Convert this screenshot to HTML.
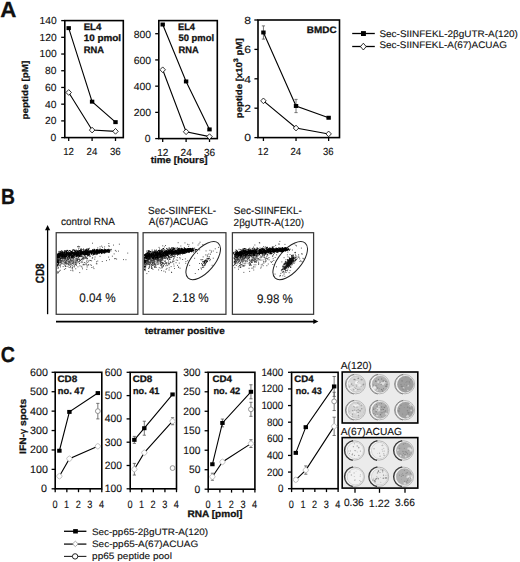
<!DOCTYPE html>
<html><head><meta charset="utf-8"><style>
html,body{margin:0;padding:0;background:#fff;}
svg{display:block;}
text{stroke:#111;stroke-width:0.12px;}
text[font-weight=bold]{stroke-width:0.28px;}
</style></head><body>
<svg width="520" height="562" viewBox="0 0 520 562" font-family="&quot;Liberation Sans&quot;, sans-serif" fill="#000" text-rendering="geometricPrecision">
<text transform="translate(0.14,16.60) scale(1.0244,1)" font-size="21.800" font-weight="bold" fill="#111">A</text>
<rect x="64.80" y="20.60" width="58.50" height="117.00" fill="none" stroke="#000" stroke-width="1.6"/>
<line x1="61.20" y1="137.60" x2="64.80" y2="137.60" stroke="#000" stroke-width="1.3"/>
<text transform="translate(50.62,140.99) scale(0.9999,1)" font-size="10.285" fill="#111">0</text>
<line x1="61.20" y1="120.89" x2="64.80" y2="120.89" stroke="#000" stroke-width="1.3"/>
<text transform="translate(45.06,124.28) scale(0.9999,1)" font-size="10.285" fill="#111">20</text>
<line x1="61.20" y1="104.17" x2="64.80" y2="104.17" stroke="#000" stroke-width="1.3"/>
<text transform="translate(45.06,107.57) scale(0.9999,1)" font-size="10.285" fill="#111">40</text>
<line x1="61.20" y1="87.46" x2="64.80" y2="87.46" stroke="#000" stroke-width="1.3"/>
<text transform="translate(45.06,90.85) scale(0.9999,1)" font-size="10.285" fill="#111">60</text>
<line x1="61.20" y1="70.74" x2="64.80" y2="70.74" stroke="#000" stroke-width="1.3"/>
<text transform="translate(45.06,74.14) scale(0.9999,1)" font-size="10.285" fill="#111">80</text>
<line x1="61.20" y1="54.03" x2="64.80" y2="54.03" stroke="#000" stroke-width="1.3"/>
<text transform="translate(39.50,57.42) scale(0.9999,1)" font-size="10.285" fill="#111">100</text>
<line x1="61.20" y1="37.31" x2="64.80" y2="37.31" stroke="#000" stroke-width="1.3"/>
<text transform="translate(39.50,40.71) scale(0.9999,1)" font-size="10.285" fill="#111">120</text>
<line x1="61.20" y1="20.60" x2="64.80" y2="20.60" stroke="#000" stroke-width="1.3"/>
<text transform="translate(39.50,23.99) scale(0.9999,1)" font-size="10.285" fill="#111">140</text>
<line x1="68.70" y1="137.60" x2="68.70" y2="141.00" stroke="#000" stroke-width="1.3"/>
<text transform="translate(63.14,154.98) scale(0.9457,1)" font-size="10.285" fill="#111">12</text>
<line x1="92.10" y1="137.60" x2="92.10" y2="141.00" stroke="#000" stroke-width="1.3"/>
<text transform="translate(86.54,154.98) scale(0.9457,1)" font-size="10.285" fill="#111">24</text>
<line x1="115.50" y1="137.60" x2="115.50" y2="141.00" stroke="#000" stroke-width="1.3"/>
<text transform="translate(109.94,154.98) scale(0.9457,1)" font-size="10.285" fill="#111">36</text>
<path d="M68.70,28.12 L92.10,101.66 L115.50,122.14" fill="none" stroke="#000" stroke-width="1.1"/>
<rect x="66.50" y="26.14" width="4.40" height="3.96" fill="#000"/>
<rect x="89.90" y="99.68" width="4.40" height="3.96" fill="#000"/>
<rect x="113.30" y="120.16" width="4.40" height="3.96" fill="#000"/>
<path d="M68.70,92.47 L92.10,130.08 L115.50,131.33" fill="none" stroke="#000" stroke-width="1.1"/>
<path d="M68.70,89.61 L71.45,92.47 L68.70,95.33 L65.95,92.47 Z" fill="#fff" stroke="#000" stroke-width="0.8"/>
<path d="M92.10,127.22 L94.85,130.08 L92.10,132.94 L89.35,130.08 Z" fill="#fff" stroke="#000" stroke-width="0.8"/>
<path d="M115.50,128.47 L118.25,131.33 L115.50,134.19 L112.75,131.33 Z" fill="#fff" stroke="#000" stroke-width="0.8"/>
<text transform="translate(83.66,29.88) scale(1.0262,1)" font-size="9.416" font-weight="bold" fill="#111">EL4</text>
<text transform="translate(83.68,41.10) scale(1.0530,1)" font-size="9.416" font-weight="bold" fill="#111">10 pmol</text>
<text transform="translate(83.70,53.19) scale(0.9942,1)" font-size="9.416" font-weight="bold" fill="#111">RNA</text>
<text transform="translate(28.29,119.59) rotate(-90) scale(1.1424,1)" font-size="8.685" font-weight="bold" fill="#111">peptide [pM]</text>
<rect x="158.80" y="20.60" width="58.50" height="118.00" fill="none" stroke="#000" stroke-width="1.6"/>
<line x1="155.20" y1="138.60" x2="158.80" y2="138.60" stroke="#000" stroke-width="1.3"/>
<text transform="translate(144.87,142.38) scale(1.0170,1)" font-size="10.285" fill="#111">0</text>
<line x1="155.20" y1="112.38" x2="158.80" y2="112.38" stroke="#000" stroke-width="1.3"/>
<text transform="translate(133.75,116.16) scale(1.0170,1)" font-size="10.285" fill="#111">200</text>
<line x1="155.20" y1="86.16" x2="158.80" y2="86.16" stroke="#000" stroke-width="1.3"/>
<text transform="translate(133.75,89.94) scale(1.0170,1)" font-size="10.285" fill="#111">400</text>
<line x1="155.20" y1="59.93" x2="158.80" y2="59.93" stroke="#000" stroke-width="1.3"/>
<text transform="translate(133.75,63.72) scale(1.0170,1)" font-size="10.285" fill="#111">600</text>
<line x1="155.20" y1="33.71" x2="158.80" y2="33.71" stroke="#000" stroke-width="1.3"/>
<text transform="translate(133.75,37.50) scale(1.0170,1)" font-size="10.285" fill="#111">800</text>
<line x1="162.70" y1="138.60" x2="162.70" y2="142.00" stroke="#000" stroke-width="1.3"/>
<text transform="translate(157.14,155.61) scale(0.9807,1)" font-size="10.285" fill="#111">12</text>
<line x1="186.10" y1="138.60" x2="186.10" y2="142.00" stroke="#000" stroke-width="1.3"/>
<text transform="translate(180.54,155.61) scale(0.9807,1)" font-size="10.285" fill="#111">24</text>
<line x1="209.50" y1="138.60" x2="209.50" y2="142.00" stroke="#000" stroke-width="1.3"/>
<text transform="translate(203.94,155.61) scale(0.9807,1)" font-size="10.285" fill="#111">36</text>
<path d="M162.70,24.53 L186.10,81.44 L209.50,129.42" fill="none" stroke="#000" stroke-width="1.1"/>
<rect x="160.50" y="22.55" width="4.40" height="3.96" fill="#000"/>
<rect x="183.90" y="79.46" width="4.40" height="3.96" fill="#000"/>
<rect x="207.30" y="127.44" width="4.40" height="3.96" fill="#000"/>
<path d="M162.70,69.77 L186.10,131.78 L209.50,136.63" fill="none" stroke="#000" stroke-width="1.1"/>
<path d="M162.70,66.91 L165.45,69.77 L162.70,72.63 L159.95,69.77 Z" fill="#fff" stroke="#000" stroke-width="0.8"/>
<path d="M186.10,128.92 L188.85,131.78 L186.10,134.64 L183.35,131.78 Z" fill="#fff" stroke="#000" stroke-width="0.8"/>
<path d="M209.50,133.77 L212.25,136.63 L209.50,139.49 L206.75,136.63 Z" fill="#fff" stroke="#000" stroke-width="0.8"/>
<text transform="translate(177.97,29.87) scale(0.9880,1)" font-size="9.416" font-weight="bold" fill="#111">EL4</text>
<text transform="translate(178.51,40.98) scale(1.0000,1)" font-size="9.416" font-weight="bold" fill="#111">50 pmol</text>
<text transform="translate(178.50,53.28) scale(0.9859,1)" font-size="9.416" font-weight="bold" fill="#111">RNA</text>
<text transform="translate(150.76,163.21) scale(1.0624,1)" font-size="9.275" font-weight="bold" fill="#111">time [hours]</text>
<rect x="258.00" y="20.00" width="81.50" height="117.60" fill="none" stroke="#000" stroke-width="1.6"/>
<line x1="254.40" y1="137.60" x2="258.00" y2="137.60" stroke="#000" stroke-width="1.3"/>
<text transform="translate(244.34,141.46) scale(1.1842,1)" font-size="10.285" fill="#111">0</text>
<line x1="254.40" y1="108.20" x2="258.00" y2="108.20" stroke="#000" stroke-width="1.3"/>
<text transform="translate(244.34,112.06) scale(1.1842,1)" font-size="10.285" fill="#111">2</text>
<line x1="254.40" y1="78.80" x2="258.00" y2="78.80" stroke="#000" stroke-width="1.3"/>
<text transform="translate(244.34,82.66) scale(1.1842,1)" font-size="10.285" fill="#111">4</text>
<line x1="254.40" y1="49.40" x2="258.00" y2="49.40" stroke="#000" stroke-width="1.3"/>
<text transform="translate(244.34,53.26) scale(1.1842,1)" font-size="10.285" fill="#111">6</text>
<line x1="254.40" y1="20.00" x2="258.00" y2="20.00" stroke="#000" stroke-width="1.3"/>
<text transform="translate(244.34,23.86) scale(1.1842,1)" font-size="10.285" fill="#111">8</text>
<line x1="263.43" y1="137.60" x2="263.43" y2="141.00" stroke="#000" stroke-width="1.3"/>
<text transform="translate(257.87,154.93) scale(0.9281,1)" font-size="10.285" fill="#111">12</text>
<line x1="296.03" y1="137.60" x2="296.03" y2="141.00" stroke="#000" stroke-width="1.3"/>
<text transform="translate(290.47,154.93) scale(0.9281,1)" font-size="10.285" fill="#111">24</text>
<line x1="328.63" y1="137.60" x2="328.63" y2="141.00" stroke="#000" stroke-width="1.3"/>
<text transform="translate(323.07,154.93) scale(0.9281,1)" font-size="10.285" fill="#111">36</text>
<line x1="263.43" y1="25.88" x2="263.43" y2="39.11" stroke="#555" stroke-width="0.8"/>
<line x1="261.83" y1="25.88" x2="265.03" y2="25.88" stroke="#555" stroke-width="0.8"/>
<line x1="261.83" y1="39.11" x2="265.03" y2="39.11" stroke="#555" stroke-width="0.8"/>
<line x1="296.03" y1="99.38" x2="296.03" y2="112.61" stroke="#555" stroke-width="0.8"/>
<line x1="294.43" y1="99.38" x2="297.63" y2="99.38" stroke="#555" stroke-width="0.8"/>
<line x1="294.43" y1="112.61" x2="297.63" y2="112.61" stroke="#555" stroke-width="0.8"/>
<path d="M263.43,32.49 L296.03,106.00 L328.63,117.75" fill="none" stroke="#000" stroke-width="1.1"/>
<rect x="261.23" y="30.51" width="4.40" height="3.96" fill="#000"/>
<rect x="293.83" y="104.02" width="4.40" height="3.96" fill="#000"/>
<rect x="326.43" y="115.77" width="4.40" height="3.96" fill="#000"/>
<path d="M263.43,100.85 L296.03,128.04 L328.63,133.92" fill="none" stroke="#000" stroke-width="1.1"/>
<path d="M263.43,97.99 L266.18,100.85 L263.43,103.71 L260.68,100.85 Z" fill="#fff" stroke="#000" stroke-width="0.8"/>
<path d="M296.03,125.18 L298.78,128.04 L296.03,130.91 L293.28,128.04 Z" fill="#fff" stroke="#000" stroke-width="0.8"/>
<path d="M328.63,131.06 L331.38,133.92 L328.63,136.78 L325.88,133.92 Z" fill="#fff" stroke="#000" stroke-width="0.8"/>
<text transform="translate(306.77,32.59) scale(1.0561,1)" font-size="9.416" font-weight="bold" fill="#111">BMDC</text>
<text transform="translate(241.87,118.18) rotate(-90) scale(1.1076,1)" font-size="8.685" font-weight="bold" fill="#111">peptide [x10<tspan font-size="6.5" dy="-3.6">3</tspan><tspan dy="3.6"> pM]</tspan></text>
<line x1="352.20" y1="33.50" x2="374.80" y2="33.50" stroke="#000" stroke-width="1.3"/>
<rect x="361.00" y="31.10" width="4.90" height="4.90" fill="#000"/>
<line x1="352.20" y1="46.50" x2="374.80" y2="46.50" stroke="#000" stroke-width="1.3"/>
<path d="M363.35,43.20 L366.20,46.60 L363.35,50.00 L360.50,46.60 Z" fill="#fff" stroke="#000" stroke-width="0.8"/>
<text transform="translate(379.42,37.16) scale(1.0478,1)" font-size="9.500" fill="#111">Sec-SIINFEKL-2βgUTR-A(120)</text>
<text transform="translate(379.43,48.47) scale(1.0451,1)" font-size="9.500" fill="#111">Sec-SIINFEKL-A(67)ACUAG</text>
<text transform="translate(0.92,203.59) scale(0.8871,1)" font-size="21.800" font-weight="bold" fill="#111">B</text>
<rect x="56.20" y="232.7" width="81.65" height="81.6" fill="none" stroke="#3a3a3a" stroke-width="1.25"/>
<rect x="143.10" y="232.7" width="82.85" height="81.6" fill="none" stroke="#3a3a3a" stroke-width="1.25"/>
<rect x="232.40" y="232.7" width="81.20" height="81.6" fill="none" stroke="#3a3a3a" stroke-width="1.25"/>
<line x1="47.60" y1="229.00" x2="47.60" y2="314.20" stroke="#000" stroke-width="1.3"/>
<path d="M47.6,225 L50.2,230.2 L45.0,230.2 Z" fill="#000"/>
<line x1="56.00" y1="321.60" x2="314.00" y2="321.60" stroke="#000" stroke-width="1.6"/>
<path d="M318.4,321.6 L313.3,319.1 L313.3,324.1 Z" fill="#000"/>
<text transform="translate(43.51,283.22) rotate(-90) scale(0.8242,1)" font-size="11.984" font-weight="bold" fill="#111">CD8</text>
<text transform="translate(144.67,333.72) scale(1.0398,1)" font-size="9.568" font-weight="bold" fill="#111">tetramer positive</text>
<text transform="translate(60.88,225.17) scale(0.9662,1)" font-size="10.369" fill="#111">control RNA</text>
<text transform="translate(148.01,214.38) scale(0.9613,1)" font-size="10.369" fill="#111">Sec-SIINFEKL-</text>
<text transform="translate(148.78,225.40) scale(0.9554,1)" font-size="10.369" fill="#111">A(67)ACUAG</text>
<text transform="translate(233.78,214.45) scale(0.9603,1)" font-size="10.369" fill="#111">Sec-SIINFEKL-</text>
<text transform="translate(233.60,225.61) scale(0.9616,1)" font-size="10.369" fill="#111">2βgUTR-A(120)</text>
<text transform="translate(79.17,302.33) scale(0.9345,1)" font-size="12.518" fill="#111">0.04 %</text>
<text transform="translate(172.44,302.14) scale(0.9322,1)" font-size="12.518" fill="#111">2.18 %</text>
<text transform="translate(256.90,302.55) scale(0.9234,1)" font-size="12.518" fill="#111">9.98 %</text>
<ellipse cx="203.2" cy="260.6" rx="23.1" ry="11.3" transform="rotate(-49.5 203.2 260.6)" fill="none" stroke="#222" stroke-width="1"/>
<ellipse cx="290.2" cy="260.6" rx="23.1" ry="11.3" transform="rotate(-49.5 290.2 260.6)" fill="none" stroke="#222" stroke-width="1"/>
<path d="M65.7 260.5h0.9M82.9 264.3h0.9M67.9 256.7h0.9M60.5 261.3h0.9M99.6 256.3h0.9M72.5 262.4h0.9M71.8 268.5h0.9M62.7 266.6h0.9M67.1 257.7h0.9M60.1 262.7h0.9M83.5 257.9h0.9M61.3 262.0h0.9M84.3 264.7h0.9M63.9 269.4h0.9M64.0 257.5h0.9M72.1 258.2h0.9M95.9 263.7h0.9M86.1 257.5h0.9M78.2 261.9h0.9M74.8 261.6h0.9M67.4 258.9h0.9M72.7 262.8h0.9M63.4 261.4h0.9M67.7 262.6h0.9M77.1 259.9h0.9M68.5 258.6h0.9M65.2 268.6h0.9M59.4 259.5h0.9M82.3 259.9h0.9M59.0 260.3h0.9M67.3 263.6h0.9M63.5 259.1h0.9M79.1 256.7h0.9M71.7 265.6h0.9M71.4 260.8h0.9M62.7 257.3h0.9M78.8 259.6h0.9M83.0 257.3h0.9M58.2 262.4h0.9M75.3 268.8h0.9M80.7 256.3h0.9M72.9 257.0h0.9M73.3 262.2h0.9M68.6 256.4h0.9M80.1 260.5h0.9M73.1 258.7h0.9M77.6 258.2h0.9M77.3 259.1h0.9M59.6 261.5h0.9M65.2 263.5h0.9M84.6 258.5h0.9M65.2 266.5h0.9M84.7 257.0h0.9M58.5 259.1h0.9M64.2 257.0h0.9M69.8 258.9h0.9M60.0 262.2h0.9M86.6 256.3h0.9M58.7 256.6h0.9M59.7 260.0h0.9M66.8 258.4h0.9M96.1 261.8h0.9M94.6 257.0h0.9M69.7 264.0h0.9M74.1 266.0h0.9M81.2 256.4h0.9M69.9 261.7h0.9M63.8 263.2h0.9M82.5 258.2h0.9M68.6 257.0h0.9M61.4 261.9h0.9M67.6 261.3h0.9M86.6 265.7h0.9M74.2 262.9h0.9M82.6 264.9h0.9M57.7 264.0h0.9M60.5 256.5h0.9M68.6 263.2h0.9M67.7 260.3h0.9M84.8 256.4h0.9M65.5 262.0h0.9M76.9 260.5h0.9M81.7 259.0h0.9M75.9 264.2h0.9M88.2 261.2h0.9M86.7 267.0h0.9M62.7 260.7h0.9M87.1 258.4h0.9M61.9 258.8h0.9M77.5 261.8h0.9M68.8 261.3h0.9M72.5 270.9h0.9M62.1 259.0h0.9M60.5 263.1h0.9M66.1 260.8h0.9M77.5 266.8h0.9M71.1 257.7h0.9M78.9 263.3h0.9M77.2 259.5h0.9M91.4 267.5h0.9M58.9 260.1h0.9M68.1 259.5h0.9M79.2 261.3h0.9M70.1 259.6h0.9M71.4 256.9h0.9M78.4 259.2h0.9M60.7 258.3h0.9M63.4 257.5h0.9M59.8 270.3h0.9M68.8 262.5h0.9M73.8 267.0h0.9M65.3 259.5h0.9M57.7 257.3h0.9M87.9 264.6h0.9M67.5 266.3h0.9M88.8 260.3h0.9M64.4 264.4h0.9M67.2 258.7h0.9M86.7 260.0h0.9M72.2 270.0h0.9M87.7 265.1h0.9M67.5 263.6h0.9M69.5 257.8h0.9M58.7 258.7h0.9M68.0 256.6h0.9M75.3 260.3h0.9M69.5 265.3h0.9M82.7 258.8h0.9M79.5 260.4h0.9M91.2 260.8h0.9M61.7 260.0h0.9M73.4 259.4h0.9M69.2 258.7h0.9M83.5 259.0h0.9M68.6 258.2h0.9M59.5 256.5h0.9M79.3 272.6h0.9M85.1 257.2h0.9M81.4 261.4h0.9M70.4 259.4h0.9M85.6 262.9h0.9M82.1 268.8h0.9M75.8 262.6h0.9M65.8 261.1h0.9M83.0 258.7h0.9M63.4 256.4h0.9M62.4 260.5h0.9M71.2 263.9h0.9M63.0 258.4h0.9M65.8 262.8h0.9M61.7 263.7h0.9M65.4 259.2h0.9M60.4 260.8h0.9M91.8 258.2h0.9M59.1 259.9h0.9M82.3 262.3h0.9M72.3 259.8h0.9M86.3 269.4h0.9M71.6 257.3h0.9M63.3 261.9h0.9M64.3 260.8h0.9M79.1 263.6h0.9M69.8 264.1h0.9M61.4 256.3h0.9M93.5 268.6h0.9M68.9 256.5h0.9M62.2 257.8h0.9M63.9 259.0h0.9M70.2 258.9h0.9M68.5 264.1h0.9M59.1 258.1h0.9M72.9 264.2h0.9M67.4 259.4h0.9M68.3 259.4h0.9M82.6 257.0h0.9M77.4 261.9h0.9M90.1 260.5h0.9M58.6 260.6h0.9M61.3 262.9h0.9M75.7 260.0h0.9M65.2 261.7h0.9M60.0 260.5h0.9M59.4 256.3h0.9M62.8 258.5h0.9M68.8 261.5h0.9M68.7 267.5h0.9M64.6 265.9h0.9M62.8 257.9h0.9M81.9 258.3h0.9M58.5 263.1h0.9M86.2 261.2h0.9M81.1 259.4h0.9M92.2 257.7h0.9M72.2 257.0h0.9M71.0 256.8h0.9M59.0 271.2h0.9M58.9 256.4h0.9M59.8 258.3h0.9M58.7 256.8h0.9M75.1 262.3h0.9M78.0 256.6h0.9M75.5 259.2h0.9M60.0 266.9h0.9M84.1 262.6h0.9M76.4 259.8h0.9M57.6 256.4h0.9M57.6 263.9h0.9M67.8 258.8h0.9M66.1 264.1h0.9M61.6 256.7h0.9M80.7 262.6h0.9M64.9 262.5h0.9M67.5 261.7h0.9M65.1 256.5h0.9M64.7 262.2h0.9M62.2 257.7h0.9M70.4 267.6h0.9M60.6 257.1h0.9M59.5 256.6h0.9M65.5 266.3h0.9M94.3 259.2h0.9M70.4 270.4h0.9M70.9 258.9h0.9M65.9 263.4h0.9M60.3 259.9h0.9M62.9 264.1h0.9M74.0 257.7h0.9M70.1 260.4h0.9M70.2 266.5h0.9M72.6 260.7h0.9M73.8 260.2h0.9M89.8 264.8h0.9M67.0 258.5h0.9M64.7 262.8h0.9M77.1 260.5h0.9M76.2 258.7h0.9M72.0 267.5h0.9M58.6 261.5h0.9M106.1 260.6h0.9M58.0 263.0h0.9M75.0 264.5h0.9M74.7 264.2h0.9M81.9 258.3h0.9M91.1 265.3h0.9M75.6 256.7h0.9M80.9 259.6h0.9M76.1 265.3h0.9M65.2 258.4h0.9M79.5 265.8h0.9M67.2 259.6h0.9M68.0 257.4h0.9M60.3 259.4h0.9M64.7 265.3h0.9M68.6 265.1h0.9M70.3 260.8h0.9M63.4 256.6h0.9M71.0 261.2h0.9M58.4 257.6h0.9M73.6 257.3h0.9M85.3 257.9h0.9M92.9 267.0h0.9M76.4 263.1h0.9M71.8 256.5h0.9M69.4 262.5h0.9M73.5 261.4h0.9M69.9 262.9h0.9M67.6 264.3h0.9M63.2 258.1h0.9M76.6 256.7h0.9M60.8 260.9h0.9M78.0 257.4h0.9M59.9 258.1h0.9M70.7 257.5h0.9M61.2 258.0h0.9M72.7 256.7h0.9M64.3 258.9h0.9M60.4 264.6h0.9M63.7 258.5h0.9M96.5 263.8h0.9M88.8 256.6h0.9M66.2 260.3h0.9M59.4 259.5h0.9M57.9 263.8h0.9M61.4 263.3h0.9M60.3 260.6h0.9M65.3 258.3h0.9M59.5 264.8h0.9M69.0 260.9h0.9M63.4 259.0h0.9M57.9 256.4h0.9M75.4 258.6h0.9M61.6 258.6h0.9M77.4 259.3h0.9M69.2 257.3h0.9M60.1 259.4h0.9M59.5 265.4h0.9M76.2 261.0h0.9M72.5 258.2h0.9M65.8 262.8h0.9M63.2 258.3h0.9M57.9 264.4h0.9M61.8 257.8h0.9M87.1 258.4h0.9M65.4 261.1h0.9M68.8 257.8h0.9M72.1 263.4h0.9M78.7 259.5h0.9M72.5 260.6h0.9M63.8 262.7h0.9M60.6 261.2h0.9M75.7 257.0h0.9M72.6 266.2h0.9M65.5 262.9h0.9M61.0 260.6h0.9M71.2 260.4h0.9M80.8 266.3h0.9M59.4 257.8h0.9M61.4 257.9h0.9M72.6 263.2h0.9M81.6 267.2h0.9M60.9 257.7h0.9M74.3 257.3h0.9M78.1 257.4h0.9M84.4 257.8h0.9M85.7 264.1h0.9M71.8 261.3h0.9M72.5 256.6h0.9M59.5 265.7h0.9M75.3 263.8h0.9M58.2 263.5h0.9M65.9 260.0h0.9M75.9 261.0h0.9M70.8 262.8h0.9M71.6 256.4h0.9M79.2 261.2h0.9M71.0 257.1h0.9M62.2 261.2h0.9M80.4 256.7h0.9M77.3 256.7h0.9M69.9 257.1h0.9M66.6 256.8h0.9M57.6 258.4h0.9M59.9 262.6h0.9M63.6 257.2h0.9M76.5 258.5h0.9M68.1 261.8h0.9M73.0 261.9h0.9M62.8 256.3h0.9M74.4 265.0h0.9M81.9 256.7h0.9M70.6 264.7h0.9M57.9 257.5h0.9M79.3 259.0h0.9M68.6 256.9h0.9M77.3 259.3h0.9M67.2 258.1h0.9M86.1 258.6h0.9M97.3 261.1h0.9M72.7 258.7h0.9M83.3 257.2h0.9M64.1 260.3h0.9M61.9 257.1h0.9M68.1 264.6h0.9M74.9 262.8h0.9M66.7 260.3h0.9M72.5 263.6h0.9M87.3 262.4h0.9M59.3 262.2h0.9M89.9 256.3h0.9M79.7 260.2h0.9M73.6 257.7h0.9M58.1 257.3h0.9M101.8 261.5h0.9M58.7 257.5h0.9M70.8 258.1h0.9M85.7 264.2h0.9M83.4 264.7h0.9M65.5 258.0h0.9M113.0 245.1h0.9M104.2 246.9h0.9M108.4 243.5h0.9M108.1 245.9h0.9M78.0 249.0h0.9M102.0 247.3h0.9M78.6 248.0h0.9M101.2 246.1h0.9M78.0 246.3h0.9M79.2 246.6h0.9M77.5 246.8h0.9M97.3 247.9h0.9M77.3 246.6h0.9M89.0 248.3h0.9M92.0 243.2h0.9M118.9 244.2h0.9M109.0 246.2h0.9M99.6 246.8h0.9M114.0 258.7h0.9M127.3 253.1h0.9M118.1 251.1h0.9M109.0 259.7h0.9M108.2 257.1h0.9M114.9 250.4h0.9M115.8 251.3h0.9M111.1 249.4h0.9M125.5 259.7h0.9M113.7 253.9h0.9M123.0 259.6h0.9M111.9 256.2h0.9M116.2 259.1h0.9M115.2 258.6h0.9" stroke="#3a3a3a" stroke-width="0.9" fill="none"/>
<path d="M64.4 255.7h0.9M82.4 253.2h0.9M87.2 253.9h0.9M59.2 253.4h0.9M65.4 258.1h0.9M102.2 251.4h0.9M61.5 257.2h0.9M64.5 253.2h0.9M103.1 252.0h0.9M88.1 253.0h0.9M76.2 253.2h0.9M106.8 250.3h0.9M90.0 250.9h0.9M71.7 257.1h0.9M64.9 256.6h0.9M95.8 251.8h0.9M90.4 252.5h0.9M83.0 251.7h0.9M97.1 249.4h0.9M84.7 249.8h0.9M104.6 250.4h0.9M68.2 254.0h0.9M84.9 250.8h0.9M81.6 254.3h0.9M75.4 254.5h0.9M86.7 252.8h0.9M69.7 251.0h0.9M96.5 251.4h0.9M99.4 251.3h0.9M64.4 252.4h0.9M80.8 249.3h0.9M71.8 257.3h0.9M62.1 255.8h0.9M100.8 250.8h0.9M79.1 256.0h0.9M65.4 256.4h0.9M90.5 252.8h0.9M68.1 254.6h0.9M101.0 252.0h0.9M68.8 256.7h0.9M59.5 255.1h0.9M68.0 253.8h0.9M75.1 254.6h0.9M80.9 249.1h0.9M101.2 251.3h0.9M91.6 251.5h0.9M74.8 253.6h0.9M58.6 254.8h0.9M66.0 255.0h0.9M105.3 250.9h0.9M80.5 253.2h0.9M108.8 250.7h0.9M60.6 255.7h0.9M59.5 254.2h0.9M98.5 252.6h0.9M86.5 249.9h0.9M73.3 254.1h0.9M73.7 254.5h0.9M62.4 252.6h0.9M66.6 253.6h0.9M59.0 257.2h0.9M98.1 251.3h0.9M80.8 251.6h0.9M64.4 250.7h0.9M93.5 252.4h0.9M106.5 250.9h0.9M61.0 255.9h0.9M87.0 255.7h0.9M100.7 251.2h0.9M59.1 255.3h0.9M96.6 250.8h0.9M108.3 250.8h0.9M62.6 254.7h0.9M58.7 256.3h0.9M72.5 254.8h0.9M93.0 250.9h0.9M82.1 252.1h0.9M98.8 253.0h0.9M68.8 252.5h0.9M73.6 255.1h0.9M70.8 256.8h0.9M104.5 251.4h0.9M106.7 251.0h0.9M74.8 256.0h0.9M79.4 253.8h0.9M73.6 253.7h0.9M93.9 251.6h0.9M59.9 256.9h0.9M61.3 256.0h0.9M77.9 256.0h0.9M70.2 253.5h0.9M98.4 251.1h0.9M93.7 251.3h0.9M84.5 253.2h0.9M89.9 251.2h0.9M91.4 253.4h0.9M95.5 252.2h0.9M102.2 250.2h0.9M65.5 250.5h0.9M88.3 249.6h0.9M65.2 257.0h0.9M79.7 253.1h0.9M95.7 251.9h0.9M100.7 250.8h0.9M94.5 252.3h0.9M59.6 251.9h0.9M75.7 250.0h0.9M66.2 251.6h0.9M105.4 250.9h0.9M65.2 255.7h0.9M70.2 254.9h0.9M75.6 253.3h0.9M61.0 252.8h0.9M99.6 252.2h0.9M88.8 251.9h0.9M66.0 254.4h0.9M82.3 252.8h0.9M61.9 254.0h0.9M87.6 251.3h0.9M69.5 253.1h0.9M59.8 252.9h0.9M63.7 255.0h0.9M85.0 252.4h0.9M88.8 253.9h0.9M74.1 250.5h0.9M89.1 254.1h0.9M75.4 253.4h0.9M64.5 254.3h0.9M73.6 252.3h0.9M77.4 251.9h0.9M101.5 249.7h0.9M63.8 256.1h0.9M62.3 254.4h0.9M85.3 253.8h0.9M103.8 251.7h0.9M101.3 250.7h0.9M91.7 251.7h0.9M61.3 254.3h0.9M96.6 252.9h0.9M91.0 252.3h0.9M65.2 254.8h0.9M80.7 254.3h0.9M60.3 254.8h0.9M96.4 254.1h0.9M92.6 250.7h0.9M96.6 253.2h0.9M94.5 253.6h0.9M71.3 251.9h0.9M95.9 252.8h0.9M70.4 254.5h0.9M64.9 256.0h0.9M77.2 251.3h0.9M82.3 253.3h0.9M72.2 252.1h0.9M87.4 251.9h0.9M87.2 254.7h0.9M69.9 253.8h0.9M88.1 248.9h0.9M109.8 249.7h0.9M93.3 250.4h0.9M72.4 255.6h0.9M96.3 250.8h0.9M78.4 250.6h0.9M84.9 254.5h0.9M90.5 252.5h0.9M83.3 253.4h0.9M70.8 252.6h0.9M104.6 252.1h0.9M62.8 254.5h0.9M74.1 250.2h0.9M84.7 250.8h0.9M59.2 253.7h0.9M65.7 254.2h0.9M96.3 252.6h0.9M95.6 250.8h0.9M88.8 251.4h0.9M101.0 253.5h0.9M94.3 251.9h0.9M72.8 252.9h0.9M89.2 252.3h0.9M109.4 249.8h0.9M94.0 252.6h0.9M76.9 255.1h0.9M65.7 253.5h0.9M99.9 252.4h0.9M91.3 251.7h0.9M93.8 252.3h0.9M85.2 251.5h0.9M95.6 250.7h0.9M79.9 250.6h0.9M85.5 253.0h0.9M61.0 254.4h0.9M85.0 252.3h0.9M97.0 250.2h0.9M92.0 250.4h0.9M96.5 250.9h0.9M82.2 253.7h0.9M106.1 251.0h0.9M63.4 253.5h0.9M99.8 251.6h0.9M76.3 256.6h0.9M62.5 254.9h0.9M88.0 255.5h0.9M80.3 253.9h0.9M79.0 255.5h0.9M98.7 250.8h0.9M64.9 256.5h0.9M87.9 250.6h0.9M78.3 253.7h0.9M83.7 252.2h0.9M82.4 249.6h0.9M64.7 252.2h0.9M83.0 254.8h0.9M99.2 251.9h0.9M66.6 256.6h0.9M106.1 251.0h0.9M61.3 251.0h0.9M80.5 253.5h0.9M104.3 250.4h0.9M60.1 254.1h0.9M105.1 250.5h0.9M84.1 251.5h0.9M107.0 250.0h0.9M78.5 255.4h0.9M68.3 255.0h0.9M92.4 251.1h0.9M84.3 252.0h0.9M72.3 255.6h0.9M70.7 254.7h0.9M99.4 251.6h0.9M94.8 250.2h0.9M79.4 252.4h0.9M77.9 251.3h0.9M93.5 249.3h0.9M104.2 251.7h0.9M61.9 254.2h0.9M66.0 253.7h0.9M105.8 250.0h0.9M82.8 254.1h0.9M61.5 258.3h0.9M60.6 255.9h0.9M68.9 255.8h0.9M77.0 251.2h0.9M93.6 252.1h0.9M87.5 252.8h0.9M59.3 257.5h0.9M60.1 255.0h0.9M80.1 251.5h0.9M99.8 251.2h0.9M101.6 250.7h0.9M76.0 256.0h0.9M100.4 252.0h0.9M102.3 251.4h0.9M78.0 253.6h0.9M93.9 253.0h0.9M76.0 252.6h0.9M65.7 252.9h0.9M85.9 249.6h0.9M62.3 256.7h0.9M90.0 253.0h0.9M96.8 252.4h0.9M101.6 251.2h0.9M79.9 256.0h0.9M63.9 252.9h0.9M101.1 252.4h0.9M99.6 250.4h0.9M104.0 250.5h0.9M86.8 250.6h0.9M90.5 252.3h0.9M76.4 252.9h0.9M67.1 255.0h0.9M72.5 252.8h0.9M108.2 249.7h0.9M74.1 254.7h0.9M91.3 253.9h0.9M82.5 254.1h0.9M80.0 253.0h0.9M104.0 251.3h0.9M66.3 251.4h0.9M81.8 252.4h0.9M66.0 256.4h0.9M102.6 251.5h0.9M81.9 251.5h0.9M74.4 255.1h0.9M66.4 254.1h0.9M106.5 251.4h0.9M77.6 250.9h0.9M64.4 253.6h0.9M59.4 255.5h0.9M77.2 253.9h0.9M86.3 253.4h0.9M83.3 252.8h0.9M100.9 251.0h0.9M101.5 251.6h0.9M102.6 251.9h0.9M96.3 249.7h0.9M81.3 252.4h0.9M83.5 252.4h0.9M77.5 253.6h0.9M77.6 255.1h0.9M59.9 252.8h0.9M96.3 252.3h0.9M70.2 251.0h0.9M59.3 253.8h0.9M80.8 252.1h0.9M92.6 251.6h0.9M107.4 250.3h0.9M75.9 252.6h0.9M89.8 251.7h0.9M66.1 253.9h0.9M58.3 252.1h0.9M86.7 250.3h0.9M83.8 252.0h0.9M99.4 251.9h0.9M78.4 255.0h0.9M95.7 254.6h0.9M58.6 255.2h0.9M59.2 253.7h0.9M87.0 252.7h0.9M105.6 251.3h0.9M61.3 255.1h0.9M64.4 252.7h0.9M76.5 253.3h0.9M74.7 253.5h0.9M85.4 250.3h0.9M100.4 250.0h0.9M76.0 255.6h0.9M67.2 250.4h0.9M110.4 250.9h0.9M57.7 254.7h0.9M76.9 255.8h0.9M73.7 254.8h0.9M77.1 251.9h0.9M106.3 251.8h0.9M108.5 250.3h0.9M108.8 252.4h0.9M94.0 254.0h0.9M103.6 250.9h0.9M75.5 254.9h0.9M89.7 252.5h0.9M79.7 251.6h0.9M68.7 256.0h0.9M100.4 251.7h0.9M93.9 253.0h0.9M102.9 252.0h0.9M97.3 253.2h0.9M101.7 252.1h0.9M64.4 254.4h0.9M58.5 255.2h0.9M67.9 254.9h0.9M78.2 253.1h0.9M91.2 251.8h0.9M79.5 256.4h0.9M83.0 253.7h0.9M94.6 254.3h0.9M61.5 253.6h0.9M90.7 252.1h0.9M60.3 254.2h0.9M70.4 253.3h0.9M92.8 251.6h0.9M90.9 252.0h0.9M77.9 252.6h0.9M72.6 257.0h0.9M97.6 252.3h0.9M71.6 252.6h0.9M59.4 254.2h0.9M70.3 255.3h0.9M106.7 251.2h0.9M96.8 250.9h0.9M64.1 256.2h0.9M104.3 249.7h0.9M68.6 253.4h0.9M73.2 256.8h0.9M86.4 248.9h0.9M73.3 253.4h0.9M76.7 255.2h0.9M63.2 254.4h0.9M77.1 252.0h0.9M59.1 253.6h0.9M108.3 249.2h0.9M101.4 249.9h0.9M71.9 254.0h0.9M71.5 252.9h0.9M90.8 252.1h0.9M100.2 251.1h0.9M72.7 254.3h0.9M76.5 250.6h0.9M92.4 251.6h0.9M96.0 251.3h0.9M87.7 252.0h0.9M66.9 252.8h0.9M67.0 250.6h0.9M94.4 252.6h0.9M92.0 253.2h0.9M100.8 253.6h0.9M95.4 252.6h0.9M78.7 256.1h0.9M64.7 255.6h0.9M100.5 250.9h0.9M107.4 251.2h0.9M86.0 250.7h0.9M90.9 252.5h0.9M76.9 253.2h0.9M74.9 251.8h0.9M85.9 254.5h0.9M81.6 254.9h0.9M92.1 252.7h0.9M102.6 251.8h0.9M98.5 253.3h0.9M77.1 253.2h0.9M76.3 251.1h0.9M102.2 250.2h0.9M77.4 254.6h0.9M96.4 251.9h0.9M62.6 252.3h0.9M80.1 255.4h0.9M83.2 253.2h0.9M96.8 253.6h0.9M99.9 252.5h0.9M65.6 253.7h0.9M106.3 250.9h0.9M88.4 251.3h0.9M65.6 253.0h0.9M97.9 251.2h0.9M84.9 253.5h0.9M103.8 252.2h0.9M67.3 252.8h0.9M83.6 254.0h0.9M74.0 253.8h0.9M89.1 252.0h0.9M87.5 254.2h0.9M83.0 252.3h0.9M74.1 256.1h0.9M82.6 252.4h0.9M76.3 251.9h0.9M100.5 252.1h0.9M80.6 250.6h0.9M81.2 251.1h0.9M70.9 253.7h0.9M70.6 254.1h0.9M105.6 250.6h0.9M73.5 250.3h0.9M99.5 249.9h0.9M86.8 253.4h0.9M104.6 251.4h0.9M66.2 252.7h0.9M102.8 251.3h0.9M95.1 252.1h0.9M85.6 254.3h0.9M92.1 251.0h0.9M92.8 254.0h0.9M80.0 252.7h0.9M106.8 252.0h0.9M69.4 255.8h0.9M58.8 253.5h0.9M90.6 251.8h0.9M81.2 253.6h0.9M101.2 252.3h0.9M71.1 251.6h0.9M97.2 251.0h0.9M104.9 251.4h0.9M100.8 251.8h0.9M103.9 250.1h0.9M66.0 253.0h0.9M66.3 255.2h0.9M69.4 252.4h0.9M75.8 254.0h0.9M63.8 256.2h0.9M65.5 254.6h0.9M58.7 251.4h0.9M102.5 252.2h0.9M75.8 255.6h0.9M88.3 254.6h0.9M80.2 254.6h0.9M93.7 249.7h0.9M96.6 253.4h0.9M76.8 254.1h0.9M84.1 254.4h0.9M62.8 254.5h0.9M72.2 253.5h0.9M69.1 253.8h0.9M73.3 256.6h0.9M74.0 254.2h0.9M85.9 252.3h0.9M74.4 251.5h0.9M74.2 254.6h0.9M97.8 251.6h0.9M58.3 255.4h0.9M57.9 256.8h0.9M60.8 256.2h0.9M107.0 250.8h0.9M88.7 252.7h0.9M93.0 252.1h0.9M103.6 251.6h0.9M68.9 255.4h0.9M101.9 251.3h0.9M70.1 252.6h0.9M83.3 254.3h0.9M90.9 253.5h0.9M96.2 250.4h0.9M108.2 251.1h0.9M81.3 252.4h0.9M60.1 251.4h0.9M72.3 253.8h0.9M104.6 251.7h0.9M101.2 250.5h0.9M86.2 251.5h0.9M95.7 253.0h0.9M101.0 250.1h0.9M106.3 250.1h0.9M104.6 250.6h0.9M80.0 254.3h0.9M65.9 255.6h0.9M83.8 252.0h0.9M86.8 252.1h0.9M91.4 252.3h0.9M90.4 251.7h0.9M59.9 253.6h0.9M88.9 250.7h0.9M101.9 251.8h0.9M90.3 251.9h0.9M104.4 252.9h0.9M82.9 254.0h0.9M96.8 250.7h0.9M65.0 254.6h0.9M100.7 251.6h0.9M79.4 253.9h0.9M99.9 251.8h0.9M73.9 254.5h0.9M88.2 252.2h0.9M98.5 252.2h0.9M92.3 255.1h0.9M88.0 251.8h0.9M104.2 250.6h0.9M62.4 256.0h0.9M63.1 256.8h0.9M84.8 254.1h0.9M103.4 252.1h0.9M91.1 252.1h0.9M73.3 253.4h0.9M63.4 255.8h0.9M80.0 254.3h0.9M81.5 255.9h0.9M80.9 255.8h0.9M88.0 249.6h0.9M71.5 255.3h0.9M107.9 250.3h0.9M72.3 250.2h0.9M63.3 255.4h0.9M75.2 253.3h0.9M102.6 250.8h0.9M66.0 252.3h0.9M71.8 252.1h0.9M102.2 250.9h0.9M75.2 251.0h0.9M98.3 251.4h0.9M60.1 255.2h0.9M100.4 251.1h0.9M69.8 254.6h0.9M67.0 254.2h0.9M93.7 250.3h0.9M105.0 250.0h0.9M103.6 251.1h0.9M94.2 253.1h0.9M101.6 251.3h0.9M104.9 250.4h0.9M84.9 253.0h0.9M65.2 251.4h0.9M98.6 250.3h0.9M77.5 252.7h0.9M73.5 253.6h0.9M82.4 252.4h0.9M59.6 254.6h0.9M58.7 253.2h0.9M71.1 253.0h0.9M86.9 252.9h0.9M94.0 249.4h0.9M103.5 249.9h0.9M97.2 251.1h0.9M102.8 252.4h0.9M88.8 253.4h0.9M108.4 252.0h0.9M86.5 254.7h0.9M62.0 254.0h0.9M61.0 254.8h0.9M94.5 250.3h0.9M68.1 256.3h0.9M95.9 252.6h0.9M80.7 254.1h0.9M58.0 256.2h0.9M85.3 253.4h0.9M79.7 253.5h0.9M61.6 255.3h0.9M71.0 256.1h0.9M73.2 252.4h0.9M75.1 251.8h0.9M92.0 252.0h0.9M106.4 251.7h0.9M108.6 251.0h0.9M87.4 252.1h0.9M103.1 251.8h0.9M63.7 254.8h0.9M61.9 251.7h0.9M67.6 252.5h0.9M69.0 250.5h0.9M66.1 254.0h0.9M61.7 254.1h0.9M68.5 255.0h0.9M69.1 257.8h0.9M81.4 252.0h0.9M89.3 252.3h0.9M75.9 252.9h0.9M66.4 250.4h0.9M62.7 253.5h0.9M107.4 250.2h0.9M66.5 254.9h0.9M81.5 251.6h0.9M99.6 249.9h0.9M92.5 252.8h0.9M68.1 254.1h0.9M59.6 253.6h0.9M61.3 253.6h0.9M79.4 252.7h0.9M75.9 255.0h0.9M90.9 254.2h0.9M62.1 252.6h0.9M70.7 256.1h0.9M91.1 252.2h0.9M85.6 253.2h0.9M107.3 251.6h0.9M101.0 250.2h0.9M63.7 256.1h0.9M67.8 252.0h0.9M85.5 251.9h0.9M105.7 250.1h0.9M104.6 252.3h0.9M104.5 252.3h0.9M86.5 253.8h0.9M94.5 252.5h0.9M91.6 251.3h0.9M64.6 257.5h0.9M87.2 254.7h0.9M73.1 255.4h0.9M106.2 250.7h0.9M65.8 253.9h0.9M58.1 255.0h0.9M98.8 252.9h0.9M92.5 250.7h0.9M94.1 252.0h0.9M72.3 256.8h0.9M78.5 254.8h0.9M66.8 257.4h0.9M87.2 253.2h0.9M98.2 252.0h0.9M95.4 253.5h0.9M102.5 251.7h0.9M70.9 254.6h0.9M108.1 250.4h0.9M64.3 252.1h0.9M84.1 255.3h0.9M63.5 254.0h0.9M84.3 251.6h0.9M84.4 254.2h0.9M75.1 252.1h0.9M107.5 249.8h0.9M92.2 251.3h0.9M81.5 253.0h0.9M78.0 253.9h0.9M63.6 255.6h0.9M72.0 255.6h0.9M98.5 251.4h0.9M104.2 251.3h0.9M76.4 253.4h0.9M99.6 250.7h0.9M99.7 251.8h0.9M68.9 254.9h0.9M71.6 257.2h0.9M91.5 253.0h0.9M73.2 252.6h0.9M103.5 251.6h0.9M76.0 253.2h0.9M93.1 254.1h0.9M92.1 249.7h0.9M68.7 253.1h0.9M99.4 250.7h0.9M74.2 254.0h0.9M63.5 254.5h0.9M60.4 252.4h0.9M80.1 250.0h0.9M88.6 252.7h0.9M71.5 256.6h0.9M98.3 253.2h0.9M71.3 253.3h0.9M98.5 252.0h0.9M59.5 253.7h0.9M71.1 251.5h0.9M66.0 256.6h0.9M79.9 254.4h0.9M75.3 253.1h0.9M77.4 252.8h0.9M98.7 252.5h0.9M86.1 253.2h0.9M87.3 252.0h0.9M77.2 254.0h0.9M96.7 251.7h0.9M82.5 252.3h0.9M93.9 251.0h0.9M101.6 252.1h0.9M105.5 250.5h0.9M79.3 251.3h0.9M71.1 257.2h0.9M101.5 252.5h0.9M94.7 252.5h0.9M96.3 251.6h0.9M69.0 254.6h0.9M79.4 250.8h0.9M100.2 251.3h0.9M70.2 254.6h0.9M97.0 251.4h0.9M84.2 253.6h0.9M68.9 252.9h0.9M76.5 253.9h0.9M61.8 252.3h0.9M90.5 252.2h0.9M93.0 251.2h0.9M59.3 253.0h0.9M72.9 253.2h0.9M94.9 251.9h0.9M68.0 253.3h0.9M84.1 254.3h0.9M96.6 250.8h0.9M85.7 254.2h0.9M64.1 255.9h0.9M101.4 250.6h0.9M93.9 253.8h0.9M85.4 250.5h0.9M74.4 254.6h0.9M86.3 252.7h0.9M77.3 254.8h0.9M63.9 252.1h0.9M64.1 252.7h0.9M60.1 253.7h0.9M66.5 254.5h0.9M70.2 254.2h0.9M88.7 252.4h0.9M86.2 252.2h0.9M86.6 251.5h0.9M97.4 250.0h0.9M62.7 254.1h0.9M77.1 254.3h0.9M61.9 256.5h0.9M78.6 252.4h0.9M61.9 256.6h0.9M61.2 252.7h0.9M63.2 256.0h0.9M77.2 251.6h0.9M94.7 252.1h0.9M72.0 252.2h0.9M93.7 250.6h0.9M69.6 253.2h0.9M108.6 251.9h0.9M81.0 252.0h0.9M61.7 255.9h0.9M80.0 253.4h0.9M86.3 253.1h0.9M97.5 251.9h0.9M60.7 255.9h0.9M96.3 250.2h0.9M85.7 252.7h0.9M86.1 253.2h0.9M60.4 254.0h0.9M106.3 251.1h0.9M71.8 252.2h0.9M84.6 253.9h0.9M84.2 251.6h0.9M101.4 250.9h0.9M87.1 253.7h0.9M105.1 251.7h0.9M69.6 253.2h0.9M90.0 251.3h0.9M86.0 254.2h0.9M83.0 249.0h0.9M88.4 254.4h0.9M84.8 254.8h0.9M74.6 251.8h0.9M89.0 254.1h0.9M62.1 255.4h0.9M81.4 253.8h0.9M80.2 249.2h0.9M68.6 253.4h0.9M85.6 252.3h0.9M90.3 251.6h0.9M64.2 254.0h0.9M72.7 253.3h0.9M61.0 251.1h0.9M87.0 252.2h0.9M62.0 253.7h0.9M69.4 254.0h0.9M79.9 252.3h0.9M80.1 253.1h0.9M59.5 255.5h0.9M103.1 252.6h0.9M108.6 250.2h0.9M87.5 255.0h0.9M69.1 253.7h0.9M86.9 251.1h0.9M75.4 251.1h0.9M73.8 255.2h0.9M81.2 250.5h0.9M86.4 254.0h0.9M87.0 253.0h0.9M91.2 251.3h0.9M71.3 252.8h0.9M62.5 255.5h0.9M70.6 254.3h0.9M74.1 255.0h0.9M87.4 252.5h0.9M109.1 250.4h0.9M73.4 254.7h0.9M62.9 252.7h0.9M86.9 253.8h0.9M63.5 254.8h0.9M83.2 251.0h0.9M91.2 250.7h0.9M88.2 251.9h0.9M66.0 251.4h0.9M75.6 256.0h0.9M102.8 251.9h0.9M62.5 253.0h0.9M90.7 252.0h0.9M79.4 256.1h0.9M87.7 253.1h0.9M77.4 251.6h0.9M64.2 251.0h0.9M85.3 250.0h0.9M58.0 257.0h0.9M99.3 251.7h0.9M96.3 250.1h0.9M76.4 254.7h0.9M107.5 250.5h0.9M83.7 251.7h0.9M104.6 250.5h0.9M60.0 254.2h0.9M72.7 256.7h0.9M78.0 251.7h0.9M105.9 250.5h0.9M93.1 253.7h0.9M78.8 255.8h0.9M58.3 253.6h0.9M89.3 255.4h0.9M78.0 255.2h0.9M63.8 252.1h0.9M88.5 255.1h0.9M79.8 250.6h0.9M73.2 255.0h0.9M71.4 251.9h0.9M83.4 249.9h0.9M70.3 255.5h0.9M77.3 254.1h0.9M102.9 251.0h0.9M81.3 253.3h0.9M70.6 253.8h0.9M83.4 252.4h0.9M101.7 250.1h0.9M99.4 252.0h0.9M90.7 252.2h0.9M100.9 251.0h0.9M94.4 251.1h0.9M90.8 251.7h0.9M79.0 250.6h0.9M65.5 254.0h0.9M93.2 250.6h0.9M88.7 254.3h0.9M104.0 250.1h0.9M107.4 250.4h0.9M99.9 251.3h0.9M68.9 255.5h0.9M103.1 251.4h0.9M105.3 250.8h0.9M60.2 258.5h0.9M74.0 253.7h0.9M105.4 251.1h0.9M104.1 252.9h0.9M90.4 250.9h0.9M64.7 256.2h0.9M58.0 255.9h0.9M107.3 249.8h0.9M103.0 250.5h0.9M96.6 252.6h0.9M79.0 250.7h0.9M94.6 251.6h0.9M101.0 252.2h0.9M72.9 253.4h0.9M99.8 251.6h0.9M71.4 252.8h0.9M74.2 252.6h0.9M60.1 254.0h0.9M66.0 253.8h0.9M84.8 253.7h0.9M59.0 255.2h0.9M84.5 255.9h0.9M66.5 255.3h0.9M94.0 252.2h0.9M64.4 258.4h0.9M68.3 254.0h0.9M71.4 252.5h0.9M86.3 252.8h0.9M96.7 250.3h0.9M94.2 252.5h0.9M93.6 253.7h0.9M90.9 253.1h0.9M84.4 252.1h0.9M74.9 253.4h0.9M67.0 255.2h0.9M99.3 252.7h0.9M78.1 252.6h0.9M89.4 251.7h0.9M106.3 251.7h0.9M75.8 253.9h0.9M108.7 251.1h0.9M75.5 254.4h0.9M93.3 250.9h0.9M74.8 253.4h0.9M106.6 251.6h0.9M106.2 250.7h0.9M76.9 253.1h0.9M78.1 253.8h0.9M105.8 251.1h0.9M105.5 252.6h0.9M91.7 250.9h0.9M100.1 251.4h0.9M96.9 254.0h0.9M59.4 255.1h0.9M81.8 253.6h0.9M75.0 251.1h0.9M85.8 254.2h0.9M62.1 256.2h0.9M93.1 253.1h0.9M78.5 253.0h0.9M102.9 251.4h0.9M58.7 255.0h0.9M78.5 254.8h0.9M81.8 253.0h0.9M105.6 251.4h0.9M94.3 250.1h0.9M67.1 253.8h0.9M73.2 249.7h0.9M93.4 251.7h0.9M78.6 254.6h0.9M71.1 253.5h0.9M102.3 253.3h0.9M98.3 250.3h0.9M75.5 253.0h0.9M84.7 251.2h0.9M102.3 250.6h0.9M68.8 253.4h0.9M101.4 249.7h0.9M100.2 250.3h0.9M93.0 254.7h0.9M91.1 251.8h0.9M91.0 253.4h0.9M84.5 250.7h0.9M86.3 252.4h0.9M67.9 255.2h0.9M85.3 252.4h0.9M90.5 251.4h0.9M81.7 252.7h0.9M90.8 252.2h0.9M80.4 254.5h0.9M96.5 253.1h0.9M92.7 250.2h0.9M62.4 251.3h0.9M94.9 251.5h0.9M72.1 253.9h0.9M62.0 256.0h0.9M64.1 256.4h0.9M74.0 252.5h0.9M108.2 252.4h0.9M74.3 254.1h0.9M68.2 251.2h0.9M94.9 253.0h0.9M76.4 254.0h0.9M99.7 251.6h0.9M70.2 251.3h0.9M91.3 251.7h0.9M75.6 253.8h0.9M98.6 251.3h0.9M109.0 251.3h0.9M90.7 254.0h0.9M62.6 257.3h0.9M94.1 253.5h0.9M75.5 253.3h0.9M93.6 254.2h0.9M98.4 251.8h0.9M64.1 256.1h0.9M58.5 254.7h0.9M94.4 250.0h0.9M104.1 249.0h0.9M101.0 251.4h0.9M79.3 252.0h0.9M97.9 251.5h0.9M59.0 256.5h0.9M60.8 252.4h0.9M86.2 249.8h0.9M83.7 253.2h0.9M97.5 252.0h0.9M69.6 253.6h0.9M80.6 252.2h0.9M105.0 249.5h0.9M73.0 253.6h0.9M77.9 252.1h0.9M87.4 253.1h0.9M105.3 251.6h0.9M67.1 253.4h0.9M91.3 252.7h0.9M78.3 253.6h0.9M77.7 254.6h0.9M70.8 256.7h0.9M80.8 254.2h0.9M85.9 253.7h0.9M77.3 254.8h0.9M82.7 252.2h0.9M88.8 252.3h0.9M98.7 251.8h0.9M85.3 254.7h0.9M76.8 255.7h0.9M103.7 253.0h0.9M66.6 252.5h0.9M60.1 254.9h0.9M101.3 249.5h0.9M71.2 253.0h0.9M65.6 251.7h0.9M77.0 255.5h0.9M74.9 254.9h0.9M75.5 251.7h0.9M98.7 251.8h0.9M72.4 255.1h0.9M64.6 257.5h0.9M68.8 255.6h0.9M103.2 251.1h0.9M79.0 253.1h0.9M75.8 254.6h0.9M95.3 252.1h0.9M102.6 250.6h0.9M82.9 250.9h0.9M97.0 252.8h0.9M71.1 252.7h0.9M75.3 253.1h0.9M86.0 253.9h0.9M69.8 254.0h0.9M71.7 255.9h0.9M67.4 252.4h0.9M71.0 255.3h0.9M98.2 250.0h0.9M96.1 249.8h0.9M63.7 252.9h0.9M75.2 253.8h0.9M92.8 251.0h0.9M99.1 249.9h0.9M85.2 254.6h0.9M93.0 250.6h0.9M69.8 253.9h0.9M108.3 251.0h0.9M97.3 251.0h0.9M78.0 254.0h0.9M69.7 255.2h0.9M59.5 254.9h0.9M88.5 254.0h0.9M88.6 251.5h0.9M57.7 253.5h0.9M106.5 251.0h0.9M102.7 250.2h0.9M59.3 255.7h0.9M64.9 254.4h0.9M60.8 254.1h0.9M79.4 254.2h0.9M76.9 254.4h0.9M99.6 248.8h0.9M61.2 254.3h0.9M68.0 254.5h0.9M102.7 251.5h0.9M58.7 254.2h0.9M70.9 252.0h0.9M77.4 253.6h0.9M106.9 251.3h0.9M72.2 250.2h0.9M87.2 250.1h0.9M87.8 251.5h0.9M87.5 248.9h0.9M89.5 251.4h0.9M87.8 253.7h0.9M59.6 253.3h0.9M89.6 252.5h0.9M86.3 251.2h0.9M68.9 254.9h0.9M78.6 254.4h0.9M106.9 251.8h0.9M99.5 251.4h0.9M71.8 255.7h0.9M66.1 255.1h0.9M58.1 262.7h0.9M57.6 257.6h0.9M57.7 260.0h0.9M57.3 262.5h0.9M57.4 255.9h0.9M57.2 262.2h0.9M58.0 255.3h0.9M57.1 257.4h0.9M57.2 259.8h0.9M57.4 265.4h0.9M57.6 256.9h0.9M58.7 262.7h0.9M57.0 264.7h0.9M57.1 255.1h0.9M57.2 266.1h0.9M57.7 253.9h0.9M57.6 260.5h0.9M58.1 272.1h0.9M57.3 254.6h0.9M57.2 256.3h0.9M58.4 257.2h0.9M57.0 256.8h0.9M57.5 257.6h0.9M57.1 261.5h0.9M57.4 273.1h0.9M57.4 256.3h0.9M57.1 259.7h0.9M57.2 260.6h0.9M57.4 262.1h0.9M57.7 259.1h0.9M57.0 256.5h0.9M57.1 257.3h0.9M57.3 255.4h0.9M57.3 265.3h0.9M57.3 261.8h0.9M57.4 261.2h0.9M57.5 258.2h0.9M57.4 255.6h0.9M57.3 262.6h0.9M57.1 258.0h0.9M57.5 254.7h0.9M57.9 262.0h0.9M57.2 257.9h0.9M57.6 268.3h0.9M57.1 254.7h0.9M57.8 264.0h0.9M57.2 262.2h0.9M58.5 254.0h0.9M58.1 260.0h0.9M57.9 254.0h0.9M57.7 260.2h0.9M57.7 256.2h0.9M57.5 261.2h0.9M57.9 261.3h0.9M57.7 256.6h0.9M57.8 267.3h0.9M57.1 257.5h0.9M57.1 254.4h0.9M57.8 257.2h0.9M57.2 255.2h0.9M57.2 257.3h0.9M57.5 254.7h0.9M57.2 262.4h0.9M57.8 257.1h0.9M57.4 265.2h0.9M57.1 254.6h0.9M57.9 263.2h0.9M57.3 262.6h0.9M57.8 254.3h0.9M57.2 272.0h0.9" stroke="#000" stroke-width="0.9" fill="none"/>
<path d="" stroke="#111" stroke-width="0.9" fill="none"/>
<path d="M149.8 257.5h0.9M147.6 259.4h0.9M178.8 263.1h0.9M149.6 257.1h0.9M154.0 263.4h0.9M147.2 259.2h0.9M160.7 258.2h0.9M151.0 266.8h0.9M157.3 258.4h0.9M150.5 262.4h0.9M146.6 262.3h0.9M149.3 258.7h0.9M184.9 258.9h0.9M164.1 258.2h0.9M153.6 264.2h0.9M151.1 268.4h0.9M146.8 260.7h0.9M149.3 259.5h0.9M165.6 262.9h0.9M145.5 261.3h0.9M157.7 257.6h0.9M173.2 258.3h0.9M175.6 262.7h0.9M147.0 261.1h0.9M148.2 261.5h0.9M162.3 262.3h0.9M160.3 262.9h0.9M150.1 263.0h0.9M163.5 258.4h0.9M158.3 259.0h0.9M159.2 260.4h0.9M145.8 261.6h0.9M173.6 261.1h0.9M146.4 273.6h0.9M160.5 262.9h0.9M166.8 265.6h0.9M156.2 259.0h0.9M157.0 260.9h0.9M165.2 263.4h0.9M189.2 265.4h0.9M157.9 258.2h0.9M152.7 258.7h0.9M150.3 260.0h0.9M154.1 257.7h0.9M152.9 265.7h0.9M153.7 260.6h0.9M151.6 261.3h0.9M148.6 267.2h0.9M144.7 266.8h0.9M162.0 263.6h0.9M153.4 264.3h0.9M151.9 262.5h0.9M162.7 257.5h0.9M169.2 257.9h0.9M161.1 267.0h0.9M165.4 257.2h0.9M149.9 259.0h0.9M164.3 261.4h0.9M161.1 270.6h0.9M154.5 264.0h0.9M172.7 261.5h0.9M157.9 260.6h0.9M177.2 260.3h0.9M154.6 259.0h0.9M171.2 272.5h0.9M153.5 257.5h0.9M147.7 258.7h0.9M145.9 261.6h0.9M146.3 263.6h0.9M160.6 264.1h0.9M171.0 257.3h0.9M148.8 264.7h0.9M166.5 268.4h0.9M153.4 262.5h0.9M182.2 259.5h0.9M161.0 264.5h0.9M163.1 266.1h0.9M151.4 259.6h0.9M157.1 260.3h0.9M160.0 261.0h0.9M170.7 266.6h0.9M147.8 261.7h0.9M150.5 265.2h0.9M185.5 261.5h0.9M150.0 258.6h0.9M167.8 262.3h0.9M172.2 261.1h0.9M148.3 271.5h0.9M152.5 258.5h0.9M147.8 262.9h0.9M146.3 258.8h0.9M157.9 260.4h0.9M145.7 257.1h0.9M144.8 259.1h0.9M185.3 263.3h0.9M146.5 261.7h0.9M162.8 265.8h0.9M152.5 257.8h0.9M148.9 259.0h0.9M179.7 258.8h0.9M145.8 258.2h0.9M146.7 263.8h0.9M146.2 258.6h0.9M161.7 259.7h0.9M149.7 263.9h0.9M148.4 259.9h0.9M157.3 260.3h0.9M148.7 262.5h0.9M166.7 258.4h0.9M155.2 258.6h0.9M169.2 259.0h0.9M149.2 265.2h0.9M187.3 260.7h0.9M157.9 262.0h0.9M161.3 257.8h0.9M144.8 257.9h0.9M151.5 264.4h0.9M163.2 263.2h0.9M158.1 258.4h0.9M144.6 258.2h0.9M147.1 257.2h0.9M148.1 264.5h0.9M161.7 259.2h0.9M147.2 260.4h0.9M163.4 271.1h0.9M154.3 263.9h0.9M147.5 258.3h0.9M151.1 260.3h0.9M153.6 260.4h0.9M157.0 257.2h0.9M154.6 267.5h0.9M160.7 257.2h0.9M172.2 262.1h0.9M158.2 269.9h0.9M146.3 262.7h0.9M154.0 259.9h0.9M179.4 257.5h0.9M168.1 260.9h0.9M159.1 257.5h0.9M161.4 257.5h0.9M152.3 260.5h0.9M161.6 257.6h0.9M146.5 264.0h0.9M151.1 260.6h0.9M147.6 257.4h0.9M161.4 262.5h0.9M149.0 259.8h0.9M156.6 259.6h0.9M150.0 257.9h0.9M160.5 257.6h0.9M158.6 257.1h0.9M165.0 272.0h0.9M153.8 262.8h0.9M168.8 267.8h0.9M152.1 257.3h0.9M144.7 264.9h0.9M150.2 260.3h0.9M173.6 266.1h0.9M145.3 259.0h0.9M158.1 259.3h0.9M145.1 261.8h0.9M151.9 263.7h0.9M161.5 265.1h0.9M146.2 261.2h0.9M152.0 268.1h0.9M146.8 262.1h0.9M168.5 264.0h0.9M157.1 262.8h0.9M150.0 259.0h0.9M157.3 257.0h0.9M150.9 266.4h0.9M166.9 259.4h0.9M146.6 261.6h0.9M145.3 267.2h0.9M152.3 263.2h0.9M161.2 265.8h0.9M154.9 259.4h0.9M164.1 263.9h0.9M160.3 265.4h0.9M169.9 262.4h0.9M159.0 261.0h0.9M146.7 262.9h0.9M152.1 260.1h0.9M153.5 257.7h0.9M151.3 261.2h0.9M150.0 260.9h0.9M148.1 261.1h0.9M151.4 265.1h0.9M149.2 262.1h0.9M149.0 266.4h0.9M151.2 268.5h0.9M149.7 258.8h0.9M169.8 261.9h0.9M165.5 258.6h0.9M148.8 257.6h0.9M153.9 261.7h0.9M151.5 261.9h0.9M162.0 263.9h0.9M163.7 264.3h0.9M147.3 258.5h0.9M161.3 260.6h0.9M154.7 266.0h0.9M147.4 261.6h0.9M151.9 263.2h0.9M149.8 259.2h0.9M148.9 258.8h0.9M168.4 259.0h0.9M168.3 257.6h0.9M147.5 257.7h0.9M172.9 259.7h0.9M146.6 261.7h0.9M173.9 257.9h0.9M163.6 258.0h0.9M147.5 260.1h0.9M162.0 262.9h0.9M146.5 258.6h0.9M157.9 260.6h0.9M158.8 267.7h0.9M167.1 258.1h0.9M149.6 258.4h0.9M148.1 263.4h0.9M149.2 257.4h0.9M153.6 264.2h0.9M148.2 268.5h0.9M162.0 259.9h0.9M162.3 266.6h0.9M154.8 266.8h0.9M152.5 269.4h0.9M153.6 261.6h0.9M156.7 260.3h0.9M152.1 258.2h0.9M146.4 264.3h0.9M160.6 260.0h0.9M160.0 257.0h0.9M146.8 261.6h0.9M160.6 260.1h0.9M151.9 265.2h0.9M165.9 263.9h0.9M160.3 260.7h0.9M161.0 257.7h0.9M161.2 260.1h0.9M167.2 258.6h0.9M146.4 263.2h0.9M152.7 260.4h0.9M162.3 263.1h0.9M169.4 257.7h0.9M146.7 260.6h0.9M152.3 263.5h0.9M159.5 259.1h0.9M157.1 260.0h0.9M149.2 262.4h0.9M150.9 267.4h0.9M157.3 259.1h0.9M161.3 262.5h0.9M170.6 262.6h0.9M159.7 263.8h0.9M169.0 259.5h0.9M161.5 259.2h0.9M150.5 257.6h0.9M154.5 259.1h0.9M175.8 260.0h0.9M154.7 261.7h0.9M153.5 262.3h0.9M160.3 261.7h0.9M177.1 265.4h0.9M160.5 268.2h0.9M157.0 259.1h0.9M146.8 260.4h0.9M155.1 257.5h0.9M148.5 258.9h0.9M163.0 263.3h0.9M145.8 261.7h0.9M164.5 261.0h0.9M150.3 263.8h0.9M148.4 257.4h0.9M153.5 258.9h0.9M150.4 262.4h0.9M158.0 264.1h0.9M168.6 270.0h0.9M154.2 266.6h0.9M165.4 262.6h0.9M159.9 259.0h0.9M151.9 258.3h0.9M146.7 264.8h0.9M160.3 260.9h0.9M157.6 263.7h0.9M149.1 264.5h0.9M160.0 259.7h0.9M147.4 258.5h0.9M151.1 264.6h0.9M148.0 262.6h0.9M165.0 258.6h0.9M149.0 267.7h0.9M156.9 260.6h0.9M169.7 259.4h0.9M155.0 259.9h0.9M155.8 262.3h0.9M171.0 272.2h0.9M166.2 257.5h0.9M155.0 259.0h0.9M158.8 261.9h0.9M178.1 267.3h0.9M165.7 269.4h0.9M146.5 259.9h0.9M154.6 265.2h0.9M171.1 257.3h0.9M178.2 267.1h0.9M151.2 260.0h0.9M160.9 264.7h0.9M152.0 262.3h0.9M159.9 262.6h0.9M155.0 259.2h0.9M149.0 263.8h0.9M158.8 259.9h0.9M146.5 259.1h0.9M167.2 258.7h0.9M144.7 260.5h0.9M146.8 259.9h0.9M161.7 262.7h0.9M149.7 261.8h0.9M168.0 263.6h0.9M151.7 262.0h0.9M156.8 264.5h0.9M160.6 261.4h0.9M154.4 264.5h0.9M151.6 260.1h0.9M159.9 263.6h0.9M153.3 261.6h0.9M145.6 257.4h0.9M147.0 258.5h0.9M160.0 261.4h0.9M156.5 257.5h0.9M154.2 267.3h0.9M163.0 265.5h0.9M169.2 263.5h0.9M155.3 258.5h0.9M160.2 259.1h0.9M154.4 257.5h0.9M148.5 257.3h0.9M157.2 261.6h0.9M159.5 259.5h0.9M149.8 261.3h0.9M146.0 261.0h0.9M168.5 264.8h0.9M168.0 257.4h0.9M155.9 267.3h0.9M176.8 257.6h0.9M170.3 257.3h0.9M166.5 265.0h0.9M152.0 265.3h0.9M155.6 265.0h0.9M173.3 264.0h0.9M144.8 266.7h0.9M165.1 261.1h0.9M179.6 268.2h0.9M162.7 260.1h0.9M155.0 264.8h0.9M161.3 258.6h0.9M157.5 262.0h0.9M157.7 258.5h0.9M158.7 258.1h0.9M166.2 263.0h0.9M146.5 260.7h0.9M153.8 258.1h0.9M149.6 262.8h0.9M147.5 259.0h0.9M162.0 267.7h0.9M174.0 268.5h0.9M166.4 263.1h0.9M165.3 265.8h0.9M148.3 262.0h0.9M158.2 259.4h0.9M153.2 259.9h0.9M156.2 261.0h0.9M153.0 262.8h0.9M155.6 263.4h0.9M147.2 263.9h0.9M144.6 257.6h0.9M155.6 258.3h0.9M187.0 244.3h0.9M184.5 242.9h0.9M168.8 248.0h0.9M177.7 242.7h0.9M165.1 245.5h0.9M163.9 246.9h0.9M162.3 245.8h0.9M202.4 244.6h0.9M192.3 243.0h0.9M166.5 248.4h0.9M180.4 246.0h0.9M158.6 247.4h0.9M188.5 244.7h0.9M171.7 247.5h0.9M197.6 245.1h0.9M188.2 246.4h0.9M199.6 242.2h0.9M198.6 243.8h0.9M209.5 250.3h0.9M211.1 251.1h0.9M194.6 250.9h0.9M207.4 258.7h0.9M192.8 248.6h0.9M193.5 249.5h0.9M194.7 250.7h0.9M205.3 254.9h0.9M205.6 250.9h0.9M200.4 259.7h0.9M197.1 253.3h0.9M194.2 258.3h0.9M193.2 252.2h0.9M199.2 249.8h0.9M208.3 254.0h0.9M206.8 255.0h0.9M212.8 251.0h0.9M209.3 260.7h0.9M201.1 269.1h0.9M202.3 259.5h0.9M211.7 265.3h0.9M203.9 261.7h0.9M202.4 267.5h0.9M214.8 248.8h0.9M199.0 263.5h0.9M207.7 259.6h0.9M201.3 259.8h0.9M202.7 256.9h0.9M218.1 247.4h0.9M216.4 252.4h0.9M204.4 262.3h0.9M210.8 252.3h0.9M204.7 260.7h0.9M212.8 258.2h0.9M202.5 261.3h0.9M194.8 273.5h0.9M202.3 267.5h0.9" stroke="#3a3a3a" stroke-width="0.9" fill="none"/>
<path d="M166.3 253.6h0.9M156.9 255.6h0.9M163.0 256.0h0.9M169.2 253.9h0.9M189.4 249.9h0.9M158.3 250.6h0.9M178.2 250.2h0.9M156.9 252.7h0.9M173.7 253.5h0.9M178.1 253.7h0.9M144.7 256.1h0.9M177.8 253.2h0.9M183.9 247.9h0.9M185.4 250.9h0.9M184.1 249.3h0.9M162.6 255.7h0.9M151.9 257.8h0.9M160.8 256.4h0.9M184.4 251.7h0.9M175.6 253.9h0.9M168.1 256.7h0.9M145.0 255.0h0.9M148.3 258.9h0.9M170.3 252.0h0.9M184.0 249.1h0.9M172.7 253.5h0.9M161.6 255.5h0.9M144.9 256.7h0.9M154.8 253.4h0.9M172.9 253.5h0.9M158.6 253.8h0.9M169.5 257.3h0.9M146.7 256.6h0.9M191.7 250.4h0.9M166.1 252.2h0.9M145.8 257.2h0.9M181.8 253.4h0.9M180.4 250.3h0.9M150.4 254.6h0.9M173.4 248.8h0.9M183.5 250.8h0.9M168.4 256.3h0.9M178.9 249.7h0.9M150.7 254.5h0.9M147.7 254.2h0.9M156.0 254.0h0.9M179.5 250.2h0.9M158.4 253.5h0.9M182.8 249.5h0.9M148.0 256.1h0.9M167.1 255.1h0.9M165.0 255.0h0.9M181.4 248.6h0.9M175.3 254.3h0.9M178.5 252.7h0.9M172.6 254.5h0.9M152.4 253.2h0.9M179.2 250.5h0.9M177.5 252.8h0.9M178.0 254.4h0.9M166.1 251.2h0.9M164.5 254.0h0.9M151.9 256.1h0.9M181.6 250.6h0.9M165.0 254.1h0.9M187.6 249.8h0.9M157.6 257.2h0.9M167.1 249.7h0.9M161.2 254.5h0.9M172.6 251.4h0.9M188.1 250.2h0.9M155.4 252.7h0.9M162.7 248.6h0.9M158.7 257.5h0.9M149.4 257.0h0.9M146.5 256.7h0.9M189.2 250.1h0.9M160.3 254.7h0.9M176.9 251.3h0.9M191.6 250.1h0.9M174.0 254.7h0.9M157.3 253.1h0.9M175.3 250.5h0.9M186.1 252.5h0.9M166.0 252.2h0.9M184.9 250.9h0.9M183.6 250.7h0.9M179.7 252.3h0.9M176.4 252.9h0.9M187.8 250.4h0.9M167.9 251.0h0.9M186.1 249.5h0.9M149.1 255.7h0.9M177.0 254.8h0.9M150.5 251.6h0.9M162.1 253.6h0.9M171.6 253.4h0.9M190.0 249.6h0.9M175.8 252.3h0.9M153.4 254.7h0.9M149.1 257.2h0.9M151.7 258.7h0.9M173.0 251.7h0.9M153.4 255.6h0.9M185.9 251.0h0.9M175.7 252.2h0.9M159.0 254.2h0.9M173.6 248.3h0.9M148.3 255.8h0.9M172.4 250.4h0.9M152.2 254.1h0.9M173.7 253.0h0.9M158.0 255.5h0.9M170.2 251.8h0.9M190.5 249.7h0.9M155.2 254.0h0.9M147.6 253.5h0.9M151.6 258.4h0.9M182.5 253.2h0.9M187.4 250.1h0.9M192.6 251.3h0.9M148.9 257.1h0.9M192.8 249.2h0.9M160.6 255.9h0.9M153.1 256.4h0.9M178.6 251.7h0.9M183.7 249.0h0.9M169.3 251.5h0.9M171.1 248.0h0.9M187.2 250.3h0.9M144.8 255.4h0.9M183.4 249.5h0.9M186.5 249.1h0.9M194.9 251.1h0.9M170.1 249.6h0.9M184.8 251.5h0.9M167.7 253.2h0.9M191.3 251.0h0.9M167.8 249.6h0.9M146.9 255.9h0.9M146.2 258.3h0.9M168.7 252.5h0.9M171.8 249.7h0.9M148.2 251.5h0.9M179.3 250.3h0.9M152.0 257.2h0.9M154.9 258.0h0.9M166.8 253.2h0.9M179.8 252.6h0.9M167.3 255.1h0.9M185.2 251.3h0.9M179.1 250.1h0.9M170.6 254.0h0.9M183.9 249.6h0.9M161.0 254.1h0.9M171.3 254.0h0.9M174.2 254.1h0.9M149.2 255.2h0.9M157.2 256.9h0.9M188.7 251.4h0.9M159.2 256.2h0.9M185.6 250.5h0.9M147.2 256.4h0.9M156.6 254.5h0.9M155.8 254.7h0.9M144.7 257.5h0.9M177.7 253.4h0.9M155.9 254.6h0.9M171.6 253.9h0.9M149.4 256.0h0.9M171.1 252.9h0.9M167.6 251.0h0.9M166.6 254.0h0.9M180.4 251.1h0.9M161.2 254.5h0.9M177.3 253.4h0.9M181.2 252.2h0.9M156.3 256.1h0.9M158.8 253.1h0.9M172.8 249.3h0.9M153.5 254.1h0.9M144.9 256.0h0.9M172.6 252.7h0.9M176.8 254.0h0.9M150.0 256.0h0.9M170.9 255.4h0.9M166.7 252.3h0.9M168.3 250.7h0.9M186.8 251.3h0.9M146.9 253.5h0.9M191.7 248.8h0.9M148.8 254.4h0.9M173.1 252.9h0.9M183.6 252.2h0.9M169.5 252.8h0.9M146.3 257.7h0.9M168.0 252.9h0.9M150.1 251.9h0.9M149.0 253.2h0.9M159.1 250.5h0.9M183.1 250.6h0.9M176.4 248.3h0.9M188.8 248.9h0.9M189.9 249.4h0.9M153.7 256.8h0.9M161.8 254.9h0.9M191.6 249.7h0.9M163.4 254.0h0.9M172.4 251.9h0.9M174.7 256.1h0.9M188.2 248.7h0.9M162.4 249.3h0.9M149.0 251.5h0.9M183.7 249.1h0.9M153.2 254.1h0.9M160.0 256.0h0.9M151.7 254.5h0.9M177.0 251.2h0.9M184.5 250.5h0.9M154.8 255.0h0.9M171.3 250.6h0.9M145.9 257.0h0.9M176.0 251.7h0.9M151.8 255.5h0.9M159.5 255.1h0.9M170.2 253.6h0.9M166.1 254.7h0.9M179.8 250.0h0.9M146.4 256.6h0.9M154.8 251.2h0.9M154.3 250.1h0.9M191.9 249.7h0.9M192.6 250.3h0.9M188.0 250.6h0.9M187.9 250.5h0.9M153.7 256.5h0.9M154.6 250.8h0.9M158.3 252.9h0.9M171.8 251.8h0.9M182.4 249.8h0.9M168.2 253.4h0.9M146.6 256.8h0.9M175.8 252.3h0.9M173.1 252.3h0.9M162.4 258.5h0.9M169.4 252.7h0.9M156.2 254.4h0.9M158.9 256.6h0.9M171.7 255.8h0.9M162.1 251.6h0.9M160.8 251.6h0.9M151.7 257.8h0.9M189.6 250.8h0.9M168.6 254.4h0.9M183.7 250.4h0.9M171.9 253.5h0.9M148.4 252.6h0.9M146.5 253.4h0.9M153.2 258.1h0.9M162.0 250.9h0.9M153.0 254.5h0.9M161.2 255.1h0.9M185.9 250.8h0.9M145.5 253.7h0.9M148.4 254.2h0.9M177.1 252.5h0.9M178.0 250.8h0.9M157.0 257.8h0.9M148.4 255.1h0.9M160.6 257.7h0.9M176.4 251.7h0.9M157.8 256.8h0.9M168.2 253.7h0.9M165.0 253.3h0.9M184.9 249.1h0.9M190.8 250.4h0.9M161.0 253.9h0.9M163.1 254.2h0.9M150.8 253.9h0.9M180.7 249.8h0.9M153.9 252.6h0.9M191.9 249.9h0.9M160.0 255.8h0.9M175.0 251.2h0.9M169.0 250.4h0.9M145.1 254.2h0.9M171.4 250.1h0.9M178.4 248.8h0.9M178.0 250.8h0.9M154.6 253.1h0.9M148.5 254.6h0.9M162.2 257.5h0.9M154.9 256.5h0.9M187.7 251.5h0.9M191.0 250.0h0.9M159.2 254.5h0.9M181.9 249.9h0.9M172.3 248.9h0.9M146.8 252.4h0.9M155.1 253.7h0.9M157.0 255.2h0.9M185.9 252.7h0.9M174.0 251.8h0.9M153.8 251.4h0.9M183.0 250.3h0.9M162.9 254.5h0.9M189.1 249.1h0.9M170.2 251.5h0.9M145.3 256.8h0.9M163.6 253.6h0.9M175.3 252.5h0.9M164.9 253.3h0.9M174.9 251.8h0.9M149.3 258.1h0.9M145.4 257.6h0.9M149.3 255.8h0.9M173.9 253.0h0.9M155.4 254.4h0.9M181.7 250.9h0.9M180.5 251.7h0.9M151.0 255.5h0.9M147.6 260.3h0.9M175.2 252.3h0.9M176.6 252.4h0.9M184.7 253.1h0.9M161.2 251.8h0.9M146.0 256.0h0.9M179.0 253.3h0.9M172.1 252.7h0.9M187.5 250.2h0.9M159.1 252.3h0.9M145.2 256.0h0.9M147.5 254.2h0.9M184.6 251.9h0.9M161.3 255.0h0.9M148.4 254.9h0.9M190.5 250.9h0.9M173.9 250.3h0.9M161.6 251.9h0.9M178.4 252.7h0.9M172.6 252.8h0.9M155.8 252.1h0.9M172.6 250.9h0.9M163.2 253.0h0.9M175.3 250.8h0.9M156.4 254.9h0.9M159.0 253.9h0.9M152.9 255.9h0.9M151.2 255.0h0.9M163.5 254.2h0.9M172.8 251.4h0.9M171.6 253.1h0.9M153.9 255.5h0.9M162.9 255.1h0.9M165.1 254.0h0.9M155.2 253.8h0.9M173.1 252.1h0.9M160.7 256.6h0.9M149.6 254.8h0.9M175.9 251.9h0.9M153.1 258.2h0.9M190.6 250.5h0.9M179.7 252.3h0.9M150.9 253.3h0.9M191.7 249.3h0.9M171.8 252.9h0.9M157.5 258.8h0.9M150.3 251.6h0.9M163.6 249.9h0.9M155.8 255.7h0.9M162.7 254.1h0.9M151.5 253.0h0.9M163.4 255.4h0.9M186.1 250.6h0.9M145.1 255.0h0.9M171.0 252.3h0.9M164.2 252.2h0.9M182.9 251.3h0.9M179.6 250.3h0.9M165.7 250.8h0.9M156.9 252.8h0.9M187.1 250.7h0.9M181.8 252.5h0.9M184.5 249.9h0.9M149.0 253.3h0.9M163.1 254.1h0.9M166.4 255.3h0.9M158.7 253.3h0.9M155.4 257.7h0.9M160.1 252.3h0.9M153.0 257.8h0.9M187.6 250.9h0.9M185.3 248.7h0.9M173.2 253.1h0.9M171.0 252.0h0.9M189.1 249.9h0.9M167.8 251.4h0.9M179.3 251.4h0.9M146.3 254.5h0.9M164.5 253.6h0.9M190.5 250.8h0.9M148.9 258.2h0.9M182.8 252.3h0.9M178.0 252.9h0.9M161.4 254.7h0.9M150.7 254.8h0.9M180.8 249.6h0.9M161.3 255.9h0.9M180.1 250.6h0.9M172.5 252.6h0.9M192.3 248.9h0.9M190.0 250.3h0.9M187.8 251.4h0.9M156.2 254.2h0.9M184.0 251.8h0.9M190.3 249.9h0.9M176.4 252.0h0.9M188.8 249.7h0.9M146.4 251.1h0.9M157.5 255.0h0.9M177.7 252.3h0.9M180.4 252.0h0.9M156.6 258.0h0.9M190.1 250.7h0.9M183.5 251.4h0.9M188.4 249.6h0.9M188.3 252.2h0.9M154.8 251.8h0.9M162.5 252.8h0.9M164.7 252.3h0.9M167.2 255.1h0.9M183.5 251.2h0.9M192.3 250.4h0.9M158.6 250.4h0.9M195.2 249.6h0.9M180.4 252.7h0.9M172.5 251.3h0.9M186.4 249.2h0.9M188.7 250.3h0.9M178.6 250.6h0.9M184.7 250.6h0.9M149.0 256.1h0.9M171.4 250.6h0.9M145.9 255.8h0.9M157.6 257.2h0.9M174.1 251.6h0.9M176.0 251.5h0.9M182.2 250.3h0.9M182.6 251.4h0.9M157.6 255.4h0.9M165.3 251.4h0.9M179.7 251.5h0.9M154.7 258.2h0.9M184.4 248.8h0.9M146.3 257.8h0.9M162.4 255.6h0.9M146.8 252.7h0.9M158.1 250.7h0.9M189.8 249.6h0.9M188.8 251.2h0.9M164.6 252.0h0.9M156.0 254.6h0.9M160.0 254.2h0.9M182.6 250.8h0.9M154.0 259.0h0.9M179.6 251.7h0.9M159.3 251.5h0.9M156.6 255.0h0.9M185.1 251.3h0.9M155.2 252.3h0.9M187.0 250.5h0.9M165.3 252.0h0.9M189.3 249.0h0.9M177.9 250.1h0.9M182.4 252.0h0.9M169.8 252.3h0.9M188.2 248.7h0.9M177.2 252.8h0.9M165.1 252.6h0.9M147.6 250.9h0.9M153.9 252.5h0.9M183.8 247.9h0.9M187.0 249.7h0.9M146.3 260.5h0.9M163.9 257.7h0.9M165.5 253.8h0.9M152.5 253.1h0.9M146.4 253.4h0.9M183.6 249.9h0.9M182.2 251.3h0.9M184.6 252.1h0.9M158.8 254.2h0.9M184.7 252.1h0.9M188.4 250.0h0.9M180.8 248.2h0.9M161.0 254.5h0.9M162.3 255.8h0.9M167.9 254.1h0.9M185.8 251.7h0.9M167.8 251.0h0.9M189.6 249.8h0.9M147.8 255.7h0.9M189.5 250.3h0.9M154.9 255.9h0.9M166.7 255.1h0.9M166.8 252.2h0.9M154.1 252.5h0.9M148.9 254.5h0.9M173.7 251.8h0.9M156.3 253.5h0.9M175.0 250.3h0.9M170.9 254.2h0.9M183.9 251.9h0.9M157.2 256.5h0.9M188.3 250.9h0.9M189.8 250.4h0.9M167.6 252.0h0.9M161.1 253.0h0.9M154.8 255.3h0.9M170.9 248.9h0.9M153.6 255.3h0.9M161.4 249.5h0.9M147.9 259.3h0.9M175.2 253.0h0.9M172.3 251.1h0.9M175.7 251.8h0.9M182.8 250.3h0.9M170.0 255.7h0.9M162.1 256.1h0.9M156.7 254.6h0.9M168.8 251.8h0.9M165.1 254.6h0.9M165.1 253.9h0.9M157.4 254.3h0.9M154.2 253.7h0.9M180.7 249.0h0.9M188.4 249.0h0.9M175.2 250.7h0.9M172.4 249.3h0.9M153.0 252.9h0.9M165.4 257.0h0.9M187.0 250.4h0.9M187.9 250.9h0.9M148.4 254.3h0.9M182.7 252.6h0.9M155.1 254.9h0.9M187.2 251.1h0.9M155.5 257.0h0.9M179.7 252.0h0.9M187.7 252.0h0.9M147.0 253.9h0.9M145.3 255.3h0.9M169.3 253.7h0.9M164.8 253.2h0.9M187.0 250.8h0.9M191.3 251.7h0.9M145.7 255.3h0.9M183.9 251.1h0.9M172.3 251.4h0.9M168.5 251.2h0.9M173.6 248.7h0.9M185.4 251.1h0.9M157.2 257.4h0.9M156.7 254.5h0.9M189.0 251.1h0.9M168.6 250.2h0.9M146.4 255.4h0.9M179.2 251.2h0.9M170.7 254.0h0.9M147.0 255.8h0.9M162.3 254.9h0.9M172.0 255.2h0.9M183.7 249.5h0.9M174.9 251.8h0.9M173.9 252.8h0.9M178.6 250.5h0.9M164.3 254.2h0.9M181.4 248.7h0.9M177.7 250.0h0.9M149.4 254.9h0.9M177.7 248.7h0.9M184.9 253.0h0.9M187.1 252.1h0.9M165.3 255.9h0.9M150.7 257.0h0.9M170.8 254.3h0.9M149.6 254.8h0.9M171.1 252.0h0.9M178.7 248.3h0.9M172.0 254.1h0.9M190.2 249.9h0.9M178.7 248.4h0.9M166.9 251.3h0.9M157.0 255.4h0.9M180.4 248.9h0.9M168.2 251.8h0.9M192.4 248.3h0.9M162.9 252.5h0.9M185.4 250.5h0.9M163.2 248.5h0.9M172.2 250.8h0.9M173.7 252.9h0.9M169.1 251.9h0.9M191.2 251.1h0.9M157.5 256.1h0.9M189.8 250.9h0.9M152.3 252.3h0.9M164.6 251.3h0.9M176.7 252.2h0.9M152.2 256.0h0.9M164.3 252.2h0.9M173.5 251.7h0.9M154.6 252.5h0.9M174.2 251.2h0.9M174.4 252.7h0.9M155.7 257.6h0.9M184.9 251.2h0.9M187.4 251.1h0.9M186.5 250.5h0.9M155.6 255.6h0.9M160.0 256.0h0.9M169.8 250.8h0.9M181.5 252.4h0.9M145.9 257.0h0.9M156.7 256.6h0.9M174.5 252.8h0.9M155.6 253.1h0.9M191.6 249.7h0.9M189.4 250.0h0.9M172.6 247.9h0.9M176.2 250.4h0.9M149.1 254.1h0.9M158.8 252.9h0.9M150.7 253.1h0.9M156.6 252.0h0.9M191.6 249.8h0.9M150.3 253.9h0.9M179.5 253.2h0.9M157.8 254.1h0.9M185.0 250.5h0.9M145.2 257.5h0.9M159.8 253.7h0.9M159.0 254.0h0.9M163.5 255.9h0.9M171.3 254.2h0.9M168.0 252.4h0.9M161.0 250.9h0.9M196.0 249.5h0.9M177.0 252.5h0.9M189.6 248.7h0.9M176.4 251.2h0.9M168.0 252.7h0.9M156.1 251.2h0.9M178.9 253.2h0.9M169.6 252.1h0.9M173.8 249.3h0.9M148.5 253.4h0.9M166.0 254.0h0.9M191.8 251.1h0.9M163.9 254.0h0.9M162.2 254.0h0.9M151.2 254.7h0.9M167.7 256.1h0.9M179.9 253.1h0.9M171.5 249.3h0.9M159.3 254.1h0.9M154.0 255.9h0.9M162.2 253.2h0.9M159.6 254.9h0.9M153.9 256.1h0.9M163.9 251.5h0.9M161.5 256.5h0.9M169.3 253.0h0.9M182.2 252.4h0.9M161.5 254.3h0.9M175.5 251.7h0.9M153.0 257.7h0.9M156.1 255.3h0.9M183.5 252.7h0.9M178.6 252.4h0.9M177.2 255.2h0.9M181.8 250.0h0.9M184.9 250.7h0.9M190.9 249.4h0.9M177.8 249.8h0.9M186.5 250.6h0.9M157.5 251.1h0.9M166.8 252.8h0.9M191.0 251.0h0.9M149.9 256.4h0.9M163.2 252.4h0.9M160.7 253.3h0.9M173.6 253.4h0.9M163.7 256.7h0.9M152.3 254.4h0.9M167.7 253.2h0.9M160.3 254.9h0.9M179.5 251.1h0.9M191.0 250.3h0.9M187.6 250.5h0.9M188.0 251.4h0.9M171.1 251.3h0.9M157.1 254.5h0.9M170.6 253.2h0.9M158.8 252.5h0.9M168.7 252.1h0.9M179.2 251.3h0.9M177.6 249.3h0.9M166.0 252.1h0.9M159.1 251.6h0.9M189.8 249.6h0.9M183.5 250.0h0.9M182.3 250.3h0.9M172.5 253.5h0.9M181.3 252.8h0.9M154.0 256.5h0.9M174.8 250.5h0.9M158.5 254.8h0.9M181.8 249.3h0.9M163.4 254.6h0.9M167.0 254.5h0.9M161.8 252.9h0.9M164.6 253.4h0.9M184.0 251.7h0.9M188.3 250.8h0.9M157.4 253.1h0.9M181.0 250.1h0.9M187.7 248.7h0.9M191.6 249.7h0.9M172.2 251.2h0.9M181.9 251.0h0.9M174.9 252.9h0.9M169.5 249.9h0.9M185.0 249.7h0.9M170.5 251.8h0.9M180.4 248.9h0.9M185.9 250.2h0.9M159.7 252.9h0.9M182.4 251.4h0.9M153.8 256.1h0.9M169.7 253.9h0.9M174.6 251.5h0.9M183.4 251.1h0.9M159.6 254.4h0.9M188.2 251.1h0.9M190.2 248.6h0.9M186.2 250.2h0.9M191.5 249.4h0.9M169.9 252.8h0.9M165.7 255.2h0.9M187.8 250.4h0.9M181.5 251.2h0.9M152.7 253.4h0.9M185.7 250.8h0.9M161.7 254.1h0.9M166.7 251.0h0.9M147.4 256.8h0.9M168.3 251.8h0.9M192.2 248.3h0.9M166.2 252.6h0.9M146.3 256.7h0.9M182.8 251.4h0.9M166.5 253.2h0.9M149.7 255.1h0.9M176.5 252.7h0.9M153.6 255.9h0.9M172.7 248.8h0.9M164.3 251.8h0.9M156.5 254.5h0.9M164.9 253.0h0.9M158.8 255.7h0.9M166.5 255.0h0.9M171.6 252.6h0.9M168.0 252.0h0.9M147.5 258.9h0.9M171.0 250.8h0.9M187.2 250.2h0.9M183.2 253.3h0.9M193.0 250.5h0.9M179.7 252.1h0.9M152.9 254.8h0.9M177.0 253.5h0.9M153.3 259.8h0.9M148.7 256.0h0.9M175.0 251.5h0.9M161.4 256.2h0.9M168.6 256.5h0.9M147.2 256.3h0.9M155.6 252.7h0.9M148.5 256.1h0.9M191.6 249.4h0.9M150.4 257.2h0.9M186.1 250.2h0.9M148.2 256.5h0.9M154.4 254.8h0.9M177.0 253.0h0.9M173.6 248.5h0.9M147.2 256.3h0.9M160.4 254.3h0.9M151.0 255.7h0.9M160.6 250.8h0.9M161.5 256.6h0.9M169.5 251.4h0.9M178.8 252.1h0.9M146.3 254.7h0.9M175.6 251.5h0.9M194.9 249.6h0.9M190.9 248.7h0.9M174.9 250.8h0.9M165.5 255.9h0.9M158.7 251.7h0.9M169.3 252.9h0.9M190.0 248.6h0.9M175.7 253.7h0.9M169.5 250.0h0.9M157.3 251.8h0.9M146.3 255.4h0.9M186.5 250.9h0.9M174.6 249.7h0.9M147.0 255.5h0.9M180.5 251.9h0.9M150.1 255.3h0.9M165.9 251.6h0.9M150.6 256.1h0.9M186.1 251.6h0.9M174.0 256.1h0.9M176.0 253.9h0.9M160.9 250.2h0.9M160.1 256.7h0.9M147.9 257.6h0.9M184.4 251.0h0.9M151.2 256.6h0.9M172.7 254.3h0.9M154.7 254.1h0.9M149.3 252.9h0.9M147.1 255.2h0.9M160.1 255.4h0.9M150.4 254.1h0.9M182.7 250.1h0.9M172.7 249.9h0.9M153.5 256.0h0.9M146.0 253.7h0.9M166.5 252.7h0.9M182.8 250.0h0.9M156.5 257.2h0.9M171.3 254.4h0.9M156.3 259.4h0.9M188.2 249.6h0.9M156.5 252.3h0.9M154.7 255.2h0.9M172.9 249.7h0.9M158.3 253.1h0.9M190.9 250.5h0.9M179.4 251.4h0.9M176.3 253.2h0.9M187.5 249.6h0.9M164.7 252.4h0.9M146.8 255.5h0.9M159.6 255.8h0.9M156.7 256.8h0.9M153.3 257.4h0.9M163.4 253.8h0.9M147.8 254.2h0.9M144.7 255.2h0.9M169.0 252.8h0.9M152.0 251.8h0.9M182.0 249.8h0.9M150.2 251.7h0.9M149.4 256.0h0.9M171.6 252.8h0.9M181.1 249.9h0.9M180.1 252.6h0.9M183.6 250.9h0.9M166.2 252.9h0.9M156.6 255.9h0.9M145.9 256.5h0.9M187.1 249.3h0.9M171.7 251.1h0.9M187.0 249.0h0.9M182.6 251.7h0.9M174.9 251.8h0.9M179.4 252.7h0.9M153.0 253.4h0.9M185.3 249.3h0.9M183.2 252.2h0.9M166.8 254.8h0.9M165.1 250.3h0.9M167.6 255.1h0.9M170.9 251.1h0.9M152.7 258.1h0.9M187.3 250.8h0.9M161.3 252.5h0.9M146.5 255.3h0.9M172.2 252.0h0.9M151.7 250.1h0.9M189.5 250.5h0.9M186.5 250.1h0.9M179.0 252.6h0.9M148.0 250.8h0.9M182.8 251.8h0.9M153.5 254.9h0.9M173.7 250.1h0.9M153.0 259.0h0.9M177.3 253.0h0.9M176.9 250.2h0.9M161.0 252.1h0.9M156.1 255.7h0.9M182.8 253.2h0.9M187.1 250.8h0.9M152.9 254.0h0.9M189.3 251.5h0.9M170.8 251.4h0.9M160.0 256.8h0.9M167.2 254.4h0.9M147.9 255.3h0.9M168.3 251.7h0.9M172.3 251.3h0.9M168.6 252.8h0.9M146.3 258.5h0.9M190.4 250.0h0.9M167.4 251.2h0.9M152.9 257.7h0.9M182.4 252.3h0.9M173.1 252.4h0.9M145.7 258.3h0.9M164.9 253.7h0.9M179.3 254.1h0.9M191.3 249.9h0.9M162.6 252.1h0.9M180.8 250.6h0.9M166.6 253.4h0.9M152.5 255.3h0.9M151.4 254.0h0.9M185.1 250.0h0.9M157.1 251.6h0.9M171.8 251.4h0.9M156.5 257.9h0.9M159.8 253.6h0.9M160.0 251.9h0.9M145.4 254.6h0.9M145.2 254.4h0.9M149.1 255.2h0.9M177.7 250.2h0.9M157.8 256.7h0.9M165.3 251.5h0.9M173.1 251.7h0.9M168.3 255.8h0.9M185.0 250.6h0.9M180.1 253.1h0.9M184.4 250.5h0.9M159.1 255.8h0.9M188.9 251.9h0.9M187.4 249.4h0.9M174.8 252.9h0.9M181.0 249.6h0.9M190.5 250.0h0.9M188.3 249.6h0.9M154.0 255.0h0.9M180.7 249.5h0.9M189.8 248.4h0.9M179.6 252.2h0.9M171.0 252.7h0.9M163.6 256.2h0.9M157.5 254.7h0.9M166.7 253.3h0.9M158.5 252.3h0.9M161.7 250.8h0.9M189.2 250.2h0.9M162.0 251.2h0.9M184.0 252.4h0.9M165.5 256.2h0.9M183.8 251.4h0.9M177.0 253.7h0.9M191.5 249.9h0.9M177.6 250.7h0.9M173.1 256.5h0.9M184.7 250.4h0.9M175.1 254.1h0.9M182.3 249.9h0.9M175.5 252.6h0.9M166.1 254.9h0.9M158.2 250.6h0.9M160.0 250.7h0.9M182.4 250.0h0.9M157.0 253.6h0.9M158.5 254.3h0.9M188.5 249.5h0.9M175.5 250.6h0.9M160.5 251.6h0.9M176.3 250.0h0.9M191.4 250.3h0.9M148.0 254.5h0.9M185.4 249.4h0.9M147.3 253.2h0.9M187.1 249.5h0.9M164.1 250.0h0.9M169.8 253.0h0.9M167.3 253.8h0.9M166.1 250.3h0.9M189.6 249.6h0.9M191.9 249.7h0.9M189.0 250.7h0.9M171.4 251.0h0.9M182.2 250.5h0.9M152.8 252.7h0.9M153.8 252.7h0.9M159.4 252.5h0.9M184.0 253.5h0.9M163.7 255.8h0.9M180.9 251.6h0.9M175.7 252.3h0.9M153.4 251.5h0.9M167.7 250.9h0.9M151.0 256.7h0.9M168.1 252.9h0.9M152.8 257.2h0.9M175.3 251.9h0.9M166.0 254.3h0.9M171.9 252.6h0.9M193.1 250.4h0.9M171.0 253.2h0.9M164.3 255.7h0.9M158.9 253.0h0.9M187.5 250.1h0.9M169.1 251.3h0.9M152.0 255.0h0.9M161.2 254.8h0.9M179.8 251.4h0.9M169.8 248.8h0.9M167.0 251.6h0.9M196.4 249.6h0.9M177.6 251.1h0.9M188.6 249.6h0.9M151.6 254.3h0.9M191.7 250.7h0.9M166.2 254.4h0.9M173.1 254.8h0.9M190.1 248.7h0.9M166.1 250.9h0.9M163.2 250.8h0.9M179.4 252.9h0.9M167.2 254.4h0.9M179.7 250.4h0.9M149.8 254.2h0.9M146.0 256.4h0.9M156.2 257.3h0.9M155.8 257.8h0.9M156.9 253.0h0.9M165.3 255.1h0.9M175.1 251.6h0.9M185.4 252.3h0.9M189.1 252.0h0.9M174.2 253.0h0.9M185.2 251.3h0.9M168.6 248.1h0.9M178.6 252.3h0.9M184.7 248.7h0.9M176.3 250.8h0.9M163.7 255.3h0.9M181.6 248.9h0.9M179.7 254.8h0.9M188.5 249.7h0.9M181.7 252.1h0.9M171.5 251.4h0.9M190.2 250.6h0.9M145.1 254.8h0.9M155.8 254.4h0.9M176.9 247.8h0.9M152.0 257.1h0.9M176.8 252.8h0.9M157.2 253.6h0.9M152.7 254.2h0.9M183.6 249.4h0.9M150.9 253.6h0.9M183.2 251.1h0.9M192.1 250.2h0.9M157.4 255.9h0.9M156.0 257.0h0.9M190.5 250.8h0.9M157.1 255.2h0.9M172.3 253.0h0.9M172.9 251.8h0.9M146.0 258.3h0.9M157.2 252.7h0.9M178.0 250.3h0.9M151.5 255.8h0.9M178.8 249.2h0.9M180.0 250.8h0.9M181.8 249.0h0.9M184.6 249.7h0.9M161.7 258.8h0.9M187.2 248.7h0.9M146.9 257.7h0.9M147.6 254.4h0.9M171.9 250.2h0.9M147.9 252.5h0.9M168.8 254.0h0.9M159.3 253.2h0.9M176.0 251.8h0.9M164.8 256.8h0.9M160.2 250.9h0.9M174.8 248.2h0.9M188.2 250.3h0.9M155.9 257.5h0.9M148.1 255.9h0.9M152.5 258.0h0.9M190.0 250.9h0.9M177.9 252.1h0.9M144.8 254.5h0.9M154.9 255.0h0.9M179.6 253.1h0.9M151.7 256.2h0.9M167.3 253.0h0.9M153.8 255.6h0.9M158.2 254.2h0.9M165.5 255.0h0.9M167.0 252.6h0.9M183.6 252.8h0.9M167.1 253.9h0.9M187.4 250.5h0.9M168.7 249.2h0.9M166.3 248.6h0.9M191.5 249.9h0.9M162.8 252.7h0.9M188.4 251.9h0.9M169.6 251.2h0.9M153.6 252.8h0.9M151.1 256.9h0.9M173.9 248.4h0.9M169.9 252.8h0.9M190.4 249.0h0.9M172.9 247.9h0.9M148.4 251.8h0.9M147.9 255.2h0.9M158.0 254.2h0.9M158.0 253.6h0.9M177.2 250.1h0.9M183.9 250.8h0.9M171.0 253.0h0.9M180.4 251.3h0.9M180.7 253.5h0.9M163.3 255.5h0.9M170.8 250.6h0.9M181.1 250.2h0.9M187.4 249.4h0.9M181.3 251.3h0.9M164.1 255.5h0.9M149.4 258.6h0.9M156.5 254.7h0.9M169.1 251.4h0.9M154.7 252.3h0.9M178.2 248.9h0.9M157.3 258.0h0.9M165.0 252.5h0.9M163.4 252.3h0.9M188.8 251.6h0.9M164.2 252.0h0.9M175.5 251.7h0.9M187.6 250.6h0.9M178.5 248.5h0.9M177.3 249.4h0.9M182.2 254.0h0.9M192.5 250.3h0.9M156.1 250.1h0.9M155.6 253.2h0.9M149.7 255.1h0.9M148.5 256.7h0.9M183.7 250.6h0.9M186.2 249.2h0.9M182.0 251.0h0.9M155.4 257.0h0.9M146.7 254.5h0.9M192.2 249.1h0.9M170.0 250.4h0.9M194.2 248.2h0.9M163.4 256.2h0.9M172.1 253.0h0.9M178.4 251.3h0.9M189.7 250.1h0.9M190.0 251.0h0.9M165.1 252.5h0.9M191.8 248.9h0.9M162.1 256.0h0.9M162.8 248.6h0.9M156.7 253.6h0.9M176.4 253.7h0.9M181.0 253.3h0.9M163.2 253.4h0.9M178.1 251.4h0.9M168.4 252.6h0.9M159.2 253.5h0.9M146.2 255.6h0.9M159.4 257.1h0.9M184.5 251.2h0.9M182.5 253.2h0.9M187.1 250.9h0.9M180.4 250.7h0.9M173.9 251.6h0.9M191.2 251.7h0.9M148.3 254.2h0.9M190.8 250.8h0.9M151.4 253.1h0.9M150.9 256.3h0.9M185.8 250.1h0.9M164.1 252.5h0.9M149.1 253.6h0.9M155.5 252.9h0.9M156.1 254.8h0.9M167.5 255.8h0.9M148.6 256.3h0.9M168.4 251.0h0.9M159.8 255.0h0.9M148.8 250.6h0.9M165.2 253.1h0.9M171.8 256.7h0.9M159.2 249.0h0.9M160.3 253.2h0.9M160.5 256.0h0.9M187.6 252.0h0.9M190.4 251.0h0.9M160.0 253.0h0.9M178.3 254.1h0.9M182.9 252.9h0.9M175.5 251.3h0.9M176.6 251.9h0.9M148.7 253.6h0.9M181.3 250.7h0.9M147.6 258.5h0.9M188.9 249.1h0.9M154.5 257.3h0.9M155.4 255.4h0.9M166.3 253.9h0.9M162.7 252.3h0.9M150.7 256.9h0.9M152.7 254.7h0.9M188.1 250.0h0.9M154.6 251.2h0.9M146.4 255.9h0.9M159.7 253.2h0.9M166.7 254.9h0.9M148.2 255.8h0.9M175.8 251.7h0.9M166.6 252.0h0.9M182.2 250.2h0.9M156.3 252.8h0.9M147.1 257.1h0.9M170.1 249.7h0.9M189.4 248.8h0.9M146.6 256.3h0.9M178.5 253.7h0.9M144.3 258.4h0.9M144.1 266.5h0.9M145.1 254.7h0.9M144.3 255.7h0.9M145.5 263.4h0.9M144.0 259.7h0.9M144.7 256.5h0.9M144.1 261.2h0.9M144.2 266.8h0.9M144.0 261.9h0.9M144.2 263.7h0.9M144.5 263.9h0.9M144.3 265.8h0.9M145.2 260.6h0.9M144.5 260.8h0.9M144.3 261.1h0.9M144.3 269.4h0.9M144.1 260.2h0.9M144.4 255.5h0.9M144.2 260.8h0.9M144.6 270.6h0.9M144.8 260.8h0.9M145.5 265.8h0.9M144.0 254.5h0.9M144.6 255.2h0.9M144.6 257.9h0.9M144.8 260.9h0.9M144.6 268.7h0.9M144.9 262.1h0.9M144.8 266.4h0.9M144.3 267.3h0.9M144.7 262.3h0.9M144.3 269.5h0.9M144.3 262.8h0.9M145.0 256.1h0.9M144.1 262.7h0.9M144.8 262.5h0.9M145.3 264.7h0.9M144.2 257.7h0.9M144.4 262.2h0.9M144.5 269.8h0.9M144.0 260.7h0.9M144.7 260.8h0.9M144.4 255.7h0.9M144.3 264.3h0.9M144.7 261.0h0.9M144.1 258.0h0.9M144.0 257.5h0.9M144.7 261.7h0.9M144.0 260.3h0.9" stroke="#000" stroke-width="0.9" fill="none"/>
<path d="M205.6 262.2h0.9M204.9 263.9h0.9M204.6 264.4h0.9M198.1 269.6h0.9M202.4 265.7h0.9M203.9 263.1h0.9M204.9 261.2h0.9M208.7 256.6h0.9M209.9 254.2h0.9M208.4 258.3h0.9M206.1 262.3h0.9M201.8 265.0h0.9M203.9 262.3h0.9M206.7 258.3h0.9M203.3 261.6h0.9M204.5 260.6h0.9M208.1 258.5h0.9M201.2 263.6h0.9M204.5 265.3h0.9M209.2 258.3h0.9M206.3 260.5h0.9M206.7 258.8h0.9M206.3 261.9h0.9M202.1 264.7h0.9M209.8 259.6h0.9M203.8 263.1h0.9M206.5 260.9h0.9M205.6 259.7h0.9M207.0 261.4h0.9M202.6 265.7h0.9M206.6 260.9h0.9M203.3 267.0h0.9M205.0 260.4h0.9M202.4 261.8h0.9M206.9 256.2h0.9M202.9 263.2h0.9M204.3 262.2h0.9M204.2 262.2h0.9M200.6 268.0h0.9M205.3 263.5h0.9M204.2 261.7h0.9M204.1 265.2h0.9M204.0 262.1h0.9M204.7 260.6h0.9M206.5 261.5h0.9" stroke="#111" stroke-width="0.9" fill="none"/>
<path d="M235.8 257.7h0.9M240.7 256.8h0.9M235.3 261.9h0.9M256.8 255.9h0.9M234.1 256.3h0.9M251.4 261.8h0.9M251.4 255.0h0.9M239.3 260.2h0.9M245.3 258.8h0.9M251.6 255.9h0.9M253.6 259.4h0.9M263.5 261.8h0.9M241.4 261.5h0.9M253.2 255.0h0.9M271.0 262.4h0.9M262.7 256.9h0.9M256.5 259.0h0.9M256.3 256.9h0.9M244.9 257.4h0.9M242.2 262.3h0.9M238.5 259.0h0.9M253.4 260.5h0.9M244.3 255.4h0.9M265.5 254.6h0.9M234.4 254.6h0.9M237.0 259.5h0.9M253.5 258.9h0.9M255.5 255.5h0.9M236.0 260.8h0.9M243.4 272.4h0.9M240.4 257.8h0.9M249.2 257.4h0.9M237.9 259.8h0.9M259.0 259.8h0.9M270.4 261.7h0.9M258.1 262.9h0.9M244.0 259.1h0.9M235.2 260.5h0.9M235.8 261.4h0.9M260.8 267.0h0.9M239.7 267.5h0.9M255.0 259.3h0.9M234.2 255.0h0.9M262.7 265.7h0.9M245.1 256.6h0.9M243.8 258.5h0.9M238.3 256.0h0.9M236.2 261.9h0.9M242.5 259.9h0.9M234.0 256.2h0.9M238.9 265.8h0.9M240.0 267.4h0.9M237.2 258.6h0.9M241.2 254.8h0.9M259.7 257.5h0.9M248.6 268.3h0.9M243.0 258.6h0.9M254.0 257.9h0.9M257.2 258.2h0.9M239.9 258.4h0.9M237.2 258.6h0.9M261.9 264.2h0.9M237.4 256.3h0.9M240.0 264.0h0.9M242.8 260.1h0.9M254.3 262.3h0.9M251.5 256.6h0.9M246.3 257.2h0.9M249.6 263.8h0.9M264.8 259.6h0.9M246.1 260.9h0.9M244.8 256.3h0.9M243.6 266.1h0.9M235.6 256.3h0.9M244.1 258.4h0.9M263.4 263.2h0.9M267.8 264.0h0.9M236.3 254.8h0.9M245.7 256.7h0.9M272.7 258.7h0.9M236.0 257.7h0.9M253.7 255.2h0.9M235.7 256.4h0.9M254.0 255.2h0.9M253.0 256.1h0.9M263.8 257.4h0.9M255.7 255.2h0.9M247.0 256.0h0.9M253.7 264.8h0.9M261.2 257.3h0.9M236.8 259.5h0.9M261.3 256.4h0.9M235.8 258.2h0.9M250.1 265.2h0.9M236.5 257.0h0.9M246.5 257.8h0.9M238.5 259.9h0.9M247.6 258.9h0.9M258.4 259.2h0.9M271.9 261.4h0.9M240.7 254.9h0.9M250.7 259.3h0.9M237.4 254.8h0.9M235.6 256.6h0.9M251.0 265.2h0.9M243.6 263.2h0.9M237.2 262.3h0.9M233.9 258.5h0.9M236.8 258.0h0.9M240.7 259.8h0.9M242.2 257.3h0.9M241.4 257.7h0.9M265.5 261.3h0.9M243.3 266.0h0.9M237.2 259.9h0.9M267.4 255.1h0.9M234.9 259.2h0.9M246.0 256.3h0.9M236.2 255.9h0.9M254.4 259.1h0.9M247.5 256.6h0.9M245.4 257.7h0.9M251.4 268.2h0.9M242.5 266.0h0.9M242.9 259.0h0.9M243.7 258.1h0.9M255.5 261.5h0.9M234.4 267.7h0.9M249.1 257.4h0.9M254.5 258.6h0.9M247.6 256.4h0.9M236.7 256.5h0.9M262.3 254.9h0.9M242.9 265.5h0.9M249.0 265.4h0.9M241.6 259.6h0.9M241.2 254.9h0.9M254.0 261.6h0.9M234.9 261.9h0.9M235.8 256.9h0.9M234.0 261.8h0.9M253.3 270.0h0.9M235.8 265.5h0.9M237.8 261.1h0.9M235.3 257.0h0.9M253.1 260.8h0.9M254.5 266.9h0.9M235.3 260.3h0.9M260.3 268.1h0.9M236.6 259.6h0.9M240.1 258.1h0.9M237.6 256.0h0.9M255.0 261.3h0.9M235.4 255.0h0.9M254.3 255.9h0.9M251.4 256.0h0.9M257.7 261.0h0.9M239.0 261.3h0.9M245.1 260.8h0.9M252.3 257.8h0.9M245.0 256.2h0.9M268.6 259.8h0.9M238.2 255.1h0.9M240.7 264.5h0.9M263.2 261.8h0.9M247.3 257.9h0.9M273.4 260.5h0.9M235.1 261.1h0.9M255.8 262.3h0.9M241.1 264.8h0.9M264.7 258.1h0.9M248.8 264.7h0.9M235.5 255.3h0.9M274.7 257.5h0.9M236.1 259.1h0.9M249.9 264.5h0.9M266.2 258.6h0.9M250.0 264.1h0.9M248.8 260.2h0.9M235.6 259.4h0.9M250.8 262.3h0.9M255.6 260.9h0.9M272.4 255.6h0.9M243.7 258.5h0.9M248.8 255.6h0.9M234.2 264.5h0.9M233.8 258.1h0.9M249.4 260.8h0.9M238.9 260.1h0.9M256.3 256.9h0.9M248.1 258.1h0.9M249.5 263.0h0.9M238.1 269.2h0.9M251.4 260.4h0.9M239.0 265.6h0.9M249.1 256.1h0.9M235.6 257.4h0.9M244.4 265.4h0.9M238.0 262.1h0.9M251.8 259.9h0.9M237.1 258.3h0.9M249.8 256.2h0.9M251.6 262.5h0.9M265.5 260.4h0.9M245.2 261.6h0.9M273.1 254.6h0.9M240.4 267.0h0.9M258.3 263.2h0.9M241.4 259.7h0.9M246.8 261.5h0.9M242.3 261.0h0.9M235.0 259.0h0.9M242.4 259.3h0.9M234.8 261.1h0.9M261.9 255.9h0.9M251.4 259.2h0.9M244.1 258.0h0.9M265.4 258.3h0.9M244.6 255.7h0.9M255.9 258.1h0.9M238.3 255.0h0.9M254.0 261.7h0.9M255.5 262.2h0.9M237.6 257.9h0.9M253.7 259.2h0.9M255.1 257.8h0.9M234.3 260.1h0.9M251.0 256.0h0.9M239.9 265.3h0.9M239.3 263.4h0.9M240.1 257.2h0.9M245.9 255.3h0.9M236.1 256.2h0.9M247.7 263.2h0.9M241.0 260.7h0.9M247.7 257.9h0.9M236.9 257.6h0.9M248.7 255.8h0.9M251.1 256.4h0.9M251.6 261.0h0.9M255.4 264.8h0.9M239.9 262.3h0.9M249.6 263.4h0.9M237.4 254.7h0.9M255.9 260.8h0.9M262.6 260.0h0.9M242.9 259.9h0.9M242.1 258.4h0.9M234.6 255.3h0.9M236.2 257.5h0.9M242.3 264.1h0.9M249.0 262.4h0.9M266.7 255.9h0.9M252.7 254.6h0.9M240.5 257.3h0.9M237.9 255.0h0.9M248.6 255.6h0.9M272.2 256.4h0.9M251.5 260.9h0.9M252.6 268.1h0.9M266.2 256.9h0.9M234.2 262.0h0.9M238.9 257.6h0.9M253.9 255.1h0.9M235.4 262.8h0.9M238.0 256.6h0.9M248.3 257.9h0.9M240.4 260.0h0.9M240.8 254.7h0.9M238.0 261.9h0.9M240.0 262.4h0.9M233.8 262.3h0.9M235.3 263.0h0.9M240.3 267.0h0.9M235.7 261.6h0.9M258.2 258.7h0.9M272.4 264.5h0.9M238.4 259.6h0.9M244.9 255.2h0.9M242.3 255.7h0.9M248.4 255.4h0.9M233.8 261.8h0.9M252.9 257.6h0.9M252.5 257.8h0.9M242.4 261.2h0.9M234.3 256.2h0.9M235.4 262.6h0.9M254.9 259.7h0.9M240.6 262.0h0.9M260.8 264.9h0.9M253.0 266.8h0.9M246.4 258.3h0.9M238.8 260.9h0.9M256.5 256.7h0.9M241.8 256.9h0.9M241.4 260.0h0.9M249.0 257.7h0.9M252.8 258.1h0.9M237.3 263.8h0.9M251.5 262.4h0.9M244.3 260.4h0.9M247.1 259.9h0.9M250.3 261.4h0.9M245.6 255.3h0.9M254.1 260.3h0.9M239.7 257.5h0.9M235.5 255.6h0.9M241.6 258.0h0.9M238.4 255.4h0.9M241.9 256.5h0.9M256.7 260.1h0.9M249.6 254.9h0.9M276.2 254.8h0.9M252.0 259.4h0.9M234.0 256.2h0.9M265.0 261.9h0.9M267.4 258.6h0.9M261.9 255.1h0.9M235.1 256.1h0.9M257.7 258.8h0.9M235.2 263.7h0.9M251.4 257.1h0.9M239.6 257.3h0.9M241.7 258.4h0.9M260.1 256.1h0.9M243.4 255.3h0.9M248.9 259.8h0.9M240.2 258.8h0.9M244.5 263.8h0.9M263.5 255.4h0.9M240.4 255.8h0.9M242.2 256.2h0.9M234.6 263.8h0.9M284.6 263.5h0.9M267.0 259.0h0.9M234.1 264.0h0.9M264.0 257.0h0.9M236.9 260.6h0.9M249.2 257.1h0.9M243.7 255.2h0.9M247.9 258.5h0.9M250.4 260.8h0.9M238.4 259.1h0.9M234.8 263.0h0.9M245.4 263.0h0.9M248.0 254.9h0.9M248.4 258.4h0.9M238.6 258.7h0.9M246.9 254.6h0.9M234.7 254.9h0.9M249.2 271.4h0.9M235.4 263.6h0.9M243.9 258.2h0.9M250.6 255.2h0.9M266.4 265.7h0.9M239.6 263.6h0.9M251.1 262.5h0.9M251.2 260.8h0.9M237.9 266.8h0.9M268.5 257.5h0.9M258.2 264.5h0.9M238.1 259.3h0.9M239.0 254.8h0.9M260.4 259.1h0.9M244.7 257.5h0.9M235.2 259.5h0.9M246.8 259.8h0.9M252.3 260.2h0.9M236.1 255.3h0.9M234.4 256.0h0.9M242.3 265.8h0.9M252.1 255.4h0.9M243.4 261.4h0.9M260.5 260.3h0.9M253.2 256.7h0.9M243.5 257.3h0.9M245.3 256.5h0.9M234.0 259.7h0.9M284.5 244.4h0.9M296.0 245.9h0.9M278.6 244.3h0.9M293.9 243.8h0.9M258.9 242.6h0.9M254.4 245.0h0.9M295.3 245.2h0.9M279.4 241.4h0.9M252.9 248.2h0.9M253.0 247.1h0.9M264.8 246.8h0.9M248.3 248.8h0.9M275.2 245.4h0.9M273.5 246.5h0.9M271.9 246.8h0.9M259.3 243.0h0.9M263.1 246.7h0.9M278.5 243.8h0.9M287.4 252.1h0.9M295.4 259.8h0.9M291.9 250.0h0.9M291.1 260.7h0.9M286.9 254.8h0.9M292.5 255.8h0.9M300.3 260.7h0.9M303.3 258.8h0.9M301.4 253.5h0.9M296.7 258.7h0.9M302.5 258.3h0.9M302.7 261.6h0.9M297.9 257.0h0.9M291.2 255.6h0.9M293.3 257.2h0.9M289.2 266.0h0.9M293.5 262.1h0.9M285.5 261.9h0.9M286.3 267.7h0.9M283.6 257.7h0.9M289.5 265.8h0.9M289.6 270.6h0.9M286.7 270.8h0.9M280.4 273.4h0.9M293.1 260.4h0.9M287.5 268.9h0.9M294.9 254.2h0.9M291.2 261.9h0.9M287.9 265.5h0.9M294.3 252.6h0.9M282.4 275.8h0.9M288.6 262.6h0.9M294.5 261.9h0.9M285.0 271.1h0.9M281.4 261.9h0.9M287.3 265.1h0.9M301.6 254.3h0.9M294.7 257.0h0.9M301.4 261.7h0.9M292.4 263.3h0.9M284.4 276.3h0.9M287.0 265.4h0.9M288.6 266.4h0.9M293.3 258.0h0.9M285.6 272.5h0.9M299.3 258.8h0.9M286.9 270.2h0.9M285.5 259.7h0.9M276.0 266.8h0.9M289.4 260.7h0.9M288.3 263.2h0.9M299.5 261.5h0.9M274.6 274.1h0.9M290.1 267.4h0.9M284.4 272.1h0.9M284.6 264.6h0.9M284.1 268.1h0.9M289.6 254.5h0.9M300.9 248.1h0.9M294.1 261.1h0.9M285.6 261.7h0.9M281.2 269.5h0.9M293.6 263.5h0.9M288.7 272.7h0.9M291.2 255.5h0.9M287.5 256.8h0.9M290.8 263.3h0.9" stroke="#3a3a3a" stroke-width="0.9" fill="none"/>
<path d="M248.7 250.9h0.9M261.5 251.2h0.9M281.2 250.2h0.9M268.1 249.4h0.9M283.8 250.2h0.9M241.4 252.7h0.9M241.8 253.6h0.9M236.0 252.9h0.9M266.2 249.1h0.9M275.7 251.0h0.9M248.0 252.8h0.9M275.8 250.4h0.9M255.8 251.2h0.9M262.7 252.2h0.9M245.3 252.0h0.9M236.5 253.8h0.9M261.7 254.1h0.9M250.9 251.6h0.9M282.9 250.0h0.9M274.5 249.8h0.9M282.6 249.9h0.9M247.8 252.1h0.9M273.2 251.4h0.9M282.5 249.2h0.9M246.0 252.0h0.9M252.7 255.0h0.9M265.0 251.4h0.9M285.1 251.0h0.9M237.9 253.0h0.9M256.3 249.9h0.9M243.9 252.8h0.9M256.0 252.6h0.9M239.7 252.8h0.9M279.3 248.5h0.9M286.2 248.3h0.9M281.7 251.3h0.9M271.8 249.5h0.9M281.6 250.2h0.9M245.8 254.4h0.9M246.7 254.2h0.9M284.8 247.8h0.9M248.1 249.6h0.9M270.0 248.8h0.9M238.6 254.2h0.9M242.6 252.0h0.9M280.2 248.6h0.9M247.8 253.5h0.9M277.6 250.9h0.9M275.2 250.3h0.9M272.5 248.6h0.9M283.7 249.8h0.9M262.9 249.7h0.9M236.3 253.1h0.9M250.6 252.7h0.9M254.9 252.2h0.9M250.5 251.8h0.9M259.7 251.3h0.9M277.1 250.8h0.9M259.5 251.7h0.9M278.4 247.6h0.9M287.9 248.9h0.9M236.4 253.4h0.9M257.8 253.5h0.9M260.8 250.5h0.9M286.3 249.1h0.9M251.2 253.0h0.9M279.5 248.8h0.9M278.9 250.6h0.9M243.1 251.7h0.9M281.8 249.9h0.9M263.6 251.7h0.9M263.4 251.8h0.9M239.9 255.1h0.9M241.2 252.6h0.9M240.0 251.8h0.9M250.4 252.3h0.9M256.5 255.6h0.9M257.7 253.6h0.9M283.2 248.8h0.9M276.2 248.7h0.9M239.5 252.9h0.9M256.8 249.2h0.9M272.5 248.8h0.9M268.1 252.5h0.9M284.6 250.4h0.9M285.9 250.3h0.9M249.7 255.3h0.9M285.2 248.0h0.9M279.7 250.1h0.9M250.4 251.1h0.9M239.7 255.0h0.9M249.6 250.6h0.9M284.6 249.9h0.9M279.4 250.8h0.9M270.0 252.1h0.9M239.7 256.0h0.9M282.1 251.0h0.9M268.5 251.0h0.9M262.3 248.8h0.9M262.3 252.1h0.9M244.4 255.5h0.9M265.1 253.0h0.9M240.2 249.7h0.9M281.5 248.9h0.9M240.1 254.3h0.9M258.5 252.6h0.9M246.5 252.8h0.9M273.0 250.6h0.9M274.4 249.4h0.9M262.9 252.2h0.9M247.8 255.8h0.9M279.1 250.1h0.9M276.3 248.3h0.9M236.4 252.3h0.9M239.4 254.2h0.9M265.6 252.0h0.9M275.6 249.4h0.9M267.5 249.6h0.9M248.3 252.8h0.9M257.7 252.2h0.9M272.0 250.8h0.9M239.5 253.2h0.9M247.9 252.5h0.9M254.3 250.7h0.9M278.8 248.0h0.9M247.5 250.3h0.9M263.0 250.6h0.9M245.5 254.1h0.9M246.3 251.0h0.9M243.8 256.6h0.9M263.8 251.0h0.9M279.5 249.1h0.9M281.3 250.5h0.9M284.5 250.6h0.9M280.3 251.3h0.9M251.8 253.8h0.9M268.6 251.7h0.9M248.1 251.9h0.9M247.0 253.0h0.9M240.7 253.7h0.9M253.1 250.9h0.9M250.0 253.2h0.9M285.0 248.2h0.9M280.8 249.2h0.9M253.2 251.3h0.9M256.1 252.0h0.9M275.0 250.9h0.9M246.1 253.4h0.9M248.9 253.0h0.9M244.0 250.3h0.9M282.2 251.6h0.9M243.9 252.0h0.9M241.6 255.2h0.9M238.5 253.8h0.9M279.5 250.1h0.9M281.1 249.6h0.9M282.7 249.6h0.9M260.9 248.7h0.9M279.3 249.6h0.9M243.1 256.9h0.9M259.6 252.8h0.9M238.8 252.3h0.9M245.2 252.0h0.9M238.0 252.5h0.9M285.8 249.5h0.9M243.8 255.2h0.9M281.9 250.2h0.9M273.6 249.7h0.9M244.5 248.9h0.9M256.7 254.8h0.9M249.4 254.4h0.9M241.1 253.0h0.9M249.0 253.1h0.9M255.5 251.2h0.9M274.5 249.5h0.9M271.1 253.8h0.9M256.7 247.7h0.9M236.8 252.9h0.9M282.7 250.0h0.9M270.1 251.5h0.9M274.7 250.4h0.9M271.7 250.2h0.9M261.1 252.0h0.9M270.9 249.1h0.9M273.2 249.0h0.9M269.9 251.6h0.9M284.9 249.0h0.9M273.8 251.3h0.9M284.4 250.5h0.9M265.4 253.4h0.9M238.3 255.4h0.9M251.7 250.4h0.9M277.6 250.2h0.9M268.2 250.8h0.9M245.8 254.6h0.9M267.0 250.5h0.9M285.1 250.7h0.9M264.2 251.5h0.9M251.4 254.7h0.9M243.9 253.1h0.9M241.4 253.3h0.9M239.5 251.4h0.9M283.0 249.3h0.9M254.0 254.9h0.9M254.4 254.8h0.9M267.0 247.4h0.9M245.0 257.0h0.9M265.2 253.9h0.9M250.0 251.1h0.9M253.3 253.5h0.9M273.2 251.7h0.9M265.8 247.4h0.9M244.2 252.6h0.9M237.2 253.7h0.9M282.2 249.5h0.9M249.9 249.8h0.9M275.9 250.1h0.9M237.3 254.4h0.9M268.2 251.5h0.9M266.6 249.3h0.9M255.7 256.0h0.9M278.7 248.9h0.9M260.5 250.4h0.9M278.6 250.6h0.9M249.3 251.5h0.9M243.6 251.9h0.9M283.3 249.2h0.9M287.6 249.5h0.9M237.1 257.4h0.9M254.4 251.5h0.9M282.6 249.2h0.9M283.9 248.7h0.9M253.2 252.5h0.9M269.1 251.6h0.9M275.6 249.2h0.9M284.1 249.2h0.9M270.8 251.2h0.9M279.3 249.3h0.9M244.5 251.3h0.9M247.3 253.9h0.9M239.2 255.5h0.9M251.3 251.6h0.9M245.6 249.0h0.9M272.6 251.1h0.9M253.6 249.2h0.9M235.1 256.7h0.9M281.8 250.0h0.9M272.3 251.4h0.9M244.8 253.3h0.9M235.5 255.2h0.9M274.3 251.2h0.9M239.0 254.0h0.9M236.8 253.8h0.9M279.8 248.4h0.9M270.7 251.6h0.9M260.0 251.0h0.9M239.1 253.7h0.9M259.3 253.2h0.9M249.8 250.8h0.9M260.8 250.1h0.9M235.3 254.9h0.9M265.3 249.9h0.9M267.5 250.1h0.9M289.6 249.2h0.9M265.8 252.0h0.9M264.8 250.6h0.9M275.6 250.5h0.9M276.7 251.7h0.9M250.2 253.3h0.9M281.9 250.2h0.9M267.7 250.8h0.9M235.1 252.9h0.9M257.3 249.1h0.9M265.2 250.7h0.9M273.7 251.8h0.9M249.8 255.7h0.9M254.7 250.9h0.9M242.6 253.0h0.9M246.8 253.5h0.9M284.0 249.8h0.9M252.0 251.4h0.9M272.7 247.4h0.9M280.6 249.4h0.9M283.5 249.0h0.9M281.5 249.4h0.9M236.8 253.1h0.9M271.4 249.6h0.9M280.3 250.1h0.9M273.7 249.5h0.9M269.5 248.7h0.9M255.7 252.5h0.9M255.6 251.7h0.9M249.4 253.1h0.9M271.4 251.9h0.9M236.4 250.8h0.9M237.5 252.9h0.9M260.0 249.3h0.9M248.8 252.8h0.9M254.3 249.5h0.9M266.7 247.4h0.9M249.1 254.7h0.9M259.4 249.6h0.9M260.5 250.5h0.9M239.4 253.8h0.9M282.3 250.4h0.9M275.0 250.4h0.9M240.8 252.4h0.9M253.7 255.5h0.9M271.7 250.1h0.9M286.1 248.9h0.9M238.4 253.7h0.9M240.3 252.0h0.9M261.6 251.9h0.9M235.9 251.9h0.9M266.3 251.6h0.9M275.5 248.2h0.9M278.4 250.2h0.9M272.9 251.3h0.9M237.7 253.6h0.9M246.4 252.5h0.9M254.7 256.0h0.9M280.9 249.8h0.9M273.2 249.4h0.9M260.9 251.5h0.9M286.0 250.6h0.9M264.0 250.4h0.9M251.7 249.1h0.9M253.5 251.4h0.9M287.9 248.6h0.9M251.7 251.6h0.9M258.2 248.8h0.9M253.9 254.7h0.9M245.7 252.5h0.9M236.7 254.5h0.9M248.8 252.4h0.9M284.4 250.2h0.9M246.3 252.1h0.9M284.0 249.2h0.9M268.5 249.4h0.9M283.9 249.1h0.9M254.2 253.4h0.9M236.6 255.1h0.9M236.5 252.5h0.9M282.6 248.3h0.9M278.4 250.9h0.9M283.9 248.8h0.9M258.8 250.3h0.9M275.9 249.8h0.9M267.2 252.3h0.9M242.9 253.5h0.9M263.5 250.7h0.9M263.4 248.7h0.9M249.1 252.4h0.9M265.3 252.9h0.9M264.6 251.3h0.9M243.6 254.1h0.9M241.2 253.2h0.9M266.8 250.6h0.9M272.5 250.7h0.9M267.7 250.9h0.9M263.7 255.0h0.9M266.9 251.3h0.9M261.0 251.3h0.9M254.8 252.0h0.9M241.4 253.5h0.9M261.3 251.9h0.9M283.3 250.3h0.9M270.4 251.8h0.9M242.1 253.5h0.9M285.9 248.0h0.9M245.1 254.3h0.9M265.8 251.5h0.9M281.7 251.0h0.9M280.6 247.7h0.9M258.5 253.0h0.9M238.6 249.3h0.9M251.8 252.3h0.9M253.8 251.5h0.9M258.1 253.2h0.9M251.9 248.4h0.9M277.3 250.9h0.9M266.1 248.4h0.9M282.4 249.3h0.9M259.1 250.4h0.9M249.1 253.4h0.9M270.2 250.0h0.9M261.6 251.6h0.9M274.0 249.4h0.9M243.4 252.0h0.9M259.3 250.2h0.9M282.3 250.0h0.9M240.6 251.9h0.9M245.3 250.9h0.9M247.6 253.7h0.9M264.8 251.8h0.9M271.3 252.8h0.9M262.3 251.2h0.9M251.1 253.7h0.9M280.4 249.2h0.9M240.4 254.9h0.9M250.9 255.0h0.9M250.0 255.0h0.9M248.7 249.2h0.9M243.0 250.8h0.9M281.9 248.0h0.9M285.1 250.4h0.9M265.3 253.0h0.9M278.7 249.6h0.9M249.9 250.7h0.9M277.7 249.4h0.9M271.7 249.3h0.9M273.9 249.6h0.9M269.5 249.6h0.9M235.6 254.8h0.9M271.2 253.4h0.9M284.2 249.5h0.9M265.7 252.3h0.9M247.5 255.4h0.9M278.7 251.5h0.9M280.5 249.6h0.9M270.8 251.4h0.9M279.8 251.2h0.9M266.3 252.8h0.9M255.8 254.4h0.9M279.2 249.3h0.9M277.8 250.1h0.9M244.6 254.4h0.9M263.2 251.0h0.9M238.0 256.9h0.9M235.5 257.5h0.9M241.7 251.5h0.9M276.8 249.5h0.9M244.6 252.7h0.9M238.7 253.9h0.9M279.5 251.1h0.9M240.2 256.5h0.9M259.5 250.3h0.9M256.3 251.7h0.9M261.1 252.8h0.9M240.8 252.1h0.9M259.0 252.6h0.9M241.4 250.6h0.9M254.1 252.7h0.9M270.1 250.5h0.9M242.9 253.8h0.9M235.0 251.7h0.9M267.1 249.7h0.9M276.9 249.5h0.9M243.2 250.4h0.9M284.8 248.1h0.9M244.4 250.7h0.9M240.6 254.1h0.9M261.1 251.0h0.9M283.2 249.8h0.9M262.8 251.2h0.9M241.1 256.2h0.9M246.7 251.8h0.9M273.7 250.2h0.9M261.4 252.8h0.9M260.1 251.7h0.9M273.4 250.8h0.9M254.6 252.9h0.9M243.5 251.1h0.9M242.3 250.8h0.9M260.6 250.4h0.9M284.0 250.3h0.9M266.9 254.5h0.9M273.4 249.0h0.9M269.6 251.3h0.9M269.5 247.7h0.9M237.9 253.1h0.9M256.1 252.4h0.9M270.4 250.8h0.9M236.8 251.2h0.9M235.3 252.9h0.9M264.3 253.8h0.9M244.4 253.1h0.9M263.0 250.2h0.9M235.3 253.9h0.9M237.2 252.0h0.9M236.0 252.7h0.9M264.6 250.6h0.9M265.6 251.0h0.9M262.5 250.7h0.9M278.7 250.6h0.9M284.6 248.5h0.9M250.2 250.2h0.9M275.4 251.3h0.9M263.3 250.5h0.9M287.7 249.5h0.9M253.2 251.2h0.9M250.5 251.4h0.9M260.6 249.5h0.9M251.4 252.3h0.9M254.2 251.9h0.9M266.7 249.5h0.9M263.1 251.3h0.9M260.4 253.3h0.9M284.8 248.0h0.9M262.8 252.8h0.9M255.2 250.8h0.9M248.5 251.7h0.9M273.7 250.7h0.9M269.4 251.9h0.9M279.7 250.0h0.9M239.6 254.1h0.9M254.5 249.5h0.9M271.9 248.8h0.9M244.2 250.9h0.9M245.6 252.0h0.9M251.1 250.4h0.9M237.1 251.5h0.9M268.9 251.8h0.9M273.8 250.1h0.9M243.3 250.5h0.9M241.0 255.3h0.9M267.2 252.8h0.9M279.6 251.0h0.9M282.1 247.7h0.9M263.3 249.1h0.9M262.5 249.4h0.9M283.4 249.7h0.9M238.6 254.2h0.9M254.7 252.8h0.9M269.3 249.7h0.9M277.6 251.2h0.9M269.7 253.7h0.9M259.8 251.7h0.9M259.1 253.5h0.9M279.3 250.0h0.9M271.8 247.4h0.9M245.8 251.5h0.9M280.1 249.5h0.9M274.9 251.0h0.9M266.0 252.3h0.9M274.5 249.6h0.9M270.9 249.2h0.9M252.6 250.4h0.9M269.8 250.5h0.9M254.5 251.4h0.9M236.8 253.6h0.9M254.6 253.7h0.9M262.1 249.4h0.9M283.7 251.1h0.9M261.5 250.7h0.9M241.4 255.3h0.9M254.3 252.0h0.9M273.5 251.1h0.9M252.8 250.8h0.9M286.5 250.3h0.9M288.5 249.5h0.9M244.9 250.2h0.9M287.2 249.3h0.9M240.5 251.5h0.9M272.9 251.3h0.9M267.1 250.0h0.9M238.1 254.8h0.9M235.9 254.7h0.9M248.0 253.6h0.9M268.9 249.9h0.9M273.1 251.9h0.9M253.7 251.8h0.9M277.9 249.9h0.9M241.0 254.9h0.9M273.3 249.8h0.9M269.9 252.5h0.9M252.5 253.7h0.9M282.9 250.2h0.9M253.0 251.9h0.9M248.2 251.4h0.9M266.8 251.6h0.9M262.3 249.4h0.9M244.0 253.4h0.9M252.9 250.4h0.9M274.9 251.7h0.9M252.4 252.3h0.9M272.7 251.8h0.9M264.1 249.5h0.9M272.7 250.5h0.9M247.0 251.4h0.9M277.8 249.9h0.9M241.2 251.0h0.9M264.1 252.7h0.9M281.9 249.0h0.9M286.3 250.0h0.9M241.0 254.0h0.9M245.6 255.2h0.9M236.8 254.5h0.9M268.8 248.3h0.9M261.2 250.1h0.9M248.7 250.2h0.9M270.0 248.9h0.9M260.6 249.6h0.9M249.8 253.7h0.9M246.0 253.9h0.9M250.7 252.8h0.9M276.7 248.9h0.9M285.7 249.2h0.9M253.7 253.1h0.9M265.3 251.5h0.9M272.1 249.0h0.9M248.4 252.7h0.9M268.6 250.9h0.9M257.6 254.5h0.9M279.7 249.6h0.9M243.4 248.8h0.9M240.0 253.8h0.9M237.5 255.3h0.9M256.7 248.9h0.9M256.8 253.4h0.9M245.0 254.9h0.9M274.5 250.6h0.9M272.2 249.8h0.9M268.8 250.9h0.9M267.6 250.5h0.9M269.4 251.2h0.9M273.3 252.1h0.9M258.6 252.1h0.9M247.3 251.7h0.9M242.6 254.3h0.9M251.6 251.7h0.9M262.0 248.8h0.9M282.1 250.0h0.9M276.8 252.3h0.9M261.7 250.8h0.9M238.9 253.7h0.9M242.7 250.5h0.9M246.9 252.5h0.9M242.0 252.5h0.9M254.5 252.5h0.9M269.0 250.9h0.9M236.5 253.2h0.9M246.4 254.2h0.9M279.3 249.3h0.9M259.7 249.8h0.9M261.3 253.4h0.9M263.9 252.2h0.9M267.8 249.5h0.9M284.9 248.7h0.9M268.6 249.2h0.9M240.2 257.2h0.9M273.9 251.3h0.9M273.5 250.8h0.9M251.6 253.6h0.9M284.5 250.1h0.9M242.3 257.1h0.9M277.2 250.8h0.9M259.3 252.6h0.9M258.7 251.2h0.9M244.8 254.6h0.9M274.0 250.9h0.9M259.5 252.0h0.9M249.4 248.2h0.9M245.9 252.4h0.9M264.0 249.8h0.9M237.8 254.7h0.9M254.0 248.4h0.9M238.4 252.3h0.9M277.7 248.9h0.9M254.6 252.1h0.9M239.0 253.6h0.9M260.6 252.3h0.9M247.1 251.6h0.9M264.8 250.7h0.9M274.7 248.8h0.9M263.5 251.6h0.9M276.0 249.5h0.9M264.9 253.1h0.9M274.2 253.1h0.9M255.1 249.2h0.9M269.1 250.7h0.9M251.7 250.0h0.9M271.0 249.0h0.9M277.6 250.3h0.9M250.1 253.3h0.9M259.4 251.1h0.9M256.8 253.4h0.9M242.5 253.1h0.9M252.5 251.2h0.9M253.2 255.3h0.9M276.7 250.8h0.9M269.5 250.8h0.9M242.2 254.5h0.9M242.9 254.6h0.9M249.2 252.2h0.9M264.9 252.9h0.9M247.1 249.7h0.9M242.9 250.8h0.9M267.5 251.2h0.9M253.3 249.8h0.9M259.1 254.4h0.9M274.5 250.3h0.9M280.8 250.8h0.9M269.3 250.9h0.9M270.0 250.1h0.9M265.4 250.8h0.9M262.1 252.9h0.9M241.3 252.6h0.9M262.2 248.1h0.9M245.9 255.3h0.9M245.3 252.1h0.9M250.8 251.8h0.9M260.2 251.2h0.9M278.7 249.0h0.9M242.5 248.9h0.9M286.6 249.2h0.9M284.2 249.1h0.9M274.2 250.6h0.9M247.4 252.9h0.9M258.4 250.9h0.9M254.9 250.5h0.9M264.7 253.9h0.9M240.3 253.9h0.9M267.1 250.9h0.9M269.9 248.7h0.9M249.1 251.3h0.9M282.3 249.7h0.9M269.1 249.2h0.9M244.0 251.4h0.9M251.8 250.3h0.9M241.4 252.6h0.9M254.8 252.5h0.9M236.5 253.1h0.9M269.6 250.3h0.9M286.9 249.9h0.9M280.1 250.7h0.9M244.6 248.6h0.9M259.1 249.8h0.9M265.1 250.6h0.9M260.4 252.0h0.9M284.1 247.8h0.9M239.2 252.4h0.9M260.0 253.6h0.9M264.0 251.1h0.9M261.8 251.6h0.9M282.4 250.4h0.9M263.6 252.3h0.9M286.9 249.0h0.9M265.7 251.3h0.9M238.8 251.9h0.9M264.1 252.0h0.9M264.3 252.3h0.9M283.5 250.4h0.9M255.6 252.6h0.9M271.9 247.4h0.9M255.9 251.7h0.9M241.6 251.5h0.9M253.2 253.4h0.9M281.9 250.7h0.9M261.3 251.9h0.9M267.1 250.2h0.9M237.0 254.2h0.9M277.0 251.1h0.9M263.3 253.2h0.9M284.9 250.4h0.9M276.7 249.9h0.9M269.5 251.0h0.9M235.2 253.6h0.9M253.5 254.3h0.9M286.0 248.4h0.9M245.6 249.9h0.9M270.1 252.3h0.9M241.1 255.0h0.9M286.5 250.1h0.9M274.9 250.1h0.9M257.4 253.5h0.9M242.1 252.9h0.9M263.3 250.2h0.9M268.0 251.9h0.9M258.8 249.6h0.9M272.9 250.9h0.9M282.9 249.4h0.9M260.6 251.7h0.9M273.8 252.7h0.9M282.5 248.5h0.9M281.2 250.1h0.9M240.1 255.3h0.9M268.5 252.1h0.9M288.5 249.9h0.9M246.6 251.0h0.9M270.1 252.6h0.9M284.9 249.3h0.9M237.2 256.8h0.9M273.0 250.5h0.9M268.4 252.4h0.9M239.4 254.8h0.9M249.7 251.5h0.9M250.3 252.2h0.9M254.9 254.0h0.9M236.9 252.7h0.9M244.6 254.3h0.9M282.6 249.5h0.9M271.2 251.5h0.9M275.0 250.5h0.9M280.7 250.1h0.9M285.2 250.6h0.9M254.7 250.4h0.9M267.3 249.5h0.9M242.7 249.6h0.9M258.4 255.7h0.9M277.7 249.6h0.9M257.1 253.8h0.9M237.3 252.9h0.9M244.2 252.0h0.9M271.0 249.5h0.9M282.8 251.4h0.9M251.9 250.7h0.9M266.4 249.4h0.9M283.3 249.9h0.9M271.3 251.4h0.9M235.9 254.2h0.9M239.7 251.4h0.9M266.7 251.1h0.9M261.6 252.8h0.9M264.0 250.0h0.9M237.4 256.2h0.9M256.3 250.9h0.9M262.1 252.2h0.9M249.1 252.8h0.9M258.6 251.1h0.9M259.9 253.4h0.9M256.1 249.3h0.9M244.9 252.7h0.9M280.6 248.7h0.9M279.6 250.4h0.9M256.8 248.5h0.9M252.9 253.3h0.9M270.4 249.8h0.9M269.5 252.1h0.9M275.8 249.8h0.9M243.0 255.8h0.9M252.6 251.7h0.9M275.8 249.8h0.9M257.8 250.7h0.9M252.3 251.4h0.9M268.0 248.7h0.9M269.8 251.0h0.9M284.9 248.2h0.9M244.1 252.6h0.9M241.1 252.2h0.9M240.2 252.5h0.9M243.2 251.4h0.9M260.2 250.9h0.9M243.0 252.7h0.9M239.6 253.5h0.9M280.8 251.2h0.9M250.1 251.7h0.9M251.4 253.6h0.9M237.8 254.8h0.9M258.7 253.0h0.9M265.1 250.8h0.9M271.5 253.3h0.9M277.1 248.5h0.9M274.3 249.6h0.9M237.2 253.9h0.9M241.9 251.8h0.9M256.1 252.1h0.9M268.1 251.8h0.9M285.7 249.5h0.9M281.1 249.5h0.9M280.3 250.3h0.9M273.8 249.9h0.9M262.6 250.4h0.9M240.9 250.0h0.9M276.6 250.9h0.9M238.4 256.2h0.9M266.8 249.4h0.9M272.2 249.7h0.9M261.6 253.6h0.9M262.3 249.2h0.9M273.1 249.1h0.9M247.1 253.5h0.9M277.8 250.1h0.9M284.2 250.1h0.9M267.5 248.7h0.9M281.4 250.4h0.9M284.8 249.0h0.9M275.4 251.6h0.9M252.7 253.6h0.9M246.1 251.7h0.9M237.6 255.3h0.9M276.8 249.9h0.9M277.8 249.0h0.9M260.0 250.8h0.9M279.9 248.5h0.9M251.5 251.8h0.9M281.9 248.9h0.9M257.6 253.8h0.9M259.5 249.7h0.9M239.7 255.4h0.9M240.3 254.4h0.9M275.8 248.3h0.9M246.1 252.4h0.9M238.2 252.8h0.9M243.0 251.8h0.9M281.0 249.6h0.9M270.0 253.6h0.9M249.5 252.1h0.9M256.0 249.7h0.9M254.3 250.3h0.9M274.3 249.7h0.9M281.2 251.8h0.9M244.2 251.9h0.9M241.2 255.6h0.9M249.6 249.7h0.9M278.6 249.5h0.9M248.9 251.7h0.9M253.5 251.2h0.9M268.5 251.2h0.9M278.8 250.4h0.9M245.4 252.4h0.9M248.2 250.0h0.9M268.9 251.0h0.9M286.2 249.5h0.9M265.6 252.1h0.9M253.4 250.4h0.9M276.2 251.7h0.9M273.5 250.8h0.9M245.1 250.5h0.9M256.8 253.2h0.9M240.4 251.3h0.9M262.3 250.1h0.9M260.9 250.9h0.9M264.8 251.6h0.9M281.1 251.9h0.9M252.7 251.7h0.9M274.1 251.0h0.9M242.9 253.7h0.9M240.2 252.7h0.9M280.4 248.4h0.9M236.3 253.5h0.9M266.3 247.8h0.9M282.9 249.9h0.9M284.9 248.4h0.9M244.8 253.3h0.9M238.5 255.1h0.9M245.2 251.4h0.9M284.1 250.1h0.9M266.1 252.8h0.9M259.1 249.7h0.9M235.5 249.9h0.9M247.9 251.4h0.9M274.9 250.6h0.9M272.9 249.1h0.9M259.1 251.6h0.9M244.5 253.2h0.9M235.3 254.8h0.9M246.0 254.8h0.9M261.9 252.0h0.9M255.7 250.4h0.9M240.0 252.6h0.9M265.5 248.5h0.9M270.0 251.6h0.9M262.7 254.7h0.9M270.6 248.7h0.9M247.9 253.5h0.9M264.7 252.3h0.9M277.5 252.6h0.9M240.7 256.7h0.9M275.2 249.8h0.9M236.5 255.2h0.9M237.6 254.7h0.9M261.3 248.4h0.9M262.6 251.6h0.9M255.0 251.5h0.9M272.7 252.7h0.9M253.5 251.7h0.9M250.1 253.2h0.9M248.3 255.2h0.9M237.9 255.1h0.9M263.1 249.2h0.9M270.0 250.7h0.9M263.1 251.9h0.9M256.3 252.8h0.9M271.2 250.3h0.9M252.9 253.9h0.9M282.5 249.1h0.9M255.3 251.2h0.9M242.8 255.6h0.9M278.8 249.7h0.9M271.4 248.7h0.9M263.6 253.6h0.9M242.3 250.7h0.9M276.6 249.4h0.9M251.9 252.7h0.9M248.8 254.0h0.9M272.1 251.6h0.9M279.9 250.9h0.9M278.9 250.8h0.9M250.6 253.4h0.9M284.0 249.7h0.9M276.9 249.8h0.9M246.9 251.6h0.9M281.9 251.8h0.9M247.0 254.3h0.9M274.7 250.7h0.9M259.4 253.7h0.9M249.8 253.4h0.9M255.8 253.0h0.9M235.2 254.0h0.9M279.9 250.5h0.9M244.6 253.2h0.9M248.1 250.2h0.9M284.0 249.8h0.9M267.1 252.0h0.9M278.5 250.1h0.9M265.8 250.7h0.9M274.4 250.7h0.9M260.5 251.5h0.9M242.6 251.0h0.9M274.7 250.3h0.9M246.7 251.3h0.9M272.3 248.9h0.9M256.3 252.6h0.9M240.8 253.6h0.9M264.2 252.6h0.9M254.0 251.6h0.9M251.3 253.1h0.9M256.7 252.1h0.9M271.8 251.4h0.9M267.6 249.7h0.9M271.4 251.9h0.9M258.7 250.5h0.9M259.6 248.1h0.9M269.2 250.7h0.9M276.9 248.5h0.9M257.5 253.5h0.9M281.8 248.7h0.9M242.2 253.2h0.9M268.9 248.4h0.9M270.1 251.3h0.9M252.6 254.8h0.9M235.7 253.0h0.9M262.1 253.4h0.9M254.2 251.8h0.9M273.9 249.0h0.9M266.2 250.6h0.9M264.4 249.9h0.9M243.3 254.0h0.9M268.4 251.7h0.9M245.0 255.9h0.9M268.0 249.7h0.9M288.1 249.5h0.9M238.9 252.3h0.9M280.7 249.1h0.9M273.5 250.0h0.9M259.9 252.5h0.9M256.0 253.1h0.9M254.6 253.9h0.9M240.0 252.6h0.9M247.6 252.3h0.9M249.0 251.7h0.9M282.4 247.7h0.9M284.2 249.6h0.9M251.4 252.3h0.9M269.6 250.0h0.9M237.5 253.7h0.9M262.5 253.2h0.9M267.3 249.1h0.9M271.1 251.2h0.9M248.4 251.3h0.9M252.0 251.9h0.9M267.3 250.6h0.9M266.6 250.6h0.9M268.3 253.1h0.9M264.7 251.0h0.9M239.4 252.8h0.9M260.5 249.6h0.9M238.8 256.1h0.9M244.4 253.7h0.9M286.5 249.6h0.9M254.7 250.5h0.9M283.7 249.3h0.9M282.5 251.1h0.9M267.9 249.6h0.9M248.2 250.7h0.9M253.1 254.7h0.9M267.5 249.4h0.9M242.2 254.3h0.9M282.3 251.4h0.9M276.2 248.8h0.9M249.0 250.6h0.9M240.4 255.4h0.9M283.3 250.7h0.9M269.4 253.7h0.9M275.3 250.6h0.9M243.6 253.3h0.9M277.5 248.8h0.9M284.4 249.4h0.9M269.0 250.8h0.9M277.6 250.4h0.9M251.8 250.6h0.9M281.3 249.6h0.9M288.9 250.4h0.9M249.9 255.3h0.9M273.3 251.3h0.9M264.3 252.6h0.9M259.1 254.3h0.9M242.6 249.5h0.9M280.3 251.7h0.9M272.0 250.5h0.9M235.9 250.7h0.9M260.2 252.1h0.9M254.8 253.3h0.9M264.0 250.3h0.9M247.1 254.9h0.9M255.7 253.6h0.9M264.1 255.0h0.9M280.4 249.8h0.9M287.3 249.6h0.9M249.7 251.6h0.9M281.8 248.8h0.9M240.9 253.8h0.9M235.9 257.3h0.9M256.9 250.7h0.9M259.7 250.2h0.9M272.0 250.8h0.9M244.9 251.6h0.9M258.8 252.6h0.9M273.8 250.1h0.9M248.1 251.6h0.9M273.8 249.8h0.9M281.6 249.8h0.9M277.9 251.6h0.9M264.5 248.0h0.9M276.4 252.4h0.9M253.4 252.8h0.9M281.0 251.2h0.9M287.2 250.3h0.9M238.1 254.4h0.9M283.6 248.9h0.9M251.4 250.7h0.9M283.7 250.3h0.9M281.3 250.3h0.9M282.8 251.4h0.9M243.8 248.7h0.9M271.7 249.7h0.9M244.2 248.7h0.9M269.8 253.6h0.9M269.4 249.7h0.9M245.8 250.0h0.9M260.1 252.7h0.9M270.3 251.7h0.9M274.7 248.8h0.9M280.6 249.2h0.9M256.8 251.4h0.9M283.1 250.9h0.9M282.6 249.0h0.9M258.5 251.5h0.9M261.6 253.1h0.9M234.0 261.7h0.9M233.7 254.6h0.9M233.2 253.4h0.9M233.9 258.2h0.9M233.3 265.6h0.9M233.8 252.2h0.9M233.2 252.5h0.9M233.7 257.8h0.9M233.5 253.5h0.9M234.4 254.5h0.9" stroke="#000" stroke-width="0.9" fill="none"/>
<path d="M283.9 264.5h0.9M284.3 266.4h0.9M282.6 268.2h0.9M296.4 257.0h0.9M290.8 260.8h0.9M285.0 263.4h0.9M286.3 263.9h0.9M289.4 265.0h0.9M290.7 261.8h0.9M286.1 265.7h0.9M289.1 258.6h0.9M289.2 258.4h0.9M296.0 259.6h0.9M290.0 260.3h0.9M289.8 258.7h0.9M289.8 260.4h0.9M295.1 260.4h0.9M292.5 261.8h0.9M289.0 264.0h0.9M286.6 264.2h0.9M288.2 265.5h0.9M290.9 263.5h0.9M286.4 265.5h0.9M288.3 262.3h0.9M286.7 265.5h0.9M289.6 262.8h0.9M288.1 262.3h0.9M287.3 259.6h0.9M294.5 259.8h0.9M289.9 262.9h0.9M282.7 268.2h0.9M291.3 260.3h0.9M290.3 262.8h0.9M290.9 262.6h0.9M288.3 262.5h0.9M286.3 264.7h0.9M284.4 267.4h0.9M290.9 261.2h0.9M288.8 257.4h0.9M285.6 270.5h0.9M286.9 264.3h0.9M282.9 269.7h0.9M282.8 268.2h0.9M291.0 258.4h0.9M288.7 263.3h0.9M293.2 256.9h0.9M284.1 268.3h0.9M288.5 261.3h0.9M293.1 259.8h0.9M291.1 258.6h0.9M295.4 255.7h0.9M289.1 260.0h0.9M291.1 261.5h0.9M291.0 261.5h0.9M291.9 260.5h0.9M289.1 260.6h0.9M288.9 262.5h0.9M288.8 263.5h0.9M292.6 261.2h0.9M287.4 264.0h0.9M286.8 266.1h0.9M291.9 259.0h0.9M287.1 262.6h0.9M286.4 262.4h0.9M288.5 260.1h0.9M288.3 265.1h0.9M283.7 263.9h0.9M291.5 258.8h0.9M291.1 256.9h0.9M286.0 265.9h0.9M287.9 262.9h0.9M291.7 261.6h0.9M293.0 258.2h0.9M290.3 258.8h0.9M292.1 260.3h0.9M287.2 263.5h0.9M290.3 262.2h0.9M291.6 258.0h0.9M283.3 264.7h0.9M292.5 259.7h0.9M289.3 261.2h0.9M289.7 266.8h0.9M291.1 260.3h0.9M288.9 259.4h0.9M286.7 264.2h0.9M290.1 264.5h0.9M286.4 265.2h0.9M287.7 262.7h0.9M285.4 266.3h0.9M284.6 267.8h0.9M291.0 258.8h0.9M282.9 267.2h0.9M283.1 266.2h0.9M287.0 267.0h0.9M298.6 257.2h0.9M284.9 268.3h0.9M289.2 265.4h0.9M287.6 265.7h0.9M291.8 259.8h0.9M285.1 263.9h0.9M292.9 257.9h0.9M289.2 262.8h0.9M293.0 257.4h0.9M289.6 260.9h0.9M289.0 262.7h0.9M285.2 267.0h0.9M286.8 264.4h0.9M288.0 262.6h0.9M288.0 263.5h0.9M291.1 260.6h0.9M289.2 262.9h0.9M292.0 259.8h0.9M289.7 264.1h0.9M288.7 264.1h0.9M293.0 260.3h0.9M291.4 262.6h0.9M290.7 258.7h0.9M290.3 261.0h0.9M287.4 264.4h0.9M289.9 261.8h0.9M289.6 260.2h0.9M291.8 264.0h0.9M291.5 255.3h0.9M282.0 269.5h0.9M290.4 262.1h0.9M287.6 260.5h0.9M291.7 258.6h0.9M287.6 264.4h0.9M289.0 260.8h0.9M287.6 265.5h0.9M282.5 266.4h0.9M284.6 265.1h0.9M295.0 259.2h0.9M284.8 267.8h0.9M290.4 261.3h0.9M282.4 266.1h0.9M290.6 259.2h0.9M291.4 260.7h0.9M288.0 261.0h0.9M286.3 263.7h0.9M290.0 263.4h0.9M288.7 260.3h0.9M287.9 263.9h0.9M282.2 269.8h0.9M289.7 258.8h0.9M289.1 262.4h0.9M288.8 263.3h0.9M285.3 262.4h0.9M279.4 276.1h0.9M287.4 262.3h0.9M286.8 263.3h0.9M290.6 260.9h0.9M290.5 262.3h0.9M287.7 266.2h0.9M288.9 259.2h0.9M288.3 263.2h0.9M290.6 262.6h0.9M287.8 262.5h0.9M289.9 259.8h0.9M290.8 260.1h0.9M291.5 261.6h0.9M294.7 257.5h0.9M292.9 258.7h0.9M290.4 260.5h0.9M286.4 263.1h0.9M287.3 262.7h0.9M287.4 260.5h0.9M290.7 263.4h0.9M287.0 265.8h0.9M285.6 266.4h0.9M290.3 260.5h0.9M289.6 262.5h0.9M287.3 260.2h0.9M285.2 270.1h0.9M284.5 269.3h0.9M289.0 260.7h0.9M291.9 258.6h0.9M294.5 260.6h0.9M291.4 261.3h0.9M293.0 261.1h0.9M284.6 268.0h0.9M290.9 258.4h0.9M290.2 260.2h0.9M283.1 271.8h0.9M293.2 258.0h0.9M292.2 257.4h0.9M284.9 261.4h0.9M286.1 267.6h0.9M294.3 258.4h0.9M289.3 262.1h0.9M285.3 267.0h0.9M286.7 265.0h0.9M289.3 259.3h0.9M287.9 264.5h0.9M292.7 255.3h0.9M286.6 265.2h0.9M291.8 259.7h0.9M292.6 258.2h0.9M288.4 260.7h0.9M289.9 259.3h0.9M287.4 265.2h0.9M291.7 256.3h0.9M288.3 261.1h0.9M287.7 265.2h0.9M288.6 261.8h0.9M293.2 258.4h0.9M288.5 262.9h0.9M284.5 268.1h0.9M285.6 265.7h0.9M291.7 256.8h0.9M287.1 261.5h0.9M286.9 266.5h0.9M290.3 261.9h0.9M289.5 260.1h0.9M292.7 262.0h0.9M287.8 264.5h0.9M289.5 262.1h0.9M290.2 262.3h0.9M288.6 261.2h0.9M289.0 261.0h0.9M288.5 261.7h0.9M289.1 262.1h0.9M285.9 268.2h0.9M286.8 266.6h0.9M291.8 257.2h0.9M290.0 263.6h0.9M290.5 267.2h0.9M291.0 258.4h0.9M298.2 254.9h0.9M295.0 252.4h0.9M288.6 261.9h0.9M290.2 261.4h0.9M283.9 263.4h0.9M291.6 258.8h0.9M292.9 258.7h0.9M289.0 265.1h0.9M285.2 267.9h0.9M287.0 265.9h0.9M287.4 259.5h0.9M284.4 267.8h0.9M291.8 258.6h0.9M291.5 264.8h0.9M288.6 265.8h0.9M288.2 261.7h0.9M287.8 266.7h0.9M290.2 258.5h0.9M289.0 263.8h0.9M289.9 259.2h0.9M295.4 257.8h0.9M288.9 263.8h0.9M290.9 263.2h0.9M282.7 271.8h0.9M291.2 259.8h0.9M289.7 260.1h0.9M290.3 260.5h0.9M287.4 264.6h0.9M287.9 265.0h0.9M281.9 272.2h0.9M289.2 262.3h0.9M287.6 265.7h0.9M288.5 261.1h0.9M289.7 262.1h0.9M288.1 260.3h0.9M286.0 266.8h0.9M291.2 259.5h0.9M292.0 262.1h0.9M286.9 263.9h0.9M284.3 266.8h0.9M285.5 262.9h0.9M285.0 268.9h0.9M287.8 260.8h0.9M288.9 265.7h0.9M292.7 255.1h0.9M291.0 258.2h0.9M284.6 263.0h0.9M287.4 264.4h0.9M288.4 264.4h0.9M288.1 267.4h0.9M292.5 260.0h0.9M287.7 264.3h0.9M280.9 270.7h0.9M287.3 264.0h0.9M283.6 274.0h0.9M290.7 264.8h0.9M291.8 261.0h0.9M286.2 263.1h0.9M283.9 269.1h0.9M288.6 264.7h0.9M290.5 258.3h0.9M289.2 263.5h0.9M284.2 269.6h0.9M285.3 266.9h0.9M288.1 262.1h0.9M290.1 264.1h0.9M289.2 261.0h0.9M287.2 266.0h0.9M279.9 275.4h0.9M287.3 263.1h0.9M293.6 258.3h0.9M293.1 260.7h0.9" stroke="#111" stroke-width="0.9" fill="none"/>
<text transform="translate(0.64,362.20) scale(0.9011,1)" font-size="21.800" font-weight="bold" fill="#111">C</text>
<rect x="55.20" y="372.30" width="46.60" height="116.50" fill="none" stroke="#000" stroke-width="1.6"/>
<line x1="51.60" y1="488.80" x2="55.20" y2="488.80" stroke="#000" stroke-width="1.3"/>
<text transform="translate(41.11,492.22) scale(1.0019,1)" font-size="10.683" fill="#111">0</text>
<line x1="51.60" y1="469.38" x2="55.20" y2="469.38" stroke="#000" stroke-width="1.3"/>
<text transform="translate(29.99,472.80) scale(1.0019,1)" font-size="10.683" fill="#111">100</text>
<line x1="51.60" y1="449.97" x2="55.20" y2="449.97" stroke="#000" stroke-width="1.3"/>
<text transform="translate(29.99,453.38) scale(1.0019,1)" font-size="10.683" fill="#111">200</text>
<line x1="51.60" y1="430.55" x2="55.20" y2="430.55" stroke="#000" stroke-width="1.3"/>
<text transform="translate(29.99,433.97) scale(1.0019,1)" font-size="10.683" fill="#111">300</text>
<line x1="51.60" y1="411.13" x2="55.20" y2="411.13" stroke="#000" stroke-width="1.3"/>
<text transform="translate(29.99,414.55) scale(1.0019,1)" font-size="10.683" fill="#111">400</text>
<line x1="51.60" y1="391.72" x2="55.20" y2="391.72" stroke="#000" stroke-width="1.3"/>
<text transform="translate(29.99,395.13) scale(1.0019,1)" font-size="10.683" fill="#111">500</text>
<line x1="51.60" y1="372.30" x2="55.20" y2="372.30" stroke="#000" stroke-width="1.3"/>
<text transform="translate(29.99,375.72) scale(1.0019,1)" font-size="10.683" fill="#111">600</text>
<line x1="55.20" y1="488.80" x2="55.20" y2="492.20" stroke="#000" stroke-width="1.3"/>
<text transform="translate(52.42,507.56) scale(0.8597,1)" font-size="10.683" fill="#111">0</text>
<line x1="66.85" y1="488.80" x2="66.85" y2="492.20" stroke="#000" stroke-width="1.3"/>
<text transform="translate(64.07,507.56) scale(0.8597,1)" font-size="10.683" fill="#111">1</text>
<line x1="78.50" y1="488.80" x2="78.50" y2="492.20" stroke="#000" stroke-width="1.3"/>
<text transform="translate(75.72,507.56) scale(0.8597,1)" font-size="10.683" fill="#111">2</text>
<line x1="90.15" y1="488.80" x2="90.15" y2="492.20" stroke="#000" stroke-width="1.3"/>
<text transform="translate(87.37,507.56) scale(0.8597,1)" font-size="10.683" fill="#111">3</text>
<line x1="101.80" y1="488.80" x2="101.80" y2="492.20" stroke="#000" stroke-width="1.3"/>
<text transform="translate(99.02,507.56) scale(0.8597,1)" font-size="10.683" fill="#111">4</text>
<line x1="97.84" y1="403.37" x2="97.84" y2="418.90" stroke="#555" stroke-width="0.8"/>
<line x1="96.24" y1="403.37" x2="99.44" y2="403.37" stroke="#555" stroke-width="0.8"/>
<line x1="96.24" y1="418.90" x2="99.44" y2="418.90" stroke="#555" stroke-width="0.8"/>
<circle cx="97.84" cy="411.13" r="2.40" fill="#fff" stroke="#888" stroke-width="0.9"/>
<path d="M59.39,450.74 L69.41,411.91 L97.84,393.08" fill="none" stroke="#000" stroke-width="1.1"/>
<rect x="57.19" y="448.76" width="4.40" height="3.96" fill="#000"/>
<rect x="67.21" y="409.93" width="4.40" height="3.96" fill="#000"/>
<rect x="95.64" y="391.10" width="4.40" height="3.96" fill="#000"/>
<path d="M59.39,476.18 L69.41,458.70 L97.84,446.28" fill="none" stroke="#000" stroke-width="1.1"/>
<path d="M59.39,473.38 Q61.49,474.08 62.19,476.18 Q61.49,478.28 59.39,478.98 Q57.29,478.28 56.59,476.18 Q57.29,474.08 59.39,473.38 Z" fill="#fff" stroke="#aaa" stroke-width="0.7"/>
<path d="M69.41,455.90 Q71.51,456.60 72.21,458.70 Q71.51,460.80 69.41,461.50 Q67.31,460.80 66.61,458.70 Q67.31,456.60 69.41,455.90 Z" fill="#fff" stroke="#aaa" stroke-width="0.7"/>
<path d="M97.84,443.48 Q99.94,444.18 100.64,446.28 Q99.94,448.38 97.84,449.08 Q95.74,448.38 95.04,446.28 Q95.74,444.18 97.84,443.48 Z" fill="#fff" stroke="#aaa" stroke-width="0.7"/>
<text transform="translate(57.44,381.69) scale(1.0516,1)" font-size="9.421" font-weight="bold" fill="#111">CD8</text>
<text transform="translate(57.82,394.12) scale(0.9856,1)" font-size="9.421" font-weight="bold" fill="#111">no. 47</text>
<text transform="translate(26.08,453.88) rotate(-90) scale(1.0900,1)" font-size="9.380" font-weight="bold" fill="#111">IFN-<tspan font-weight="normal">γ</tspan> spots</text>
<rect x="130.20" y="372.30" width="46.30" height="116.50" fill="none" stroke="#000" stroke-width="1.6"/>
<line x1="126.60" y1="488.80" x2="130.20" y2="488.80" stroke="#000" stroke-width="1.3"/>
<text transform="translate(104.79,492.31) scale(0.9645,1)" font-size="10.683" fill="#111">100</text>
<line x1="126.60" y1="465.50" x2="130.20" y2="465.50" stroke="#000" stroke-width="1.3"/>
<text transform="translate(104.79,469.01) scale(0.9645,1)" font-size="10.683" fill="#111">200</text>
<line x1="126.60" y1="442.20" x2="130.20" y2="442.20" stroke="#000" stroke-width="1.3"/>
<text transform="translate(104.79,445.71) scale(0.9645,1)" font-size="10.683" fill="#111">300</text>
<line x1="126.60" y1="418.90" x2="130.20" y2="418.90" stroke="#000" stroke-width="1.3"/>
<text transform="translate(104.79,422.41) scale(0.9645,1)" font-size="10.683" fill="#111">400</text>
<line x1="126.60" y1="395.60" x2="130.20" y2="395.60" stroke="#000" stroke-width="1.3"/>
<text transform="translate(104.79,399.11) scale(0.9645,1)" font-size="10.683" fill="#111">500</text>
<line x1="126.60" y1="372.30" x2="130.20" y2="372.30" stroke="#000" stroke-width="1.3"/>
<text transform="translate(104.79,375.81) scale(0.9645,1)" font-size="10.683" fill="#111">600</text>
<line x1="130.20" y1="488.80" x2="130.20" y2="492.20" stroke="#000" stroke-width="1.3"/>
<text transform="translate(127.42,507.56) scale(0.8597,1)" font-size="10.683" fill="#111">0</text>
<line x1="141.77" y1="488.80" x2="141.77" y2="492.20" stroke="#000" stroke-width="1.3"/>
<text transform="translate(138.99,507.56) scale(0.8597,1)" font-size="10.683" fill="#111">1</text>
<line x1="153.35" y1="488.80" x2="153.35" y2="492.20" stroke="#000" stroke-width="1.3"/>
<text transform="translate(150.57,507.56) scale(0.8597,1)" font-size="10.683" fill="#111">2</text>
<line x1="164.93" y1="488.80" x2="164.93" y2="492.20" stroke="#000" stroke-width="1.3"/>
<text transform="translate(162.15,507.56) scale(0.8597,1)" font-size="10.683" fill="#111">3</text>
<line x1="176.50" y1="488.80" x2="176.50" y2="492.20" stroke="#000" stroke-width="1.3"/>
<text transform="translate(173.72,507.56) scale(0.8597,1)" font-size="10.683" fill="#111">4</text>
<line x1="134.37" y1="436.38" x2="134.37" y2="443.37" stroke="#555" stroke-width="0.8"/>
<line x1="132.77" y1="436.38" x2="135.97" y2="436.38" stroke="#555" stroke-width="0.8"/>
<line x1="132.77" y1="443.37" x2="135.97" y2="443.37" stroke="#555" stroke-width="0.8"/>
<line x1="144.32" y1="421.23" x2="144.32" y2="435.21" stroke="#555" stroke-width="0.8"/>
<line x1="142.72" y1="421.23" x2="145.92" y2="421.23" stroke="#555" stroke-width="0.8"/>
<line x1="142.72" y1="435.21" x2="145.92" y2="435.21" stroke="#555" stroke-width="0.8"/>
<line x1="134.37" y1="463.40" x2="134.37" y2="475.05" stroke="#555" stroke-width="0.8"/>
<line x1="132.77" y1="463.40" x2="135.97" y2="463.40" stroke="#555" stroke-width="0.8"/>
<line x1="132.77" y1="475.05" x2="135.97" y2="475.05" stroke="#555" stroke-width="0.8"/>
<line x1="172.56" y1="417.74" x2="172.56" y2="424.73" stroke="#555" stroke-width="0.8"/>
<line x1="170.96" y1="417.74" x2="174.16" y2="417.74" stroke="#555" stroke-width="0.8"/>
<line x1="170.96" y1="424.73" x2="174.16" y2="424.73" stroke="#555" stroke-width="0.8"/>
<path d="M134.37,439.87 L144.32,428.22 L172.56,394.44" fill="none" stroke="#000" stroke-width="1.1"/>
<rect x="132.17" y="437.89" width="4.40" height="3.96" fill="#000"/>
<rect x="142.12" y="426.24" width="4.40" height="3.96" fill="#000"/>
<rect x="170.36" y="392.45" width="4.40" height="3.96" fill="#000"/>
<path d="M134.37,469.23 L144.32,452.69 L172.56,421.23" fill="none" stroke="#000" stroke-width="1.1"/>
<path d="M134.37,466.43 Q136.47,467.13 137.17,469.23 Q136.47,471.33 134.37,472.03 Q132.27,471.33 131.57,469.23 Q132.27,467.13 134.37,466.43 Z" fill="#fff" stroke="#aaa" stroke-width="0.7"/>
<path d="M144.32,449.88 Q146.42,450.58 147.12,452.69 Q146.42,454.79 144.32,455.49 Q142.22,454.79 141.52,452.69 Q142.22,450.58 144.32,449.88 Z" fill="#fff" stroke="#aaa" stroke-width="0.7"/>
<path d="M172.56,418.43 Q174.66,419.13 175.36,421.23 Q174.66,423.33 172.56,424.03 Q170.46,423.33 169.76,421.23 Q170.46,419.13 172.56,418.43 Z" fill="#fff" stroke="#aaa" stroke-width="0.7"/>
<circle cx="172.56" cy="468.06" r="2.40" fill="#fff" stroke="#888" stroke-width="0.9"/>
<text transform="translate(132.67,381.99) scale(1.0436,1)" font-size="9.421" font-weight="bold" fill="#111">CD8</text>
<text transform="translate(133.00,393.64) scale(0.9722,1)" font-size="9.421" font-weight="bold" fill="#111">no. 41</text>
<rect x="208.20" y="372.30" width="46.70" height="116.90" fill="none" stroke="#000" stroke-width="1.6"/>
<line x1="204.60" y1="489.20" x2="208.20" y2="489.20" stroke="#000" stroke-width="1.3"/>
<text transform="translate(194.48,492.77) scale(0.9624,1)" font-size="10.683" fill="#111">0</text>
<line x1="204.60" y1="469.72" x2="208.20" y2="469.72" stroke="#000" stroke-width="1.3"/>
<text transform="translate(188.92,473.29) scale(0.9624,1)" font-size="10.683" fill="#111">50</text>
<line x1="204.60" y1="450.23" x2="208.20" y2="450.23" stroke="#000" stroke-width="1.3"/>
<text transform="translate(183.36,453.81) scale(0.9624,1)" font-size="10.683" fill="#111">100</text>
<line x1="204.60" y1="430.75" x2="208.20" y2="430.75" stroke="#000" stroke-width="1.3"/>
<text transform="translate(183.36,434.32) scale(0.9624,1)" font-size="10.683" fill="#111">150</text>
<line x1="204.60" y1="411.27" x2="208.20" y2="411.27" stroke="#000" stroke-width="1.3"/>
<text transform="translate(183.36,414.84) scale(0.9624,1)" font-size="10.683" fill="#111">200</text>
<line x1="204.60" y1="391.78" x2="208.20" y2="391.78" stroke="#000" stroke-width="1.3"/>
<text transform="translate(183.36,395.36) scale(0.9624,1)" font-size="10.683" fill="#111">250</text>
<line x1="204.60" y1="372.30" x2="208.20" y2="372.30" stroke="#000" stroke-width="1.3"/>
<text transform="translate(183.36,375.87) scale(0.9624,1)" font-size="10.683" fill="#111">300</text>
<line x1="208.20" y1="489.20" x2="208.20" y2="492.60" stroke="#000" stroke-width="1.3"/>
<text transform="translate(205.42,507.56) scale(0.8597,1)" font-size="10.683" fill="#111">0</text>
<line x1="219.88" y1="489.20" x2="219.88" y2="492.60" stroke="#000" stroke-width="1.3"/>
<text transform="translate(217.09,507.56) scale(0.8597,1)" font-size="10.683" fill="#111">1</text>
<line x1="231.55" y1="489.20" x2="231.55" y2="492.60" stroke="#000" stroke-width="1.3"/>
<text transform="translate(228.77,507.56) scale(0.8597,1)" font-size="10.683" fill="#111">2</text>
<line x1="243.22" y1="489.20" x2="243.22" y2="492.60" stroke="#000" stroke-width="1.3"/>
<text transform="translate(240.44,507.56) scale(0.8597,1)" font-size="10.683" fill="#111">3</text>
<line x1="254.90" y1="489.20" x2="254.90" y2="492.60" stroke="#000" stroke-width="1.3"/>
<text transform="translate(252.12,507.56) scale(0.8597,1)" font-size="10.683" fill="#111">4</text>
<line x1="222.44" y1="419.06" x2="222.44" y2="426.85" stroke="#555" stroke-width="0.8"/>
<line x1="220.84" y1="419.06" x2="224.04" y2="419.06" stroke="#555" stroke-width="0.8"/>
<line x1="220.84" y1="426.85" x2="224.04" y2="426.85" stroke="#555" stroke-width="0.8"/>
<line x1="250.93" y1="384.77" x2="250.93" y2="398.80" stroke="#555" stroke-width="0.8"/>
<line x1="249.33" y1="384.77" x2="252.53" y2="384.77" stroke="#555" stroke-width="0.8"/>
<line x1="249.33" y1="398.80" x2="252.53" y2="398.80" stroke="#555" stroke-width="0.8"/>
<line x1="250.93" y1="402.30" x2="250.93" y2="416.33" stroke="#555" stroke-width="0.8"/>
<line x1="249.33" y1="402.30" x2="252.53" y2="402.30" stroke="#555" stroke-width="0.8"/>
<line x1="249.33" y1="416.33" x2="252.53" y2="416.33" stroke="#555" stroke-width="0.8"/>
<line x1="212.40" y1="473.22" x2="212.40" y2="480.24" stroke="#555" stroke-width="0.8"/>
<line x1="210.80" y1="473.22" x2="214.00" y2="473.22" stroke="#555" stroke-width="0.8"/>
<line x1="210.80" y1="480.24" x2="214.00" y2="480.24" stroke="#555" stroke-width="0.8"/>
<line x1="250.93" y1="439.71" x2="250.93" y2="447.51" stroke="#555" stroke-width="0.8"/>
<line x1="249.33" y1="439.71" x2="252.53" y2="439.71" stroke="#555" stroke-width="0.8"/>
<line x1="249.33" y1="447.51" x2="252.53" y2="447.51" stroke="#555" stroke-width="0.8"/>
<circle cx="250.93" cy="409.32" r="2.40" fill="#fff" stroke="#888" stroke-width="0.9"/>
<path d="M212.40,464.26 L222.44,422.96 L250.93,391.78" fill="none" stroke="#000" stroke-width="1.1"/>
<rect x="210.20" y="462.28" width="4.40" height="3.96" fill="#000"/>
<rect x="220.24" y="420.98" width="4.40" height="3.96" fill="#000"/>
<rect x="248.73" y="389.80" width="4.40" height="3.96" fill="#000"/>
<path d="M212.40,476.73 L222.44,461.92 L250.93,443.61" fill="none" stroke="#000" stroke-width="1.1"/>
<path d="M212.40,473.93 Q214.50,474.63 215.20,476.73 Q214.50,478.83 212.40,479.53 Q210.30,478.83 209.60,476.73 Q210.30,474.63 212.40,473.93 Z" fill="#fff" stroke="#aaa" stroke-width="0.7"/>
<path d="M222.44,459.12 Q224.54,459.82 225.24,461.92 Q224.54,464.02 222.44,464.72 Q220.34,464.02 219.64,461.92 Q220.34,459.82 222.44,459.12 Z" fill="#fff" stroke="#aaa" stroke-width="0.7"/>
<path d="M250.93,440.81 Q253.03,441.51 253.73,443.61 Q253.03,445.71 250.93,446.41 Q248.83,445.71 248.13,443.61 Q248.83,441.51 250.93,440.81 Z" fill="#fff" stroke="#aaa" stroke-width="0.7"/>
<text transform="translate(212.49,381.99) scale(1.0384,1)" font-size="9.421" font-weight="bold" fill="#111">CD4</text>
<text transform="translate(213.42,393.63) scale(0.9851,1)" font-size="9.421" font-weight="bold" fill="#111">no. 42</text>
<text transform="translate(187.59,516.88) scale(1.0513,1)" font-size="9.568" font-weight="bold" fill="#111">RNA [pmol]</text>
<rect x="291.60" y="372.30" width="46.50" height="116.40" fill="none" stroke="#000" stroke-width="1.6"/>
<line x1="288.00" y1="488.70" x2="291.60" y2="488.70" stroke="#000" stroke-width="1.3"/>
<text transform="translate(278.09,492.22) scale(0.9185,1)" font-size="10.683" fill="#111">0</text>
<line x1="288.00" y1="472.07" x2="291.60" y2="472.07" stroke="#000" stroke-width="1.3"/>
<text transform="translate(266.97,475.59) scale(0.9185,1)" font-size="10.683" fill="#111">200</text>
<line x1="288.00" y1="455.44" x2="291.60" y2="455.44" stroke="#000" stroke-width="1.3"/>
<text transform="translate(266.97,458.96) scale(0.9185,1)" font-size="10.683" fill="#111">400</text>
<line x1="288.00" y1="438.81" x2="291.60" y2="438.81" stroke="#000" stroke-width="1.3"/>
<text transform="translate(266.97,442.33) scale(0.9185,1)" font-size="10.683" fill="#111">600</text>
<line x1="288.00" y1="422.19" x2="291.60" y2="422.19" stroke="#000" stroke-width="1.3"/>
<text transform="translate(266.97,425.70) scale(0.9185,1)" font-size="10.683" fill="#111">800</text>
<line x1="288.00" y1="405.56" x2="291.60" y2="405.56" stroke="#000" stroke-width="1.3"/>
<text transform="translate(261.41,409.07) scale(0.9185,1)" font-size="10.683" fill="#111">1000</text>
<line x1="288.00" y1="388.93" x2="291.60" y2="388.93" stroke="#000" stroke-width="1.3"/>
<text transform="translate(261.41,392.44) scale(0.9185,1)" font-size="10.683" fill="#111">1200</text>
<line x1="288.00" y1="372.30" x2="291.60" y2="372.30" stroke="#000" stroke-width="1.3"/>
<text transform="translate(261.41,375.82) scale(0.9185,1)" font-size="10.683" fill="#111">1400</text>
<line x1="291.60" y1="488.70" x2="291.60" y2="492.10" stroke="#000" stroke-width="1.3"/>
<text transform="translate(288.82,507.56) scale(0.8597,1)" font-size="10.683" fill="#111">0</text>
<line x1="303.23" y1="488.70" x2="303.23" y2="492.10" stroke="#000" stroke-width="1.3"/>
<text transform="translate(300.45,507.56) scale(0.8597,1)" font-size="10.683" fill="#111">1</text>
<line x1="314.85" y1="488.70" x2="314.85" y2="492.10" stroke="#000" stroke-width="1.3"/>
<text transform="translate(312.07,507.56) scale(0.8597,1)" font-size="10.683" fill="#111">2</text>
<line x1="326.48" y1="488.70" x2="326.48" y2="492.10" stroke="#000" stroke-width="1.3"/>
<text transform="translate(323.70,507.56) scale(0.8597,1)" font-size="10.683" fill="#111">3</text>
<line x1="338.10" y1="488.70" x2="338.10" y2="492.10" stroke="#000" stroke-width="1.3"/>
<text transform="translate(335.32,507.56) scale(0.8597,1)" font-size="10.683" fill="#111">4</text>
<line x1="334.15" y1="376.46" x2="334.15" y2="396.41" stroke="#555" stroke-width="0.8"/>
<line x1="332.55" y1="376.46" x2="335.75" y2="376.46" stroke="#555" stroke-width="0.8"/>
<line x1="332.55" y1="396.41" x2="335.75" y2="396.41" stroke="#555" stroke-width="0.8"/>
<line x1="334.15" y1="392.25" x2="334.15" y2="410.55" stroke="#555" stroke-width="0.8"/>
<line x1="332.55" y1="392.25" x2="335.75" y2="392.25" stroke="#555" stroke-width="0.8"/>
<line x1="332.55" y1="410.55" x2="335.75" y2="410.55" stroke="#555" stroke-width="0.8"/>
<line x1="334.15" y1="417.20" x2="334.15" y2="435.49" stroke="#555" stroke-width="0.8"/>
<line x1="332.55" y1="417.20" x2="335.75" y2="417.20" stroke="#555" stroke-width="0.8"/>
<line x1="332.55" y1="435.49" x2="335.75" y2="435.49" stroke="#555" stroke-width="0.8"/>
<line x1="295.79" y1="478.14" x2="295.79" y2="481.47" stroke="#555" stroke-width="0.8"/>
<line x1="294.19" y1="478.14" x2="297.39" y2="478.14" stroke="#555" stroke-width="0.8"/>
<line x1="294.19" y1="481.47" x2="297.39" y2="481.47" stroke="#555" stroke-width="0.8"/>
<line x1="305.78" y1="465.92" x2="305.78" y2="474.23" stroke="#555" stroke-width="0.8"/>
<line x1="304.18" y1="465.92" x2="307.38" y2="465.92" stroke="#555" stroke-width="0.8"/>
<line x1="304.18" y1="474.23" x2="307.38" y2="474.23" stroke="#555" stroke-width="0.8"/>
<circle cx="334.15" cy="401.40" r="2.40" fill="#fff" stroke="#888" stroke-width="0.9"/>
<path d="M295.79,452.87 L305.78,427.17 L334.15,386.43" fill="none" stroke="#000" stroke-width="1.1"/>
<rect x="293.59" y="450.89" width="4.40" height="3.96" fill="#000"/>
<rect x="303.58" y="425.19" width="4.40" height="3.96" fill="#000"/>
<rect x="331.95" y="384.45" width="4.40" height="3.96" fill="#000"/>
<path d="M295.79,479.80 L305.78,470.08 L334.15,426.34" fill="none" stroke="#000" stroke-width="1.1"/>
<path d="M295.79,477.00 Q297.89,477.70 298.59,479.80 Q297.89,481.90 295.79,482.60 Q293.69,481.90 292.99,479.80 Q293.69,477.70 295.79,477.00 Z" fill="#fff" stroke="#aaa" stroke-width="0.7"/>
<path d="M305.78,467.28 Q307.88,467.98 308.58,470.08 Q307.88,472.18 305.78,472.88 Q303.68,472.18 302.98,470.08 Q303.68,467.98 305.78,467.28 Z" fill="#fff" stroke="#aaa" stroke-width="0.7"/>
<path d="M334.15,423.54 Q336.25,424.24 336.95,426.34 Q336.25,428.44 334.15,429.14 Q332.05,428.44 331.35,426.34 Q332.05,424.24 334.15,423.54 Z" fill="#fff" stroke="#aaa" stroke-width="0.7"/>
<text transform="translate(294.16,381.99) scale(1.0294,1)" font-size="9.421" font-weight="bold" fill="#111">CD4</text>
<text transform="translate(295.69,393.52) scale(0.9569,1)" font-size="9.421" font-weight="bold" fill="#111">no. 43</text>
<line x1="64.00" y1="531.30" x2="86.40" y2="531.30" stroke="#111" stroke-width="1.4"/>
<rect x="73.15" y="529.10" width="4.70" height="4.40" fill="#000"/>
<line x1="64.00" y1="544.10" x2="86.40" y2="544.10" stroke="#222" stroke-width="1.4"/>
<path d="M75.35,541.20 L78.20,543.90 L75.35,546.60 L72.50,543.90 Z" fill="#fff" stroke="#888" stroke-width="0.7"/>
<line x1="64.00" y1="556.40" x2="86.40" y2="556.40" stroke="#222" stroke-width="1.1"/>
<circle cx="75.10" cy="556.40" r="2.70" fill="#fff" stroke="#222" stroke-width="1.0"/>
<text transform="translate(91.91,534.57) scale(1.0812,1)" font-size="9.200" fill="#111">Sec-pp65-2βgUTR-A(120)</text>
<text transform="translate(91.89,546.52) scale(1.0902,1)" font-size="9.200" fill="#111">Sec-pp65-A(67)ACUAG</text>
<text transform="translate(92.11,558.88) scale(1.0923,1)" font-size="9.200" fill="#111">pp65 peptide pool</text>
<text transform="translate(340.72,368.98) scale(1.0072,1)" font-size="10.269" fill="#111">A(120)</text>
<text transform="translate(340.67,435.07) scale(0.9975,1)" font-size="10.269" fill="#111">A(67)ACUAG</text>
<rect x="342.2" y="372.0" width="75.6" height="51.0" fill="#ebebeb"/>
<circle cx="355.80" cy="384.20" r="9.60" fill="#fbfbfb" stroke="#9a9a9a" stroke-width="0.7"/>
<path d="M353.76,394.05 A10.00,10.00 0 0 1 354.11,374.30" fill="none" stroke="#777" stroke-width="0.9"/>
<circle cx="356.30" cy="384.20" r="8.20" fill="#d6d6d6" stroke="#999" stroke-opacity="0.6" stroke-width="0.6"/>
<g fill="#ffffff" fill-opacity="0.5"><circle cx="356.80" cy="382.80" r="1.79"/><circle cx="356.85" cy="382.76" r="1.73"/><circle cx="349.34" cy="383.53" r="1.23"/><circle cx="355.04" cy="389.71" r="1.34"/><circle cx="359.50" cy="385.33" r="1.54"/><circle cx="352.87" cy="387.29" r="0.87"/><circle cx="350.50" cy="387.96" r="1.41"/></g>
<g fill="#777" fill-opacity="0.6"><circle cx="355.74" cy="388.35" r="0.66"/><circle cx="361.11" cy="379.66" r="0.64"/><circle cx="361.15" cy="386.27" r="0.52"/><circle cx="354.03" cy="379.45" r="0.71"/><circle cx="358.76" cy="381.58" r="0.44"/><circle cx="356.43" cy="385.08" r="0.53"/><circle cx="361.96" cy="379.83" r="0.71"/><circle cx="357.81" cy="382.64" r="0.52"/><circle cx="363.06" cy="384.99" r="0.67"/><circle cx="355.12" cy="379.87" r="0.63"/><circle cx="363.52" cy="384.25" r="0.77"/><circle cx="351.62" cy="384.10" r="0.80"/><circle cx="349.70" cy="386.97" r="0.68"/><circle cx="357.90" cy="389.48" r="0.71"/><circle cx="354.65" cy="387.43" r="0.42"/><circle cx="358.50" cy="378.22" r="0.67"/><circle cx="353.84" cy="389.75" r="0.73"/><circle cx="359.93" cy="389.13" r="0.53"/><circle cx="354.70" cy="379.42" r="0.60"/><circle cx="352.99" cy="385.31" r="0.57"/><circle cx="358.09" cy="378.55" r="0.78"/><circle cx="356.52" cy="386.61" r="0.49"/></g>
<circle cx="379.70" cy="384.20" r="9.60" fill="#fbfbfb" stroke="#9a9a9a" stroke-width="0.7"/>
<path d="M377.66,394.05 A10.00,10.00 0 0 1 378.01,374.30" fill="none" stroke="#777" stroke-width="0.9"/>
<circle cx="380.20" cy="384.20" r="8.20" fill="#b2b2b2" stroke="#999" stroke-opacity="0.6" stroke-width="0.6"/>
<g fill="#ffffff" fill-opacity="0.5"><circle cx="374.52" cy="388.22" r="1.71"/><circle cx="383.23" cy="384.22" r="0.95"/><circle cx="374.63" cy="387.25" r="1.38"/><circle cx="378.32" cy="382.16" r="1.08"/><circle cx="384.29" cy="382.43" r="1.34"/><circle cx="381.88" cy="383.32" r="1.41"/><circle cx="377.17" cy="389.93" r="0.92"/></g>
<g fill="#666" fill-opacity="0.6"><circle cx="383.08" cy="380.91" r="0.63"/><circle cx="379.40" cy="388.61" r="0.46"/><circle cx="375.68" cy="385.76" r="0.60"/><circle cx="385.91" cy="386.35" r="0.65"/><circle cx="386.76" cy="384.31" r="0.44"/><circle cx="382.62" cy="390.96" r="0.80"/><circle cx="377.73" cy="388.00" r="0.69"/><circle cx="385.80" cy="381.48" r="0.78"/><circle cx="383.53" cy="381.44" r="0.48"/><circle cx="373.53" cy="385.02" r="0.55"/><circle cx="376.79" cy="385.20" r="0.47"/><circle cx="376.76" cy="378.21" r="0.37"/><circle cx="383.52" cy="380.12" r="0.36"/><circle cx="376.91" cy="389.58" r="0.46"/><circle cx="381.67" cy="378.99" r="0.74"/><circle cx="376.85" cy="386.67" r="0.42"/><circle cx="375.88" cy="381.30" r="0.66"/><circle cx="380.07" cy="382.54" r="0.46"/><circle cx="378.67" cy="384.19" r="0.38"/><circle cx="378.24" cy="379.18" r="0.44"/><circle cx="378.54" cy="379.37" r="0.66"/><circle cx="386.95" cy="384.44" r="0.58"/><circle cx="381.22" cy="384.46" r="0.60"/><circle cx="383.47" cy="388.65" r="0.55"/><circle cx="381.37" cy="389.25" r="0.47"/><circle cx="381.86" cy="389.68" r="0.57"/><circle cx="386.22" cy="386.11" r="0.77"/><circle cx="381.30" cy="389.45" r="0.44"/><circle cx="375.73" cy="380.91" r="0.68"/><circle cx="384.12" cy="380.79" r="0.46"/></g>
<circle cx="405.00" cy="384.20" r="9.60" fill="#fbfbfb" stroke="#9a9a9a" stroke-width="0.7"/>
<path d="M402.96,394.05 A10.00,10.00 0 0 1 403.31,374.30" fill="none" stroke="#777" stroke-width="0.9"/>
<circle cx="405.50" cy="384.20" r="8.20" fill="#9e9e9e" stroke="#999" stroke-opacity="0.6" stroke-width="0.6"/>
<g fill="#ffffff" fill-opacity="0.5"><circle cx="407.86" cy="390.55" r="0.80"/><circle cx="403.61" cy="387.98" r="0.87"/><circle cx="407.95" cy="385.82" r="1.04"/></g>
<g fill="#777" fill-opacity="0.6"><circle cx="401.49" cy="386.48" r="0.78"/><circle cx="399.71" cy="379.91" r="0.40"/><circle cx="410.00" cy="383.66" r="0.53"/><circle cx="410.86" cy="379.79" r="0.71"/><circle cx="405.73" cy="388.98" r="0.36"/><circle cx="402.04" cy="381.28" r="0.38"/><circle cx="409.42" cy="382.09" r="0.77"/><circle cx="406.96" cy="385.28" r="0.66"/><circle cx="407.87" cy="381.11" r="0.47"/><circle cx="402.68" cy="386.35" r="0.57"/><circle cx="405.87" cy="382.39" r="0.46"/><circle cx="403.10" cy="389.09" r="0.75"/><circle cx="402.04" cy="380.70" r="0.78"/><circle cx="404.33" cy="384.15" r="0.38"/><circle cx="407.82" cy="385.98" r="0.59"/><circle cx="405.94" cy="377.12" r="0.43"/><circle cx="406.70" cy="381.77" r="0.53"/><circle cx="401.00" cy="384.68" r="0.68"/></g>
<circle cx="355.80" cy="410.20" r="9.60" fill="#fbfbfb" stroke="#9a9a9a" stroke-width="0.7"/>
<path d="M353.76,420.05 A10.00,10.00 0 0 1 354.11,400.30" fill="none" stroke="#777" stroke-width="0.9"/>
<circle cx="356.30" cy="410.20" r="8.20" fill="#d4d4d4" stroke="#999" stroke-opacity="0.6" stroke-width="0.6"/>
<g fill="#ffffff" fill-opacity="0.5"><circle cx="355.37" cy="406.25" r="1.47"/><circle cx="358.02" cy="414.52" r="1.42"/><circle cx="355.40" cy="411.78" r="1.68"/><circle cx="352.52" cy="412.12" r="1.09"/><circle cx="351.15" cy="414.66" r="1.15"/><circle cx="354.25" cy="405.68" r="1.78"/><circle cx="357.55" cy="405.13" r="1.35"/></g>
<g fill="#777" fill-opacity="0.6"><circle cx="358.20" cy="409.71" r="0.68"/><circle cx="358.19" cy="412.45" r="0.80"/><circle cx="356.95" cy="407.11" r="0.62"/><circle cx="349.62" cy="411.34" r="0.39"/><circle cx="352.69" cy="410.80" r="0.71"/><circle cx="361.23" cy="405.63" r="0.65"/><circle cx="356.70" cy="410.63" r="0.57"/><circle cx="354.53" cy="410.04" r="0.64"/><circle cx="356.30" cy="412.03" r="0.47"/><circle cx="352.37" cy="416.16" r="0.49"/><circle cx="359.05" cy="404.10" r="0.58"/><circle cx="355.56" cy="410.75" r="0.38"/><circle cx="357.83" cy="403.22" r="0.61"/><circle cx="359.81" cy="410.50" r="0.43"/><circle cx="360.11" cy="410.18" r="0.46"/><circle cx="361.73" cy="408.63" r="0.75"/><circle cx="354.85" cy="407.18" r="0.61"/><circle cx="358.70" cy="417.10" r="0.46"/><circle cx="353.83" cy="406.47" r="0.66"/><circle cx="358.35" cy="415.40" r="0.80"/><circle cx="352.38" cy="414.20" r="0.75"/><circle cx="360.13" cy="411.06" r="0.71"/></g>
<circle cx="379.70" cy="410.20" r="9.60" fill="#fbfbfb" stroke="#9a9a9a" stroke-width="0.7"/>
<path d="M377.66,420.05 A10.00,10.00 0 0 1 378.01,400.30" fill="none" stroke="#777" stroke-width="0.9"/>
<circle cx="380.20" cy="410.20" r="8.20" fill="#afafaf" stroke="#999" stroke-opacity="0.6" stroke-width="0.6"/>
<g fill="#ffffff" fill-opacity="0.5"><circle cx="377.22" cy="415.42" r="1.14"/><circle cx="378.51" cy="409.23" r="1.42"/><circle cx="377.42" cy="408.56" r="0.84"/><circle cx="386.11" cy="413.87" r="1.12"/><circle cx="378.85" cy="406.61" r="1.08"/><circle cx="376.69" cy="409.73" r="0.97"/><circle cx="378.34" cy="409.94" r="1.67"/></g>
<g fill="#666" fill-opacity="0.6"><circle cx="383.33" cy="409.44" r="0.65"/><circle cx="382.45" cy="408.88" r="0.44"/><circle cx="376.10" cy="411.80" r="0.78"/><circle cx="384.06" cy="411.91" r="0.60"/><circle cx="377.30" cy="414.25" r="0.61"/><circle cx="377.17" cy="409.73" r="0.75"/><circle cx="375.66" cy="414.45" r="0.48"/><circle cx="379.41" cy="403.54" r="0.35"/><circle cx="380.17" cy="409.61" r="0.45"/><circle cx="385.82" cy="405.93" r="0.56"/><circle cx="378.01" cy="410.63" r="0.42"/><circle cx="380.50" cy="414.28" r="0.48"/><circle cx="384.58" cy="407.47" r="0.68"/><circle cx="383.80" cy="407.00" r="0.52"/><circle cx="382.60" cy="412.66" r="0.50"/><circle cx="381.72" cy="416.33" r="0.46"/><circle cx="376.57" cy="404.47" r="0.59"/><circle cx="381.72" cy="407.01" r="0.80"/><circle cx="383.11" cy="409.46" r="0.43"/><circle cx="385.48" cy="410.91" r="0.73"/><circle cx="381.26" cy="412.85" r="0.70"/><circle cx="373.85" cy="413.54" r="0.62"/><circle cx="373.72" cy="408.06" r="0.59"/><circle cx="381.40" cy="403.55" r="0.58"/><circle cx="375.75" cy="408.54" r="0.40"/><circle cx="373.68" cy="409.43" r="0.61"/><circle cx="380.51" cy="414.82" r="0.80"/><circle cx="377.26" cy="406.15" r="0.68"/><circle cx="378.10" cy="409.01" r="0.56"/><circle cx="381.55" cy="409.72" r="0.55"/></g>
<circle cx="405.00" cy="410.20" r="9.60" fill="#fbfbfb" stroke="#9a9a9a" stroke-width="0.7"/>
<path d="M402.96,420.05 A10.00,10.00 0 0 1 403.31,400.30" fill="none" stroke="#777" stroke-width="0.9"/>
<circle cx="405.50" cy="410.20" r="8.20" fill="#a0a0a0" stroke="#999" stroke-opacity="0.6" stroke-width="0.6"/>
<g fill="#ffffff" fill-opacity="0.5"><circle cx="410.18" cy="405.20" r="1.39"/><circle cx="411.15" cy="410.42" r="0.85"/><circle cx="407.47" cy="416.26" r="1.39"/></g>
<g fill="#777" fill-opacity="0.6"><circle cx="400.97" cy="405.39" r="0.56"/><circle cx="409.74" cy="412.83" r="0.43"/><circle cx="398.37" cy="411.07" r="0.73"/><circle cx="409.88" cy="408.55" r="0.51"/><circle cx="411.71" cy="412.76" r="0.48"/><circle cx="407.45" cy="410.78" r="0.77"/><circle cx="408.94" cy="412.80" r="0.49"/><circle cx="404.33" cy="407.63" r="0.44"/><circle cx="409.18" cy="407.27" r="0.52"/><circle cx="408.12" cy="414.12" r="0.58"/><circle cx="407.53" cy="407.19" r="0.63"/><circle cx="406.34" cy="414.92" r="0.53"/><circle cx="399.57" cy="408.75" r="0.66"/><circle cx="405.99" cy="404.60" r="0.36"/><circle cx="408.20" cy="412.66" r="0.77"/><circle cx="399.32" cy="411.08" r="0.56"/><circle cx="409.67" cy="405.57" r="0.55"/><circle cx="402.56" cy="414.00" r="0.55"/></g>
<rect x="342.2" y="372.0" width="75.6" height="51.0" fill="none" stroke="#000" stroke-width="1.6"/>
<rect x="342.2" y="437.6" width="75.6" height="50.5" fill="#ebebeb"/>
<circle cx="354.80" cy="450.50" r="9.60" fill="#fbfbfb" stroke="#9a9a9a" stroke-width="0.7"/>
<path d="M352.76,460.35 A10.00,10.00 0 0 1 353.11,440.60" fill="none" stroke="#333" stroke-width="1.2"/>
<circle cx="355.30" cy="450.50" r="8.20" fill="#f1f1f1" stroke="#999" stroke-opacity="0.6" stroke-width="0.6"/>
<g fill="#777" fill-opacity="0.6"><circle cx="354.49" cy="455.45" r="0.60"/><circle cx="357.22" cy="446.05" r="0.71"/><circle cx="355.06" cy="450.57" r="0.66"/><circle cx="355.95" cy="450.94" r="0.38"/><circle cx="352.25" cy="454.69" r="0.79"/><circle cx="350.33" cy="450.97" r="0.60"/><circle cx="352.58" cy="453.81" r="0.62"/><circle cx="357.32" cy="452.02" r="0.47"/><circle cx="358.72" cy="447.63" r="0.76"/><circle cx="358.84" cy="455.43" r="0.80"/><circle cx="354.42" cy="443.86" r="0.50"/><circle cx="349.55" cy="453.46" r="0.57"/><circle cx="355.00" cy="450.51" r="0.38"/><circle cx="353.40" cy="446.64" r="0.69"/><circle cx="360.45" cy="451.05" r="0.64"/><circle cx="348.64" cy="450.94" r="0.46"/></g>
<circle cx="379.10" cy="450.50" r="9.60" fill="#fbfbfb" stroke="#9a9a9a" stroke-width="0.7"/>
<path d="M377.06,460.35 A10.00,10.00 0 0 1 377.41,440.60" fill="none" stroke="#333" stroke-width="1.2"/>
<circle cx="379.60" cy="450.50" r="8.20" fill="#eeeeee" stroke="#999" stroke-opacity="0.6" stroke-width="0.6"/>
<g fill="#888" fill-opacity="0.6"><circle cx="382.33" cy="445.53" r="0.60"/><circle cx="374.07" cy="448.81" r="0.69"/><circle cx="382.13" cy="449.29" r="0.53"/><circle cx="382.48" cy="444.39" r="0.36"/><circle cx="383.77" cy="453.55" r="0.60"/><circle cx="380.06" cy="456.21" r="0.77"/><circle cx="383.09" cy="445.59" r="0.37"/><circle cx="382.89" cy="451.16" r="0.56"/><circle cx="384.13" cy="455.35" r="0.64"/><circle cx="383.75" cy="448.20" r="0.57"/><circle cx="381.54" cy="445.65" r="0.40"/><circle cx="379.52" cy="453.13" r="0.58"/><circle cx="377.62" cy="453.67" r="0.39"/><circle cx="384.45" cy="451.68" r="0.38"/><circle cx="384.00" cy="455.00" r="0.50"/><circle cx="384.59" cy="450.85" r="0.43"/></g>
<circle cx="403.90" cy="450.50" r="9.60" fill="#fbfbfb" stroke="#9a9a9a" stroke-width="0.7"/>
<path d="M401.86,460.35 A10.00,10.00 0 0 1 402.21,440.60" fill="none" stroke="#333" stroke-width="1.2"/>
<circle cx="404.40" cy="450.50" r="8.20" fill="#acacac" stroke="#999" stroke-opacity="0.6" stroke-width="0.6"/>
<g fill="#ffffff" fill-opacity="0.5"><circle cx="398.00" cy="450.32" r="0.96"/><circle cx="409.16" cy="448.77" r="1.78"/><circle cx="405.75" cy="456.54" r="0.93"/><circle cx="410.90" cy="450.04" r="1.61"/><circle cx="400.65" cy="455.71" r="0.85"/></g>
<g fill="#777" fill-opacity="0.6"><circle cx="403.48" cy="453.33" r="0.61"/><circle cx="407.40" cy="453.77" r="0.71"/><circle cx="399.49" cy="445.79" r="0.43"/><circle cx="402.36" cy="455.23" r="0.51"/><circle cx="399.43" cy="448.30" r="0.61"/><circle cx="405.19" cy="454.41" r="0.73"/><circle cx="399.98" cy="453.75" r="0.59"/><circle cx="409.09" cy="447.16" r="0.41"/><circle cx="400.89" cy="448.03" r="0.37"/><circle cx="398.68" cy="450.98" r="0.37"/><circle cx="403.43" cy="444.15" r="0.69"/><circle cx="408.80" cy="450.29" r="0.75"/><circle cx="401.89" cy="454.82" r="0.42"/><circle cx="406.46" cy="452.20" r="0.71"/><circle cx="404.62" cy="454.26" r="0.37"/><circle cx="405.23" cy="451.74" r="0.73"/><circle cx="402.95" cy="451.48" r="0.67"/><circle cx="404.29" cy="448.35" r="0.56"/><circle cx="405.12" cy="443.53" r="0.56"/><circle cx="409.33" cy="454.47" r="0.45"/></g>
<circle cx="354.80" cy="476.80" r="9.60" fill="#fbfbfb" stroke="#9a9a9a" stroke-width="0.7"/>
<path d="M352.76,486.65 A10.00,10.00 0 0 1 353.11,466.90" fill="none" stroke="#333" stroke-width="1.2"/>
<circle cx="355.30" cy="476.80" r="8.20" fill="#f2f2f2" stroke="#999" stroke-opacity="0.6" stroke-width="0.6"/>
<g fill="#888" fill-opacity="0.6"><circle cx="360.32" cy="474.46" r="0.48"/><circle cx="354.80" cy="480.35" r="0.57"/><circle cx="355.03" cy="479.72" r="0.56"/><circle cx="356.05" cy="471.19" r="0.37"/><circle cx="354.64" cy="476.45" r="0.40"/><circle cx="354.08" cy="476.67" r="0.35"/><circle cx="351.39" cy="474.93" r="0.71"/><circle cx="359.65" cy="480.42" r="0.52"/><circle cx="360.82" cy="481.32" r="0.66"/><circle cx="360.23" cy="476.14" r="0.55"/><circle cx="354.10" cy="472.89" r="0.57"/><circle cx="349.87" cy="472.03" r="0.74"/></g>
<circle cx="379.10" cy="476.80" r="9.60" fill="#fbfbfb" stroke="#9a9a9a" stroke-width="0.7"/>
<path d="M377.06,486.65 A10.00,10.00 0 0 1 377.41,466.90" fill="none" stroke="#333" stroke-width="1.2"/>
<circle cx="379.60" cy="476.80" r="8.20" fill="#e9e9e9" stroke="#999" stroke-opacity="0.6" stroke-width="0.6"/>
<g fill="#555" fill-opacity="0.6"><circle cx="374.51" cy="480.78" r="0.67"/><circle cx="380.27" cy="477.29" r="0.36"/><circle cx="377.46" cy="472.97" r="0.65"/><circle cx="385.40" cy="477.89" r="0.76"/><circle cx="376.87" cy="476.53" r="0.41"/><circle cx="375.09" cy="481.68" r="0.70"/><circle cx="373.07" cy="480.05" r="0.70"/><circle cx="378.70" cy="470.31" r="0.39"/><circle cx="382.69" cy="471.86" r="0.63"/><circle cx="385.97" cy="475.27" r="0.49"/><circle cx="380.93" cy="469.76" r="0.52"/><circle cx="382.67" cy="470.25" r="0.80"/><circle cx="383.54" cy="475.15" r="0.61"/><circle cx="375.14" cy="480.74" r="0.56"/><circle cx="378.34" cy="478.69" r="0.71"/><circle cx="386.57" cy="478.03" r="0.53"/><circle cx="377.89" cy="477.31" r="0.41"/><circle cx="383.32" cy="478.18" r="0.79"/><circle cx="380.85" cy="482.26" r="0.42"/><circle cx="376.62" cy="478.62" r="0.76"/><circle cx="375.52" cy="479.33" r="0.79"/><circle cx="380.01" cy="472.44" r="0.56"/><circle cx="373.72" cy="478.17" r="0.40"/><circle cx="378.16" cy="471.67" r="0.56"/><circle cx="386.27" cy="477.76" r="0.59"/><circle cx="378.55" cy="471.06" r="0.70"/></g>
<circle cx="403.90" cy="476.80" r="9.60" fill="#fbfbfb" stroke="#9a9a9a" stroke-width="0.7"/>
<path d="M401.86,486.65 A10.00,10.00 0 0 1 402.21,466.90" fill="none" stroke="#333" stroke-width="1.2"/>
<circle cx="404.40" cy="476.80" r="8.20" fill="#b0b0b0" stroke="#999" stroke-opacity="0.6" stroke-width="0.6"/>
<g fill="#ffffff" fill-opacity="0.5"><circle cx="411.27" cy="476.76" r="1.46"/><circle cx="404.61" cy="483.41" r="1.28"/><circle cx="410.89" cy="478.22" r="1.58"/><circle cx="408.81" cy="476.29" r="1.01"/><circle cx="407.53" cy="476.85" r="1.32"/></g>
<g fill="#777" fill-opacity="0.6"><circle cx="410.51" cy="473.09" r="0.70"/><circle cx="402.31" cy="475.49" r="0.41"/><circle cx="405.98" cy="476.03" r="0.59"/><circle cx="404.41" cy="470.38" r="0.53"/><circle cx="407.51" cy="480.30" r="0.76"/><circle cx="403.36" cy="475.45" r="0.64"/><circle cx="406.55" cy="481.74" r="0.60"/><circle cx="408.17" cy="478.62" r="0.42"/><circle cx="401.68" cy="474.72" r="0.40"/><circle cx="410.42" cy="477.13" r="0.62"/><circle cx="410.40" cy="478.86" r="0.76"/><circle cx="401.48" cy="479.20" r="0.39"/><circle cx="406.94" cy="482.28" r="0.54"/><circle cx="402.60" cy="473.78" r="0.52"/><circle cx="403.18" cy="483.66" r="0.36"/><circle cx="404.64" cy="481.46" r="0.63"/><circle cx="399.57" cy="475.18" r="0.56"/><circle cx="401.40" cy="476.33" r="0.57"/><circle cx="407.25" cy="472.64" r="0.72"/><circle cx="406.07" cy="473.28" r="0.63"/></g>
<rect x="342.2" y="437.6" width="75.6" height="50.5" fill="none" stroke="#000" stroke-width="1.6"/>
<line x1="355.00" y1="488.50" x2="355.00" y2="492.80" stroke="#000" stroke-width="1.3"/>
<text transform="translate(343.95,506.14) scale(0.9645,1)" font-size="10.550" fill="#111">0.36</text>
<line x1="379.50" y1="488.50" x2="379.50" y2="492.80" stroke="#000" stroke-width="1.3"/>
<text transform="translate(368.70,506.55) scale(1.0243,1)" font-size="10.550" fill="#111">1.22</text>
<line x1="405.00" y1="488.50" x2="405.00" y2="492.80" stroke="#000" stroke-width="1.3"/>
<text transform="translate(395.01,506.32) scale(0.9676,1)" font-size="10.550" fill="#111">3.66</text>
</svg>
</body></html>
